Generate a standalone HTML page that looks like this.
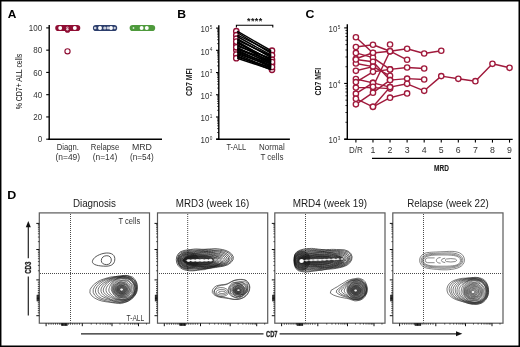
<!DOCTYPE html>
<html><head><meta charset="utf-8"><style>
html,body{margin:0;padding:0;background:#fff;}
svg{display:block;font-family:"Liberation Sans", sans-serif;will-change:transform;}
</style></head><body>
<svg xmlns="http://www.w3.org/2000/svg" width="520" height="347" viewBox="0 0 520 347">
<rect width="520" height="347" fill="#fff"/>
<rect x="0" y="0" width="520" height="1.5" fill="#000"/>
<rect x="0" y="0" width="1.45" height="347" fill="#000"/>
<rect x="518.5" y="0" width="1.5" height="347" fill="#000"/>
<rect x="0" y="345.5" width="520" height="1.5" fill="#000"/>
<text x="7.7" y="17.9" font-size="11.3" text-anchor="start" font-weight="bold" fill="#000" textLength="8.6" lengthAdjust="spacingAndGlyphs">A</text>
<text x="177.3" y="17.9" font-size="11.3" text-anchor="start" font-weight="bold" fill="#000" textLength="8.8" lengthAdjust="spacingAndGlyphs">B</text>
<text x="305.6" y="17.9" font-size="11.3" text-anchor="start" font-weight="bold" fill="#000" textLength="8.9" lengthAdjust="spacingAndGlyphs">C</text>
<text x="7.3" y="199.3" font-size="11.3" text-anchor="start" font-weight="bold" fill="#000" textLength="9" lengthAdjust="spacingAndGlyphs">D</text>
<line x1="49.2" y1="25" x2="49.2" y2="139.9" stroke="#000" stroke-width="1.4"/>
<line x1="48.5" y1="139.2" x2="162" y2="139.2" stroke="#000" stroke-width="1.4"/>
<line x1="46.2" y1="139.2" x2="49.2" y2="139.2" stroke="#000" stroke-width="1.1"/>
<text x="42.2" y="142.3" font-size="8.7" text-anchor="end" font-weight="normal" fill="#333" textLength="4.45" lengthAdjust="spacingAndGlyphs">0</text>
<line x1="46.2" y1="116.94" x2="49.2" y2="116.94" stroke="#000" stroke-width="1.1"/>
<text x="42.2" y="120.04" font-size="8.7" text-anchor="end" font-weight="normal" fill="#333" textLength="8.9" lengthAdjust="spacingAndGlyphs">20</text>
<line x1="46.2" y1="94.68" x2="49.2" y2="94.68" stroke="#000" stroke-width="1.1"/>
<text x="42.2" y="97.78" font-size="8.7" text-anchor="end" font-weight="normal" fill="#333" textLength="8.9" lengthAdjust="spacingAndGlyphs">40</text>
<line x1="46.2" y1="72.42" x2="49.2" y2="72.42" stroke="#000" stroke-width="1.1"/>
<text x="42.2" y="75.52" font-size="8.7" text-anchor="end" font-weight="normal" fill="#333" textLength="8.9" lengthAdjust="spacingAndGlyphs">60</text>
<line x1="46.2" y1="50.16" x2="49.2" y2="50.16" stroke="#000" stroke-width="1.1"/>
<text x="42.2" y="53.26" font-size="8.7" text-anchor="end" font-weight="normal" fill="#333" textLength="8.9" lengthAdjust="spacingAndGlyphs">80</text>
<line x1="46.2" y1="27.9" x2="49.2" y2="27.9" stroke="#000" stroke-width="1.1"/>
<text x="42.2" y="31" font-size="8.7" text-anchor="end" font-weight="normal" fill="#333" textLength="13.35" lengthAdjust="spacingAndGlyphs">100</text>
<text x="22.2" y="81.5" font-size="9.4" text-anchor="middle" font-weight="normal" fill="#111" textLength="55.6" lengthAdjust="spacingAndGlyphs" transform="rotate(-90 22.2 81.5)">% CD7+ ALL cells</text>
<text x="67.8" y="149.7" font-size="8.8" text-anchor="middle" font-weight="normal" fill="#333" textLength="22.1" lengthAdjust="spacingAndGlyphs">Diagn.</text>
<text x="67.8" y="159.5" font-size="8.8" text-anchor="middle" font-weight="normal" fill="#333" textLength="24.6" lengthAdjust="spacingAndGlyphs">(n=49)</text>
<text x="105" y="149.7" font-size="8.8" text-anchor="middle" font-weight="normal" fill="#333" textLength="28.4" lengthAdjust="spacingAndGlyphs">Relapse</text>
<text x="105" y="159.5" font-size="8.8" text-anchor="middle" font-weight="normal" fill="#333" textLength="24.6" lengthAdjust="spacingAndGlyphs">(n=14)</text>
<text x="141.9" y="149.7" font-size="8.8" text-anchor="middle" font-weight="normal" fill="#333" textLength="20" lengthAdjust="spacingAndGlyphs">MRD</text>
<text x="141.9" y="159.5" font-size="8.8" text-anchor="middle" font-weight="normal" fill="#333" textLength="23.9" lengthAdjust="spacingAndGlyphs">(n=54)</text>
<rect x="55.2" y="24.9" width="25.1" height="6.2" rx="3.1" fill="#8f0d33"/>
<circle cx="60.2" cy="28" r="1.95" fill="#fff"/>
<circle cx="74.8" cy="28" r="1.95" fill="#fff"/>
<circle cx="67.3" cy="28" r="1.5" fill="#fff" fill-opacity="0.75"/>
<circle cx="67.5" cy="30.2" r="2.6" fill="#8f0d33"/>
<circle cx="67.4" cy="29.2" r="1.2" fill="#fff" fill-opacity="0.8"/>
<circle cx="67.5" cy="51.3" r="2.6" fill="#fff" stroke="#8f0d33" stroke-width="1.15"/>
<rect x="92.9" y="24.9" width="24.3" height="6.2" rx="3.1" fill="#2c3e6c"/>
<circle cx="100" cy="28" r="1.95" fill="#fff"/>
<circle cx="111" cy="28" r="1.95" fill="#fff"/>
<circle cx="95.2" cy="28" r="1.3" fill="#fff" fill-opacity="0.75"/>
<circle cx="104.8" cy="28" r="1.6" fill="#fff" fill-opacity="0.75"/>
<circle cx="108" cy="28" r="1.4" fill="#fff" fill-opacity="0.75"/>
<circle cx="114.7" cy="28" r="1.2" fill="#fff" fill-opacity="0.75"/>
<rect x="129.6" y="24.9" width="25.6" height="6.2" rx="3.1" fill="#4e9a3c"/>
<circle cx="141.6" cy="28" r="1.95" fill="#fff"/>
<circle cx="146.8" cy="28" r="1.95" fill="#fff"/>
<circle cx="133.5" cy="28" r="0.9" fill="#fff" fill-opacity="0.75"/>
<line x1="218.8" y1="25.2" x2="218.8" y2="139.9" stroke="#000" stroke-width="1.4"/>
<line x1="216.3" y1="139.2" x2="289.9" y2="139.2" stroke="#000" stroke-width="1.4"/>
<line x1="216.0" y1="139.2" x2="218.8" y2="139.2" stroke="#000" stroke-width="1.1"/>
<text x="209.4" y="143.4" font-size="8.9" text-anchor="end" font-weight="normal" fill="#333" textLength="8.8" lengthAdjust="spacingAndGlyphs">10</text>
<text x="209.8" y="140" font-size="5.4" text-anchor="start" font-weight="normal" fill="#333" textLength="2.6" lengthAdjust="spacingAndGlyphs">0</text>
<line x1="217.2" y1="132.51" x2="218.8" y2="132.51" stroke="#000" stroke-width="0.8"/>
<line x1="217.2" y1="128.6" x2="218.8" y2="128.6" stroke="#000" stroke-width="0.8"/>
<line x1="217.2" y1="125.82" x2="218.8" y2="125.82" stroke="#000" stroke-width="0.8"/>
<line x1="217.2" y1="123.67" x2="218.8" y2="123.67" stroke="#000" stroke-width="0.8"/>
<line x1="217.2" y1="121.91" x2="218.8" y2="121.91" stroke="#000" stroke-width="0.8"/>
<line x1="217.2" y1="120.42" x2="218.8" y2="120.42" stroke="#000" stroke-width="0.8"/>
<line x1="217.2" y1="119.13" x2="218.8" y2="119.13" stroke="#000" stroke-width="0.8"/>
<line x1="217.2" y1="118" x2="218.8" y2="118" stroke="#000" stroke-width="0.8"/>
<line x1="216.0" y1="116.98" x2="218.8" y2="116.98" stroke="#000" stroke-width="1.1"/>
<text x="209.4" y="121.18" font-size="8.9" text-anchor="end" font-weight="normal" fill="#333" textLength="8.8" lengthAdjust="spacingAndGlyphs">10</text>
<text x="209.8" y="117.78" font-size="5.4" text-anchor="start" font-weight="normal" fill="#333" textLength="2.6" lengthAdjust="spacingAndGlyphs">1</text>
<line x1="217.2" y1="110.29" x2="218.8" y2="110.29" stroke="#000" stroke-width="0.8"/>
<line x1="217.2" y1="106.38" x2="218.8" y2="106.38" stroke="#000" stroke-width="0.8"/>
<line x1="217.2" y1="103.6" x2="218.8" y2="103.6" stroke="#000" stroke-width="0.8"/>
<line x1="217.2" y1="101.45" x2="218.8" y2="101.45" stroke="#000" stroke-width="0.8"/>
<line x1="217.2" y1="99.69" x2="218.8" y2="99.69" stroke="#000" stroke-width="0.8"/>
<line x1="217.2" y1="98.2" x2="218.8" y2="98.2" stroke="#000" stroke-width="0.8"/>
<line x1="217.2" y1="96.91" x2="218.8" y2="96.91" stroke="#000" stroke-width="0.8"/>
<line x1="217.2" y1="95.78" x2="218.8" y2="95.78" stroke="#000" stroke-width="0.8"/>
<line x1="216.0" y1="94.76" x2="218.8" y2="94.76" stroke="#000" stroke-width="1.1"/>
<text x="209.4" y="98.96" font-size="8.9" text-anchor="end" font-weight="normal" fill="#333" textLength="8.8" lengthAdjust="spacingAndGlyphs">10</text>
<text x="209.8" y="95.56" font-size="5.4" text-anchor="start" font-weight="normal" fill="#333" textLength="2.6" lengthAdjust="spacingAndGlyphs">2</text>
<line x1="217.2" y1="88.07" x2="218.8" y2="88.07" stroke="#000" stroke-width="0.8"/>
<line x1="217.2" y1="84.16" x2="218.8" y2="84.16" stroke="#000" stroke-width="0.8"/>
<line x1="217.2" y1="81.38" x2="218.8" y2="81.38" stroke="#000" stroke-width="0.8"/>
<line x1="217.2" y1="79.23" x2="218.8" y2="79.23" stroke="#000" stroke-width="0.8"/>
<line x1="217.2" y1="77.47" x2="218.8" y2="77.47" stroke="#000" stroke-width="0.8"/>
<line x1="217.2" y1="75.98" x2="218.8" y2="75.98" stroke="#000" stroke-width="0.8"/>
<line x1="217.2" y1="74.69" x2="218.8" y2="74.69" stroke="#000" stroke-width="0.8"/>
<line x1="217.2" y1="73.56" x2="218.8" y2="73.56" stroke="#000" stroke-width="0.8"/>
<line x1="216.0" y1="72.54" x2="218.8" y2="72.54" stroke="#000" stroke-width="1.1"/>
<text x="209.4" y="76.74" font-size="8.9" text-anchor="end" font-weight="normal" fill="#333" textLength="8.8" lengthAdjust="spacingAndGlyphs">10</text>
<text x="209.8" y="73.34" font-size="5.4" text-anchor="start" font-weight="normal" fill="#333" textLength="2.6" lengthAdjust="spacingAndGlyphs">3</text>
<line x1="217.2" y1="65.85" x2="218.8" y2="65.85" stroke="#000" stroke-width="0.8"/>
<line x1="217.2" y1="61.94" x2="218.8" y2="61.94" stroke="#000" stroke-width="0.8"/>
<line x1="217.2" y1="59.16" x2="218.8" y2="59.16" stroke="#000" stroke-width="0.8"/>
<line x1="217.2" y1="57.01" x2="218.8" y2="57.01" stroke="#000" stroke-width="0.8"/>
<line x1="217.2" y1="55.25" x2="218.8" y2="55.25" stroke="#000" stroke-width="0.8"/>
<line x1="217.2" y1="53.76" x2="218.8" y2="53.76" stroke="#000" stroke-width="0.8"/>
<line x1="217.2" y1="52.47" x2="218.8" y2="52.47" stroke="#000" stroke-width="0.8"/>
<line x1="217.2" y1="51.34" x2="218.8" y2="51.34" stroke="#000" stroke-width="0.8"/>
<line x1="216.0" y1="50.32" x2="218.8" y2="50.32" stroke="#000" stroke-width="1.1"/>
<text x="209.4" y="54.52" font-size="8.9" text-anchor="end" font-weight="normal" fill="#333" textLength="8.8" lengthAdjust="spacingAndGlyphs">10</text>
<text x="209.8" y="51.12" font-size="5.4" text-anchor="start" font-weight="normal" fill="#333" textLength="2.6" lengthAdjust="spacingAndGlyphs">4</text>
<line x1="217.2" y1="43.63" x2="218.8" y2="43.63" stroke="#000" stroke-width="0.8"/>
<line x1="217.2" y1="39.72" x2="218.8" y2="39.72" stroke="#000" stroke-width="0.8"/>
<line x1="217.2" y1="36.94" x2="218.8" y2="36.94" stroke="#000" stroke-width="0.8"/>
<line x1="217.2" y1="34.79" x2="218.8" y2="34.79" stroke="#000" stroke-width="0.8"/>
<line x1="217.2" y1="33.03" x2="218.8" y2="33.03" stroke="#000" stroke-width="0.8"/>
<line x1="217.2" y1="31.54" x2="218.8" y2="31.54" stroke="#000" stroke-width="0.8"/>
<line x1="217.2" y1="30.25" x2="218.8" y2="30.25" stroke="#000" stroke-width="0.8"/>
<line x1="217.2" y1="29.12" x2="218.8" y2="29.12" stroke="#000" stroke-width="0.8"/>
<line x1="216.0" y1="28.1" x2="218.8" y2="28.1" stroke="#000" stroke-width="1.1"/>
<text x="209.4" y="32.3" font-size="8.9" text-anchor="end" font-weight="normal" fill="#333" textLength="8.8" lengthAdjust="spacingAndGlyphs">10</text>
<text x="209.8" y="28.9" font-size="5.4" text-anchor="start" font-weight="normal" fill="#333" textLength="2.6" lengthAdjust="spacingAndGlyphs">5</text>
<text x="192.3" y="82.1" font-size="8.9" text-anchor="middle" font-weight="bold" fill="#222" textLength="27.7" lengthAdjust="spacingAndGlyphs" transform="rotate(-90 192.3 82.1)">CD7 MFI</text>
<text x="236.3" y="149.6" font-size="8.8" text-anchor="middle" font-weight="normal" fill="#333" textLength="19.8" lengthAdjust="spacingAndGlyphs">T-ALL</text>
<text x="271.9" y="149.6" font-size="8.8" text-anchor="middle" font-weight="normal" fill="#333" textLength="25.6" lengthAdjust="spacingAndGlyphs">Normal</text>
<text x="271.9" y="159.6" font-size="8.8" text-anchor="middle" font-weight="normal" fill="#333" textLength="23" lengthAdjust="spacingAndGlyphs">T cells</text>
<path d="M236.4 27.6 V25.2 H272.8 V27.6" fill="none" stroke="#000" stroke-width="1.1"/>
<text x="248.8" y="24.2" font-size="9.0" text-anchor="middle" font-weight="bold" fill="#111" >*</text>
<text x="252.7" y="24.2" font-size="9.0" text-anchor="middle" font-weight="bold" fill="#111" >*</text>
<text x="256.6" y="24.2" font-size="9.0" text-anchor="middle" font-weight="bold" fill="#111" >*</text>
<text x="260.5" y="24.2" font-size="9.0" text-anchor="middle" font-weight="bold" fill="#111" >*</text>
<circle cx="236.3" cy="31.2" r="2.7" fill="#fff" stroke="#8f0d33" stroke-width="1.3"/>
<circle cx="236.3" cy="35.2" r="2.7" fill="#fff" stroke="#8f0d33" stroke-width="1.3"/>
<circle cx="236.3" cy="38.7" r="2.7" fill="#fff" stroke="#8f0d33" stroke-width="1.3"/>
<circle cx="236.3" cy="44.7" r="2.7" fill="#fff" stroke="#8f0d33" stroke-width="1.3"/>
<circle cx="236.3" cy="41.6" r="2.7" fill="#fff" stroke="#8f0d33" stroke-width="1.3"/>
<circle cx="236.3" cy="50" r="2.7" fill="#fff" stroke="#8f0d33" stroke-width="1.3"/>
<circle cx="236.3" cy="47.3" r="2.7" fill="#fff" stroke="#8f0d33" stroke-width="1.3"/>
<circle cx="236.3" cy="54.5" r="2.7" fill="#fff" stroke="#8f0d33" stroke-width="1.3"/>
<circle cx="236.3" cy="58.2" r="2.7" fill="#fff" stroke="#8f0d33" stroke-width="1.3"/>
<circle cx="272" cy="50.7" r="2.7" fill="#fff" stroke="#8f0d33" stroke-width="1.3"/>
<circle cx="272" cy="55.2" r="2.7" fill="#fff" stroke="#8f0d33" stroke-width="1.3"/>
<circle cx="272" cy="59.7" r="2.7" fill="#fff" stroke="#8f0d33" stroke-width="1.3"/>
<circle cx="272" cy="64.2" r="2.7" fill="#fff" stroke="#8f0d33" stroke-width="1.3"/>
<circle cx="272" cy="62" r="2.7" fill="#fff" stroke="#8f0d33" stroke-width="1.3"/>
<circle cx="272" cy="69.8" r="2.7" fill="#fff" stroke="#8f0d33" stroke-width="1.3"/>
<circle cx="272" cy="67" r="2.7" fill="#fff" stroke="#8f0d33" stroke-width="1.3"/>
<line x1="237.2" y1="31.2" x2="271.2" y2="50.7" stroke="#000" stroke-width="1.45"/>
<line x1="237.2" y1="32.5" x2="271.2" y2="53.5" stroke="#000" stroke-width="1.45"/>
<line x1="237.2" y1="34.8" x2="271.2" y2="52" stroke="#000" stroke-width="1.45"/>
<line x1="237.2" y1="36.5" x2="271.2" y2="55.2" stroke="#000" stroke-width="1.45"/>
<line x1="237.2" y1="38.7" x2="271.2" y2="57.5" stroke="#000" stroke-width="1.45"/>
<line x1="237.2" y1="40" x2="271.2" y2="56" stroke="#000" stroke-width="1.45"/>
<line x1="237.2" y1="41.5" x2="271.2" y2="60.5" stroke="#000" stroke-width="1.45"/>
<line x1="237.2" y1="43" x2="271.2" y2="59.7" stroke="#000" stroke-width="1.45"/>
<line x1="237.2" y1="44.7" x2="271.2" y2="62" stroke="#000" stroke-width="1.45"/>
<line x1="237.2" y1="46" x2="271.2" y2="58.5" stroke="#000" stroke-width="1.45"/>
<line x1="237.2" y1="47.4" x2="271.2" y2="64.2" stroke="#000" stroke-width="1.45"/>
<line x1="237.2" y1="49" x2="271.2" y2="62.5" stroke="#000" stroke-width="1.45"/>
<line x1="237.2" y1="50" x2="271.2" y2="66" stroke="#000" stroke-width="1.45"/>
<line x1="237.2" y1="51.5" x2="271.2" y2="64" stroke="#000" stroke-width="1.45"/>
<line x1="237.2" y1="52.2" x2="271.2" y2="67" stroke="#000" stroke-width="1.45"/>
<line x1="237.2" y1="53.5" x2="271.2" y2="65.5" stroke="#000" stroke-width="1.45"/>
<line x1="237.2" y1="54.5" x2="271.2" y2="68.5" stroke="#000" stroke-width="1.45"/>
<line x1="237.2" y1="56" x2="271.2" y2="69.8" stroke="#000" stroke-width="1.45"/>
<line x1="237.2" y1="58.2" x2="271.2" y2="69.5" stroke="#000" stroke-width="1.45"/>
<line x1="237.2" y1="57" x2="271.2" y2="67.5" stroke="#000" stroke-width="1.45"/>
<line x1="237.2" y1="42" x2="271.2" y2="63.5" stroke="#000" stroke-width="1.45"/>
<line x1="237.2" y1="48.5" x2="271.2" y2="60.8" stroke="#000" stroke-width="1.45"/>
<line x1="347.3" y1="24.2" x2="347.3" y2="139.7" stroke="#000" stroke-width="1.4"/>
<line x1="344.2" y1="139.4" x2="512.7" y2="139.4" stroke="#000" stroke-width="1.4"/>
<line x1="344.2" y1="139" x2="347.3" y2="139" stroke="#000" stroke-width="1.1"/>
<text x="337.4" y="143.2" font-size="8.9" text-anchor="end" font-weight="normal" fill="#333" textLength="8.8" lengthAdjust="spacingAndGlyphs">10</text>
<text x="337.8" y="139.8" font-size="5.4" text-anchor="start" font-weight="normal" fill="#333" textLength="2.6" lengthAdjust="spacingAndGlyphs">3</text>
<line x1="345.4" y1="122.28" x2="347.3" y2="122.28" stroke="#000" stroke-width="0.8"/>
<line x1="345.4" y1="112.5" x2="347.3" y2="112.5" stroke="#000" stroke-width="0.8"/>
<line x1="345.4" y1="105.56" x2="347.3" y2="105.56" stroke="#000" stroke-width="0.8"/>
<line x1="345.4" y1="100.17" x2="347.3" y2="100.17" stroke="#000" stroke-width="0.8"/>
<line x1="345.4" y1="95.77" x2="347.3" y2="95.77" stroke="#000" stroke-width="0.8"/>
<line x1="345.4" y1="92.05" x2="347.3" y2="92.05" stroke="#000" stroke-width="0.8"/>
<line x1="345.4" y1="88.83" x2="347.3" y2="88.83" stroke="#000" stroke-width="0.8"/>
<line x1="345.4" y1="85.99" x2="347.3" y2="85.99" stroke="#000" stroke-width="0.8"/>
<line x1="344.2" y1="83.45" x2="347.3" y2="83.45" stroke="#000" stroke-width="1.1"/>
<text x="337.4" y="87.65" font-size="8.9" text-anchor="end" font-weight="normal" fill="#333" textLength="8.8" lengthAdjust="spacingAndGlyphs">10</text>
<text x="337.8" y="84.25" font-size="5.4" text-anchor="start" font-weight="normal" fill="#333" textLength="2.6" lengthAdjust="spacingAndGlyphs">4</text>
<line x1="345.4" y1="66.73" x2="347.3" y2="66.73" stroke="#000" stroke-width="0.8"/>
<line x1="345.4" y1="56.95" x2="347.3" y2="56.95" stroke="#000" stroke-width="0.8"/>
<line x1="345.4" y1="50.01" x2="347.3" y2="50.01" stroke="#000" stroke-width="0.8"/>
<line x1="345.4" y1="44.62" x2="347.3" y2="44.62" stroke="#000" stroke-width="0.8"/>
<line x1="345.4" y1="40.22" x2="347.3" y2="40.22" stroke="#000" stroke-width="0.8"/>
<line x1="345.4" y1="36.5" x2="347.3" y2="36.5" stroke="#000" stroke-width="0.8"/>
<line x1="345.4" y1="33.28" x2="347.3" y2="33.28" stroke="#000" stroke-width="0.8"/>
<line x1="345.4" y1="30.44" x2="347.3" y2="30.44" stroke="#000" stroke-width="0.8"/>
<line x1="344.2" y1="27.9" x2="347.3" y2="27.9" stroke="#000" stroke-width="1.1"/>
<text x="337.4" y="32.1" font-size="8.9" text-anchor="end" font-weight="normal" fill="#333" textLength="8.8" lengthAdjust="spacingAndGlyphs">10</text>
<text x="337.8" y="28.7" font-size="5.4" text-anchor="start" font-weight="normal" fill="#333" textLength="2.6" lengthAdjust="spacingAndGlyphs">5</text>
<text x="321" y="81.6" font-size="8.9" text-anchor="middle" font-weight="bold" fill="#222" textLength="27.6" lengthAdjust="spacingAndGlyphs" transform="rotate(-90 321 81.6)">CD7 MFI</text>
<line x1="355.9" y1="139.4" x2="355.9" y2="142.6" stroke="#000" stroke-width="1.1"/>
<text x="355.9" y="153.3" font-size="8.8" text-anchor="middle" font-weight="normal" fill="#333" textLength="13.8" lengthAdjust="spacingAndGlyphs">D/R</text>
<line x1="372.97" y1="139.4" x2="372.97" y2="142.6" stroke="#000" stroke-width="1.1"/>
<text x="372.97" y="153.3" font-size="8.8" text-anchor="middle" font-weight="normal" fill="#333" textLength="4.9" lengthAdjust="spacingAndGlyphs">1</text>
<line x1="390.04" y1="139.4" x2="390.04" y2="142.6" stroke="#000" stroke-width="1.1"/>
<text x="390.04" y="153.3" font-size="8.8" text-anchor="middle" font-weight="normal" fill="#333" textLength="4.9" lengthAdjust="spacingAndGlyphs">2</text>
<line x1="407.11" y1="139.4" x2="407.11" y2="142.6" stroke="#000" stroke-width="1.1"/>
<text x="407.11" y="153.3" font-size="8.8" text-anchor="middle" font-weight="normal" fill="#333" textLength="4.9" lengthAdjust="spacingAndGlyphs">3</text>
<line x1="424.18" y1="139.4" x2="424.18" y2="142.6" stroke="#000" stroke-width="1.1"/>
<text x="424.18" y="153.3" font-size="8.8" text-anchor="middle" font-weight="normal" fill="#333" textLength="4.9" lengthAdjust="spacingAndGlyphs">4</text>
<line x1="441.25" y1="139.4" x2="441.25" y2="142.6" stroke="#000" stroke-width="1.1"/>
<text x="441.25" y="153.3" font-size="8.8" text-anchor="middle" font-weight="normal" fill="#333" textLength="4.9" lengthAdjust="spacingAndGlyphs">5</text>
<line x1="458.32" y1="139.4" x2="458.32" y2="142.6" stroke="#000" stroke-width="1.1"/>
<text x="458.32" y="153.3" font-size="8.8" text-anchor="middle" font-weight="normal" fill="#333" textLength="4.9" lengthAdjust="spacingAndGlyphs">6</text>
<line x1="475.39" y1="139.4" x2="475.39" y2="142.6" stroke="#000" stroke-width="1.1"/>
<text x="475.39" y="153.3" font-size="8.8" text-anchor="middle" font-weight="normal" fill="#333" textLength="4.9" lengthAdjust="spacingAndGlyphs">7</text>
<line x1="492.46" y1="139.4" x2="492.46" y2="142.6" stroke="#000" stroke-width="1.1"/>
<text x="492.46" y="153.3" font-size="8.8" text-anchor="middle" font-weight="normal" fill="#333" textLength="4.9" lengthAdjust="spacingAndGlyphs">8</text>
<line x1="509.53" y1="139.4" x2="509.53" y2="142.6" stroke="#000" stroke-width="1.1"/>
<text x="509.53" y="153.3" font-size="8.8" text-anchor="middle" font-weight="normal" fill="#333" textLength="4.9" lengthAdjust="spacingAndGlyphs">9</text>
<line x1="372" y1="158.4" x2="511" y2="158.4" stroke="#000" stroke-width="1.3"/>
<text x="441.5" y="170.9" font-size="9.8" text-anchor="middle" font-weight="bold" fill="#222" stroke="#222" stroke-width="0.15" textLength="14.8" lengthAdjust="spacingAndGlyphs">MRD</text>
<path d="M355.9 47 L372.97 44.7 L390.04 51.2 L407.11 48.7 L424.18 53.5 L441.25 50.7" fill="none" stroke="#a01a3c" stroke-width="1.45" stroke-linejoin="round"/>
<path d="M355.9 37.2 L372.97 53 L390.04 51.2 L407.11 59.8" fill="none" stroke="#a01a3c" stroke-width="1.45" stroke-linejoin="round"/>
<path d="M390.04 44.5" fill="none" stroke="#a01a3c" stroke-width="1.45" stroke-linejoin="round"/>
<path d="M355.9 52.9 L372.97 57.6 L390.04 69.4 L407.11 67.5 L424.18 68.5" fill="none" stroke="#a01a3c" stroke-width="1.45" stroke-linejoin="round"/>
<path d="M355.9 58.8 L372.97 52.8" fill="none" stroke="#a01a3c" stroke-width="1.45" stroke-linejoin="round"/>
<path d="M355.9 63.5 L372.97 66.6 L390.04 75.8" fill="none" stroke="#a01a3c" stroke-width="1.45" stroke-linejoin="round"/>
<path d="M355.9 59.5 L372.97 61.8 L390.04 80.1 L407.11 78.6 L424.18 79.5" fill="none" stroke="#a01a3c" stroke-width="1.45" stroke-linejoin="round"/>
<path d="M355.9 70.8 L372.97 66.6" fill="none" stroke="#a01a3c" stroke-width="1.45" stroke-linejoin="round"/>
<path d="M355.9 79 L372.97 82.9 L390.04 87.1 L407.11 83.8 L424.18 90.8 L441.25 76.1 L458.32 78.8 L475.39 81.2 L492.46 63.8 L509.53 67.8" fill="none" stroke="#a01a3c" stroke-width="1.45" stroke-linejoin="round"/>
<path d="M355.9 82.1 L372.97 71.8 L390.04 69.4" fill="none" stroke="#a01a3c" stroke-width="1.45" stroke-linejoin="round"/>
<path d="M355.9 87.6 L372.97 87.6 L390.04 88.6" fill="none" stroke="#a01a3c" stroke-width="1.45" stroke-linejoin="round"/>
<path d="M355.9 93.7 L372.97 82.9" fill="none" stroke="#a01a3c" stroke-width="1.45" stroke-linejoin="round"/>
<path d="M355.9 98.7 L372.97 106.8 L390.04 97.7 L407.11 93.4" fill="none" stroke="#a01a3c" stroke-width="1.45" stroke-linejoin="round"/>
<path d="M355.9 104.3 L372.97 92.7 L390.04 80.1" fill="none" stroke="#a01a3c" stroke-width="1.45" stroke-linejoin="round"/>
<path d="M372.97 86.8 L390.04 51.2" fill="none" stroke="#a01a3c" stroke-width="1.45" stroke-linejoin="round"/>
<path d="M372.97 106.8 L390.04 87.1" fill="none" stroke="#a01a3c" stroke-width="1.45" stroke-linejoin="round"/>
<circle cx="355.9" cy="47" r="2.65" fill="#fff" stroke="#a01a3c" stroke-width="1.35"/>
<circle cx="372.97" cy="44.7" r="2.65" fill="#fff" stroke="#a01a3c" stroke-width="1.35"/>
<circle cx="390.04" cy="51.2" r="2.65" fill="#fff" stroke="#a01a3c" stroke-width="1.35"/>
<circle cx="407.11" cy="48.7" r="2.65" fill="#fff" stroke="#a01a3c" stroke-width="1.35"/>
<circle cx="424.18" cy="53.5" r="2.65" fill="#fff" stroke="#a01a3c" stroke-width="1.35"/>
<circle cx="441.25" cy="50.7" r="2.65" fill="#fff" stroke="#a01a3c" stroke-width="1.35"/>
<circle cx="355.9" cy="37.2" r="2.65" fill="#fff" stroke="#a01a3c" stroke-width="1.35"/>
<circle cx="372.97" cy="53" r="2.65" fill="#fff" stroke="#a01a3c" stroke-width="1.35"/>
<circle cx="390.04" cy="51.2" r="2.65" fill="#fff" stroke="#a01a3c" stroke-width="1.35"/>
<circle cx="407.11" cy="59.8" r="2.65" fill="#fff" stroke="#a01a3c" stroke-width="1.35"/>
<circle cx="390.04" cy="44.5" r="2.65" fill="#fff" stroke="#a01a3c" stroke-width="1.35"/>
<circle cx="355.9" cy="52.9" r="2.65" fill="#fff" stroke="#a01a3c" stroke-width="1.35"/>
<circle cx="372.97" cy="57.6" r="2.65" fill="#fff" stroke="#a01a3c" stroke-width="1.35"/>
<circle cx="390.04" cy="69.4" r="2.65" fill="#fff" stroke="#a01a3c" stroke-width="1.35"/>
<circle cx="407.11" cy="67.5" r="2.65" fill="#fff" stroke="#a01a3c" stroke-width="1.35"/>
<circle cx="424.18" cy="68.5" r="2.65" fill="#fff" stroke="#a01a3c" stroke-width="1.35"/>
<circle cx="355.9" cy="58.8" r="2.65" fill="#fff" stroke="#a01a3c" stroke-width="1.35"/>
<circle cx="372.97" cy="52.8" r="2.65" fill="#fff" stroke="#a01a3c" stroke-width="1.35"/>
<circle cx="355.9" cy="63.5" r="2.65" fill="#fff" stroke="#a01a3c" stroke-width="1.35"/>
<circle cx="372.97" cy="66.6" r="2.65" fill="#fff" stroke="#a01a3c" stroke-width="1.35"/>
<circle cx="390.04" cy="75.8" r="2.65" fill="#fff" stroke="#a01a3c" stroke-width="1.35"/>
<circle cx="355.9" cy="59.5" r="2.65" fill="#fff" stroke="#a01a3c" stroke-width="1.35"/>
<circle cx="372.97" cy="61.8" r="2.65" fill="#fff" stroke="#a01a3c" stroke-width="1.35"/>
<circle cx="390.04" cy="80.1" r="2.65" fill="#fff" stroke="#a01a3c" stroke-width="1.35"/>
<circle cx="407.11" cy="78.6" r="2.65" fill="#fff" stroke="#a01a3c" stroke-width="1.35"/>
<circle cx="424.18" cy="79.5" r="2.65" fill="#fff" stroke="#a01a3c" stroke-width="1.35"/>
<circle cx="355.9" cy="70.8" r="2.65" fill="#fff" stroke="#a01a3c" stroke-width="1.35"/>
<circle cx="372.97" cy="66.6" r="2.65" fill="#fff" stroke="#a01a3c" stroke-width="1.35"/>
<circle cx="355.9" cy="79" r="2.65" fill="#fff" stroke="#a01a3c" stroke-width="1.35"/>
<circle cx="372.97" cy="82.9" r="2.65" fill="#fff" stroke="#a01a3c" stroke-width="1.35"/>
<circle cx="390.04" cy="87.1" r="2.65" fill="#fff" stroke="#a01a3c" stroke-width="1.35"/>
<circle cx="407.11" cy="83.8" r="2.65" fill="#fff" stroke="#a01a3c" stroke-width="1.35"/>
<circle cx="424.18" cy="90.8" r="2.65" fill="#fff" stroke="#a01a3c" stroke-width="1.35"/>
<circle cx="441.25" cy="76.1" r="2.65" fill="#fff" stroke="#a01a3c" stroke-width="1.35"/>
<circle cx="458.32" cy="78.8" r="2.65" fill="#fff" stroke="#a01a3c" stroke-width="1.35"/>
<circle cx="475.39" cy="81.2" r="2.65" fill="#fff" stroke="#a01a3c" stroke-width="1.35"/>
<circle cx="492.46" cy="63.8" r="2.65" fill="#fff" stroke="#a01a3c" stroke-width="1.35"/>
<circle cx="509.53" cy="67.8" r="2.65" fill="#fff" stroke="#a01a3c" stroke-width="1.35"/>
<circle cx="355.9" cy="82.1" r="2.65" fill="#fff" stroke="#a01a3c" stroke-width="1.35"/>
<circle cx="372.97" cy="71.8" r="2.65" fill="#fff" stroke="#a01a3c" stroke-width="1.35"/>
<circle cx="390.04" cy="69.4" r="2.65" fill="#fff" stroke="#a01a3c" stroke-width="1.35"/>
<circle cx="355.9" cy="87.6" r="2.65" fill="#fff" stroke="#a01a3c" stroke-width="1.35"/>
<circle cx="372.97" cy="87.6" r="2.65" fill="#fff" stroke="#a01a3c" stroke-width="1.35"/>
<circle cx="390.04" cy="88.6" r="2.65" fill="#fff" stroke="#a01a3c" stroke-width="1.35"/>
<circle cx="355.9" cy="93.7" r="2.65" fill="#fff" stroke="#a01a3c" stroke-width="1.35"/>
<circle cx="372.97" cy="82.9" r="2.65" fill="#fff" stroke="#a01a3c" stroke-width="1.35"/>
<circle cx="355.9" cy="98.7" r="2.65" fill="#fff" stroke="#a01a3c" stroke-width="1.35"/>
<circle cx="372.97" cy="106.8" r="2.65" fill="#fff" stroke="#a01a3c" stroke-width="1.35"/>
<circle cx="390.04" cy="97.7" r="2.65" fill="#fff" stroke="#a01a3c" stroke-width="1.35"/>
<circle cx="407.11" cy="93.4" r="2.65" fill="#fff" stroke="#a01a3c" stroke-width="1.35"/>
<circle cx="355.9" cy="104.3" r="2.65" fill="#fff" stroke="#a01a3c" stroke-width="1.35"/>
<circle cx="372.97" cy="92.7" r="2.65" fill="#fff" stroke="#a01a3c" stroke-width="1.35"/>
<circle cx="390.04" cy="80.1" r="2.65" fill="#fff" stroke="#a01a3c" stroke-width="1.35"/>
<circle cx="372.97" cy="86.8" r="2.65" fill="#fff" stroke="#a01a3c" stroke-width="1.35"/>
<circle cx="390.04" cy="51.2" r="2.65" fill="#fff" stroke="#a01a3c" stroke-width="1.35"/>
<circle cx="372.97" cy="106.8" r="2.65" fill="#fff" stroke="#a01a3c" stroke-width="1.35"/>
<circle cx="390.04" cy="87.1" r="2.65" fill="#fff" stroke="#a01a3c" stroke-width="1.35"/>
<text x="94.4" y="206.8" font-size="10.0" text-anchor="middle" font-weight="normal" fill="#1a1a1a" textLength="43" lengthAdjust="spacingAndGlyphs">Diagnosis</text>
<text x="212.6" y="206.8" font-size="10.0" text-anchor="middle" font-weight="normal" fill="#1a1a1a" textLength="73.5" lengthAdjust="spacingAndGlyphs">MRD3 (week 16)</text>
<text x="329.9" y="206.8" font-size="10.0" text-anchor="middle" font-weight="normal" fill="#1a1a1a" textLength="74.5" lengthAdjust="spacingAndGlyphs">MRD4 (week 19)</text>
<text x="447.9" y="206.8" font-size="10.0" text-anchor="middle" font-weight="normal" fill="#1a1a1a" textLength="81.5" lengthAdjust="spacingAndGlyphs">Relapse (week 22)</text>
<rect x="39.3" y="212.9" width="110.2" height="110.3" fill="none" stroke="#5a5a5a" stroke-width="1.2"/>
<line x1="70.5" y1="214" x2="70.5" y2="322.5" stroke="#4a4a4a" stroke-width="1" stroke-dasharray="1 1"/>
<line x1="40" y1="273.5" x2="148.9" y2="273.5" stroke="#4a4a4a" stroke-width="1" stroke-dasharray="1 1"/>
<line x1="36.3" y1="223.4" x2="39.3" y2="223.4" stroke="#111" stroke-width="1.0"/>
<line x1="36.3" y1="249.5" x2="39.3" y2="249.5" stroke="#111" stroke-width="1.0"/>
<line x1="36.3" y1="279.9" x2="39.3" y2="279.9" stroke="#111" stroke-width="1.0"/>
<line x1="36.3" y1="315.7" x2="39.3" y2="315.7" stroke="#111" stroke-width="1.0"/>
<line x1="37.9" y1="241.64" x2="39.3" y2="241.64" stroke="#111" stroke-width="0.7"/>
<line x1="37.9" y1="237.05" x2="39.3" y2="237.05" stroke="#111" stroke-width="0.7"/>
<line x1="37.9" y1="233.79" x2="39.3" y2="233.79" stroke="#111" stroke-width="0.7"/>
<line x1="37.9" y1="231.26" x2="39.3" y2="231.26" stroke="#111" stroke-width="0.7"/>
<line x1="37.9" y1="229.19" x2="39.3" y2="229.19" stroke="#111" stroke-width="0.7"/>
<line x1="37.9" y1="227.44" x2="39.3" y2="227.44" stroke="#111" stroke-width="0.7"/>
<line x1="37.9" y1="225.93" x2="39.3" y2="225.93" stroke="#111" stroke-width="0.7"/>
<line x1="37.9" y1="224.59" x2="39.3" y2="224.59" stroke="#111" stroke-width="0.7"/>
<line x1="37.9" y1="270.75" x2="39.3" y2="270.75" stroke="#111" stroke-width="0.7"/>
<line x1="37.9" y1="265.4" x2="39.3" y2="265.4" stroke="#111" stroke-width="0.7"/>
<line x1="37.9" y1="261.6" x2="39.3" y2="261.6" stroke="#111" stroke-width="0.7"/>
<line x1="37.9" y1="258.65" x2="39.3" y2="258.65" stroke="#111" stroke-width="0.7"/>
<line x1="37.9" y1="256.24" x2="39.3" y2="256.24" stroke="#111" stroke-width="0.7"/>
<line x1="37.9" y1="254.21" x2="39.3" y2="254.21" stroke="#111" stroke-width="0.7"/>
<line x1="37.9" y1="252.45" x2="39.3" y2="252.45" stroke="#111" stroke-width="0.7"/>
<line x1="37.9" y1="250.89" x2="39.3" y2="250.89" stroke="#111" stroke-width="0.7"/>
<line x1="36.7" y1="295.3" x2="39.3" y2="295.3" stroke="#111" stroke-width="1.0"/>
<line x1="36.7" y1="296.09" x2="39.3" y2="296.09" stroke="#111" stroke-width="1.0"/>
<line x1="36.7" y1="296.87" x2="39.3" y2="296.87" stroke="#111" stroke-width="1.0"/>
<line x1="36.7" y1="297.66" x2="39.3" y2="297.66" stroke="#111" stroke-width="1.0"/>
<line x1="36.7" y1="298.44" x2="39.3" y2="298.44" stroke="#111" stroke-width="1.0"/>
<line x1="36.7" y1="299.23" x2="39.3" y2="299.23" stroke="#111" stroke-width="1.0"/>
<line x1="36.7" y1="300.01" x2="39.3" y2="300.01" stroke="#111" stroke-width="1.0"/>
<line x1="36.7" y1="300.8" x2="39.3" y2="300.8" stroke="#111" stroke-width="1.0"/>
<line x1="37.8" y1="282.2" x2="39.3" y2="282.2" stroke="#111" stroke-width="0.75"/>
<line x1="37.8" y1="284.3" x2="39.3" y2="284.3" stroke="#111" stroke-width="0.75"/>
<line x1="37.8" y1="286.5" x2="39.3" y2="286.5" stroke="#111" stroke-width="0.75"/>
<line x1="37.8" y1="288.6" x2="39.3" y2="288.6" stroke="#111" stroke-width="0.75"/>
<line x1="37.8" y1="290.6" x2="39.3" y2="290.6" stroke="#111" stroke-width="0.75"/>
<line x1="37.8" y1="292.5" x2="39.3" y2="292.5" stroke="#111" stroke-width="0.75"/>
<line x1="37.8" y1="294" x2="39.3" y2="294" stroke="#111" stroke-width="0.75"/>
<line x1="37.8" y1="302.3" x2="39.3" y2="302.3" stroke="#111" stroke-width="0.75"/>
<line x1="37.8" y1="304.2" x2="39.3" y2="304.2" stroke="#111" stroke-width="0.75"/>
<line x1="37.8" y1="306.3" x2="39.3" y2="306.3" stroke="#111" stroke-width="0.75"/>
<line x1="37.8" y1="308.4" x2="39.3" y2="308.4" stroke="#111" stroke-width="0.75"/>
<line x1="37.8" y1="310.6" x2="39.3" y2="310.6" stroke="#111" stroke-width="0.75"/>
<line x1="37.8" y1="312.8" x2="39.3" y2="312.8" stroke="#111" stroke-width="0.75"/>
<line x1="46.1" y1="323.2" x2="46.1" y2="326.2" stroke="#111" stroke-width="1.0"/>
<line x1="82.3" y1="323.2" x2="82.3" y2="326.2" stroke="#111" stroke-width="1.0"/>
<line x1="112" y1="323.2" x2="112" y2="326.2" stroke="#111" stroke-width="1.0"/>
<line x1="138.5" y1="323.2" x2="138.5" y2="326.2" stroke="#111" stroke-width="1.0"/>
<line x1="91.24" y1="323.2" x2="91.24" y2="324.6" stroke="#111" stroke-width="0.7"/>
<line x1="96.47" y1="323.2" x2="96.47" y2="324.6" stroke="#111" stroke-width="0.7"/>
<line x1="100.18" y1="323.2" x2="100.18" y2="324.6" stroke="#111" stroke-width="0.7"/>
<line x1="103.06" y1="323.2" x2="103.06" y2="324.6" stroke="#111" stroke-width="0.7"/>
<line x1="105.41" y1="323.2" x2="105.41" y2="324.6" stroke="#111" stroke-width="0.7"/>
<line x1="107.4" y1="323.2" x2="107.4" y2="324.6" stroke="#111" stroke-width="0.7"/>
<line x1="109.12" y1="323.2" x2="109.12" y2="324.6" stroke="#111" stroke-width="0.7"/>
<line x1="110.64" y1="323.2" x2="110.64" y2="324.6" stroke="#111" stroke-width="0.7"/>
<line x1="119.98" y1="323.2" x2="119.98" y2="324.6" stroke="#111" stroke-width="0.7"/>
<line x1="124.64" y1="323.2" x2="124.64" y2="324.6" stroke="#111" stroke-width="0.7"/>
<line x1="127.95" y1="323.2" x2="127.95" y2="324.6" stroke="#111" stroke-width="0.7"/>
<line x1="130.52" y1="323.2" x2="130.52" y2="324.6" stroke="#111" stroke-width="0.7"/>
<line x1="132.62" y1="323.2" x2="132.62" y2="324.6" stroke="#111" stroke-width="0.7"/>
<line x1="134.4" y1="323.2" x2="134.4" y2="324.6" stroke="#111" stroke-width="0.7"/>
<line x1="135.93" y1="323.2" x2="135.93" y2="324.6" stroke="#111" stroke-width="0.7"/>
<line x1="137.29" y1="323.2" x2="137.29" y2="324.6" stroke="#111" stroke-width="0.7"/>
<line x1="146.48" y1="323.2" x2="146.48" y2="324.6" stroke="#111" stroke-width="0.7"/>
<line x1="61.7" y1="323.2" x2="61.7" y2="325.8" stroke="#111" stroke-width="1.0"/>
<line x1="62.47" y1="323.2" x2="62.47" y2="325.8" stroke="#111" stroke-width="1.0"/>
<line x1="63.24" y1="323.2" x2="63.24" y2="325.8" stroke="#111" stroke-width="1.0"/>
<line x1="64.01" y1="323.2" x2="64.01" y2="325.8" stroke="#111" stroke-width="1.0"/>
<line x1="64.79" y1="323.2" x2="64.79" y2="325.8" stroke="#111" stroke-width="1.0"/>
<line x1="65.56" y1="323.2" x2="65.56" y2="325.8" stroke="#111" stroke-width="1.0"/>
<line x1="66.33" y1="323.2" x2="66.33" y2="325.8" stroke="#111" stroke-width="1.0"/>
<line x1="67.1" y1="323.2" x2="67.1" y2="325.8" stroke="#111" stroke-width="1.0"/>
<line x1="48.8" y1="323.2" x2="48.8" y2="324.7" stroke="#111" stroke-width="0.75"/>
<line x1="51.1" y1="323.2" x2="51.1" y2="324.7" stroke="#111" stroke-width="0.75"/>
<line x1="53.3" y1="323.2" x2="53.3" y2="324.7" stroke="#111" stroke-width="0.75"/>
<line x1="55.5" y1="323.2" x2="55.5" y2="324.7" stroke="#111" stroke-width="0.75"/>
<line x1="57.6" y1="323.2" x2="57.6" y2="324.7" stroke="#111" stroke-width="0.75"/>
<line x1="59.6" y1="323.2" x2="59.6" y2="324.7" stroke="#111" stroke-width="0.75"/>
<line x1="61" y1="323.2" x2="61" y2="324.7" stroke="#111" stroke-width="0.75"/>
<line x1="68.6" y1="323.2" x2="68.6" y2="324.7" stroke="#111" stroke-width="0.75"/>
<line x1="70.5" y1="323.2" x2="70.5" y2="324.7" stroke="#111" stroke-width="0.75"/>
<line x1="72.6" y1="323.2" x2="72.6" y2="324.7" stroke="#111" stroke-width="0.75"/>
<line x1="74.8" y1="323.2" x2="74.8" y2="324.7" stroke="#111" stroke-width="0.75"/>
<line x1="77.1" y1="323.2" x2="77.1" y2="324.7" stroke="#111" stroke-width="0.75"/>
<line x1="79.5" y1="323.2" x2="79.5" y2="324.7" stroke="#111" stroke-width="0.75"/>
<rect x="157.5" y="212.9" width="110.2" height="110.3" fill="none" stroke="#5a5a5a" stroke-width="1.2"/>
<line x1="187.7" y1="214" x2="187.7" y2="322.5" stroke="#4a4a4a" stroke-width="1" stroke-dasharray="1 1"/>
<line x1="159" y1="273.5" x2="267.1" y2="273.5" stroke="#4a4a4a" stroke-width="1" stroke-dasharray="1 1"/>
<line x1="154.5" y1="223.4" x2="157.5" y2="223.4" stroke="#111" stroke-width="1.0"/>
<line x1="154.5" y1="249.5" x2="157.5" y2="249.5" stroke="#111" stroke-width="1.0"/>
<line x1="154.5" y1="279.9" x2="157.5" y2="279.9" stroke="#111" stroke-width="1.0"/>
<line x1="154.5" y1="315.7" x2="157.5" y2="315.7" stroke="#111" stroke-width="1.0"/>
<line x1="156.1" y1="241.64" x2="157.5" y2="241.64" stroke="#111" stroke-width="0.7"/>
<line x1="156.1" y1="237.05" x2="157.5" y2="237.05" stroke="#111" stroke-width="0.7"/>
<line x1="156.1" y1="233.79" x2="157.5" y2="233.79" stroke="#111" stroke-width="0.7"/>
<line x1="156.1" y1="231.26" x2="157.5" y2="231.26" stroke="#111" stroke-width="0.7"/>
<line x1="156.1" y1="229.19" x2="157.5" y2="229.19" stroke="#111" stroke-width="0.7"/>
<line x1="156.1" y1="227.44" x2="157.5" y2="227.44" stroke="#111" stroke-width="0.7"/>
<line x1="156.1" y1="225.93" x2="157.5" y2="225.93" stroke="#111" stroke-width="0.7"/>
<line x1="156.1" y1="224.59" x2="157.5" y2="224.59" stroke="#111" stroke-width="0.7"/>
<line x1="156.1" y1="270.75" x2="157.5" y2="270.75" stroke="#111" stroke-width="0.7"/>
<line x1="156.1" y1="265.4" x2="157.5" y2="265.4" stroke="#111" stroke-width="0.7"/>
<line x1="156.1" y1="261.6" x2="157.5" y2="261.6" stroke="#111" stroke-width="0.7"/>
<line x1="156.1" y1="258.65" x2="157.5" y2="258.65" stroke="#111" stroke-width="0.7"/>
<line x1="156.1" y1="256.24" x2="157.5" y2="256.24" stroke="#111" stroke-width="0.7"/>
<line x1="156.1" y1="254.21" x2="157.5" y2="254.21" stroke="#111" stroke-width="0.7"/>
<line x1="156.1" y1="252.45" x2="157.5" y2="252.45" stroke="#111" stroke-width="0.7"/>
<line x1="156.1" y1="250.89" x2="157.5" y2="250.89" stroke="#111" stroke-width="0.7"/>
<line x1="154.9" y1="295.3" x2="157.5" y2="295.3" stroke="#111" stroke-width="1.0"/>
<line x1="154.9" y1="296.09" x2="157.5" y2="296.09" stroke="#111" stroke-width="1.0"/>
<line x1="154.9" y1="296.87" x2="157.5" y2="296.87" stroke="#111" stroke-width="1.0"/>
<line x1="154.9" y1="297.66" x2="157.5" y2="297.66" stroke="#111" stroke-width="1.0"/>
<line x1="154.9" y1="298.44" x2="157.5" y2="298.44" stroke="#111" stroke-width="1.0"/>
<line x1="154.9" y1="299.23" x2="157.5" y2="299.23" stroke="#111" stroke-width="1.0"/>
<line x1="154.9" y1="300.01" x2="157.5" y2="300.01" stroke="#111" stroke-width="1.0"/>
<line x1="154.9" y1="300.8" x2="157.5" y2="300.8" stroke="#111" stroke-width="1.0"/>
<line x1="156" y1="282.2" x2="157.5" y2="282.2" stroke="#111" stroke-width="0.75"/>
<line x1="156" y1="284.3" x2="157.5" y2="284.3" stroke="#111" stroke-width="0.75"/>
<line x1="156" y1="286.5" x2="157.5" y2="286.5" stroke="#111" stroke-width="0.75"/>
<line x1="156" y1="288.6" x2="157.5" y2="288.6" stroke="#111" stroke-width="0.75"/>
<line x1="156" y1="290.6" x2="157.5" y2="290.6" stroke="#111" stroke-width="0.75"/>
<line x1="156" y1="292.5" x2="157.5" y2="292.5" stroke="#111" stroke-width="0.75"/>
<line x1="156" y1="294" x2="157.5" y2="294" stroke="#111" stroke-width="0.75"/>
<line x1="156" y1="302.3" x2="157.5" y2="302.3" stroke="#111" stroke-width="0.75"/>
<line x1="156" y1="304.2" x2="157.5" y2="304.2" stroke="#111" stroke-width="0.75"/>
<line x1="156" y1="306.3" x2="157.5" y2="306.3" stroke="#111" stroke-width="0.75"/>
<line x1="156" y1="308.4" x2="157.5" y2="308.4" stroke="#111" stroke-width="0.75"/>
<line x1="156" y1="310.6" x2="157.5" y2="310.6" stroke="#111" stroke-width="0.75"/>
<line x1="156" y1="312.8" x2="157.5" y2="312.8" stroke="#111" stroke-width="0.75"/>
<line x1="164.3" y1="323.2" x2="164.3" y2="326.2" stroke="#111" stroke-width="1.0"/>
<line x1="200.5" y1="323.2" x2="200.5" y2="326.2" stroke="#111" stroke-width="1.0"/>
<line x1="230.2" y1="323.2" x2="230.2" y2="326.2" stroke="#111" stroke-width="1.0"/>
<line x1="256.7" y1="323.2" x2="256.7" y2="326.2" stroke="#111" stroke-width="1.0"/>
<line x1="209.44" y1="323.2" x2="209.44" y2="324.6" stroke="#111" stroke-width="0.7"/>
<line x1="214.67" y1="323.2" x2="214.67" y2="324.6" stroke="#111" stroke-width="0.7"/>
<line x1="218.38" y1="323.2" x2="218.38" y2="324.6" stroke="#111" stroke-width="0.7"/>
<line x1="221.26" y1="323.2" x2="221.26" y2="324.6" stroke="#111" stroke-width="0.7"/>
<line x1="223.61" y1="323.2" x2="223.61" y2="324.6" stroke="#111" stroke-width="0.7"/>
<line x1="225.6" y1="323.2" x2="225.6" y2="324.6" stroke="#111" stroke-width="0.7"/>
<line x1="227.32" y1="323.2" x2="227.32" y2="324.6" stroke="#111" stroke-width="0.7"/>
<line x1="228.84" y1="323.2" x2="228.84" y2="324.6" stroke="#111" stroke-width="0.7"/>
<line x1="238.18" y1="323.2" x2="238.18" y2="324.6" stroke="#111" stroke-width="0.7"/>
<line x1="242.84" y1="323.2" x2="242.84" y2="324.6" stroke="#111" stroke-width="0.7"/>
<line x1="246.15" y1="323.2" x2="246.15" y2="324.6" stroke="#111" stroke-width="0.7"/>
<line x1="248.72" y1="323.2" x2="248.72" y2="324.6" stroke="#111" stroke-width="0.7"/>
<line x1="250.82" y1="323.2" x2="250.82" y2="324.6" stroke="#111" stroke-width="0.7"/>
<line x1="252.6" y1="323.2" x2="252.6" y2="324.6" stroke="#111" stroke-width="0.7"/>
<line x1="254.13" y1="323.2" x2="254.13" y2="324.6" stroke="#111" stroke-width="0.7"/>
<line x1="255.49" y1="323.2" x2="255.49" y2="324.6" stroke="#111" stroke-width="0.7"/>
<line x1="264.68" y1="323.2" x2="264.68" y2="324.6" stroke="#111" stroke-width="0.7"/>
<line x1="179.9" y1="323.2" x2="179.9" y2="325.8" stroke="#111" stroke-width="1.0"/>
<line x1="180.67" y1="323.2" x2="180.67" y2="325.8" stroke="#111" stroke-width="1.0"/>
<line x1="181.44" y1="323.2" x2="181.44" y2="325.8" stroke="#111" stroke-width="1.0"/>
<line x1="182.21" y1="323.2" x2="182.21" y2="325.8" stroke="#111" stroke-width="1.0"/>
<line x1="182.99" y1="323.2" x2="182.99" y2="325.8" stroke="#111" stroke-width="1.0"/>
<line x1="183.76" y1="323.2" x2="183.76" y2="325.8" stroke="#111" stroke-width="1.0"/>
<line x1="184.53" y1="323.2" x2="184.53" y2="325.8" stroke="#111" stroke-width="1.0"/>
<line x1="185.3" y1="323.2" x2="185.3" y2="325.8" stroke="#111" stroke-width="1.0"/>
<line x1="167" y1="323.2" x2="167" y2="324.7" stroke="#111" stroke-width="0.75"/>
<line x1="169.3" y1="323.2" x2="169.3" y2="324.7" stroke="#111" stroke-width="0.75"/>
<line x1="171.5" y1="323.2" x2="171.5" y2="324.7" stroke="#111" stroke-width="0.75"/>
<line x1="173.7" y1="323.2" x2="173.7" y2="324.7" stroke="#111" stroke-width="0.75"/>
<line x1="175.8" y1="323.2" x2="175.8" y2="324.7" stroke="#111" stroke-width="0.75"/>
<line x1="177.8" y1="323.2" x2="177.8" y2="324.7" stroke="#111" stroke-width="0.75"/>
<line x1="179.2" y1="323.2" x2="179.2" y2="324.7" stroke="#111" stroke-width="0.75"/>
<line x1="186.8" y1="323.2" x2="186.8" y2="324.7" stroke="#111" stroke-width="0.75"/>
<line x1="188.7" y1="323.2" x2="188.7" y2="324.7" stroke="#111" stroke-width="0.75"/>
<line x1="190.8" y1="323.2" x2="190.8" y2="324.7" stroke="#111" stroke-width="0.75"/>
<line x1="193" y1="323.2" x2="193" y2="324.7" stroke="#111" stroke-width="0.75"/>
<line x1="195.3" y1="323.2" x2="195.3" y2="324.7" stroke="#111" stroke-width="0.75"/>
<line x1="197.7" y1="323.2" x2="197.7" y2="324.7" stroke="#111" stroke-width="0.75"/>
<rect x="274.8" y="212.9" width="110.2" height="110.3" fill="none" stroke="#5a5a5a" stroke-width="1.2"/>
<line x1="305.5" y1="214" x2="305.5" y2="322.5" stroke="#4a4a4a" stroke-width="1" stroke-dasharray="1 1"/>
<line x1="276" y1="273.5" x2="384.4" y2="273.5" stroke="#4a4a4a" stroke-width="1" stroke-dasharray="1 1"/>
<line x1="271.8" y1="223.4" x2="274.8" y2="223.4" stroke="#111" stroke-width="1.0"/>
<line x1="271.8" y1="249.5" x2="274.8" y2="249.5" stroke="#111" stroke-width="1.0"/>
<line x1="271.8" y1="279.9" x2="274.8" y2="279.9" stroke="#111" stroke-width="1.0"/>
<line x1="271.8" y1="315.7" x2="274.8" y2="315.7" stroke="#111" stroke-width="1.0"/>
<line x1="273.4" y1="241.64" x2="274.8" y2="241.64" stroke="#111" stroke-width="0.7"/>
<line x1="273.4" y1="237.05" x2="274.8" y2="237.05" stroke="#111" stroke-width="0.7"/>
<line x1="273.4" y1="233.79" x2="274.8" y2="233.79" stroke="#111" stroke-width="0.7"/>
<line x1="273.4" y1="231.26" x2="274.8" y2="231.26" stroke="#111" stroke-width="0.7"/>
<line x1="273.4" y1="229.19" x2="274.8" y2="229.19" stroke="#111" stroke-width="0.7"/>
<line x1="273.4" y1="227.44" x2="274.8" y2="227.44" stroke="#111" stroke-width="0.7"/>
<line x1="273.4" y1="225.93" x2="274.8" y2="225.93" stroke="#111" stroke-width="0.7"/>
<line x1="273.4" y1="224.59" x2="274.8" y2="224.59" stroke="#111" stroke-width="0.7"/>
<line x1="273.4" y1="270.75" x2="274.8" y2="270.75" stroke="#111" stroke-width="0.7"/>
<line x1="273.4" y1="265.4" x2="274.8" y2="265.4" stroke="#111" stroke-width="0.7"/>
<line x1="273.4" y1="261.6" x2="274.8" y2="261.6" stroke="#111" stroke-width="0.7"/>
<line x1="273.4" y1="258.65" x2="274.8" y2="258.65" stroke="#111" stroke-width="0.7"/>
<line x1="273.4" y1="256.24" x2="274.8" y2="256.24" stroke="#111" stroke-width="0.7"/>
<line x1="273.4" y1="254.21" x2="274.8" y2="254.21" stroke="#111" stroke-width="0.7"/>
<line x1="273.4" y1="252.45" x2="274.8" y2="252.45" stroke="#111" stroke-width="0.7"/>
<line x1="273.4" y1="250.89" x2="274.8" y2="250.89" stroke="#111" stroke-width="0.7"/>
<line x1="272.2" y1="295.3" x2="274.8" y2="295.3" stroke="#111" stroke-width="1.0"/>
<line x1="272.2" y1="296.09" x2="274.8" y2="296.09" stroke="#111" stroke-width="1.0"/>
<line x1="272.2" y1="296.87" x2="274.8" y2="296.87" stroke="#111" stroke-width="1.0"/>
<line x1="272.2" y1="297.66" x2="274.8" y2="297.66" stroke="#111" stroke-width="1.0"/>
<line x1="272.2" y1="298.44" x2="274.8" y2="298.44" stroke="#111" stroke-width="1.0"/>
<line x1="272.2" y1="299.23" x2="274.8" y2="299.23" stroke="#111" stroke-width="1.0"/>
<line x1="272.2" y1="300.01" x2="274.8" y2="300.01" stroke="#111" stroke-width="1.0"/>
<line x1="272.2" y1="300.8" x2="274.8" y2="300.8" stroke="#111" stroke-width="1.0"/>
<line x1="273.3" y1="282.2" x2="274.8" y2="282.2" stroke="#111" stroke-width="0.75"/>
<line x1="273.3" y1="284.3" x2="274.8" y2="284.3" stroke="#111" stroke-width="0.75"/>
<line x1="273.3" y1="286.5" x2="274.8" y2="286.5" stroke="#111" stroke-width="0.75"/>
<line x1="273.3" y1="288.6" x2="274.8" y2="288.6" stroke="#111" stroke-width="0.75"/>
<line x1="273.3" y1="290.6" x2="274.8" y2="290.6" stroke="#111" stroke-width="0.75"/>
<line x1="273.3" y1="292.5" x2="274.8" y2="292.5" stroke="#111" stroke-width="0.75"/>
<line x1="273.3" y1="294" x2="274.8" y2="294" stroke="#111" stroke-width="0.75"/>
<line x1="273.3" y1="302.3" x2="274.8" y2="302.3" stroke="#111" stroke-width="0.75"/>
<line x1="273.3" y1="304.2" x2="274.8" y2="304.2" stroke="#111" stroke-width="0.75"/>
<line x1="273.3" y1="306.3" x2="274.8" y2="306.3" stroke="#111" stroke-width="0.75"/>
<line x1="273.3" y1="308.4" x2="274.8" y2="308.4" stroke="#111" stroke-width="0.75"/>
<line x1="273.3" y1="310.6" x2="274.8" y2="310.6" stroke="#111" stroke-width="0.75"/>
<line x1="273.3" y1="312.8" x2="274.8" y2="312.8" stroke="#111" stroke-width="0.75"/>
<line x1="281.6" y1="323.2" x2="281.6" y2="326.2" stroke="#111" stroke-width="1.0"/>
<line x1="317.8" y1="323.2" x2="317.8" y2="326.2" stroke="#111" stroke-width="1.0"/>
<line x1="347.5" y1="323.2" x2="347.5" y2="326.2" stroke="#111" stroke-width="1.0"/>
<line x1="374" y1="323.2" x2="374" y2="326.2" stroke="#111" stroke-width="1.0"/>
<line x1="326.74" y1="323.2" x2="326.74" y2="324.6" stroke="#111" stroke-width="0.7"/>
<line x1="331.97" y1="323.2" x2="331.97" y2="324.6" stroke="#111" stroke-width="0.7"/>
<line x1="335.68" y1="323.2" x2="335.68" y2="324.6" stroke="#111" stroke-width="0.7"/>
<line x1="338.56" y1="323.2" x2="338.56" y2="324.6" stroke="#111" stroke-width="0.7"/>
<line x1="340.91" y1="323.2" x2="340.91" y2="324.6" stroke="#111" stroke-width="0.7"/>
<line x1="342.9" y1="323.2" x2="342.9" y2="324.6" stroke="#111" stroke-width="0.7"/>
<line x1="344.62" y1="323.2" x2="344.62" y2="324.6" stroke="#111" stroke-width="0.7"/>
<line x1="346.14" y1="323.2" x2="346.14" y2="324.6" stroke="#111" stroke-width="0.7"/>
<line x1="355.48" y1="323.2" x2="355.48" y2="324.6" stroke="#111" stroke-width="0.7"/>
<line x1="360.14" y1="323.2" x2="360.14" y2="324.6" stroke="#111" stroke-width="0.7"/>
<line x1="363.45" y1="323.2" x2="363.45" y2="324.6" stroke="#111" stroke-width="0.7"/>
<line x1="366.02" y1="323.2" x2="366.02" y2="324.6" stroke="#111" stroke-width="0.7"/>
<line x1="368.12" y1="323.2" x2="368.12" y2="324.6" stroke="#111" stroke-width="0.7"/>
<line x1="369.9" y1="323.2" x2="369.9" y2="324.6" stroke="#111" stroke-width="0.7"/>
<line x1="371.43" y1="323.2" x2="371.43" y2="324.6" stroke="#111" stroke-width="0.7"/>
<line x1="372.79" y1="323.2" x2="372.79" y2="324.6" stroke="#111" stroke-width="0.7"/>
<line x1="381.98" y1="323.2" x2="381.98" y2="324.6" stroke="#111" stroke-width="0.7"/>
<line x1="297.2" y1="323.2" x2="297.2" y2="325.8" stroke="#111" stroke-width="1.0"/>
<line x1="297.97" y1="323.2" x2="297.97" y2="325.8" stroke="#111" stroke-width="1.0"/>
<line x1="298.74" y1="323.2" x2="298.74" y2="325.8" stroke="#111" stroke-width="1.0"/>
<line x1="299.51" y1="323.2" x2="299.51" y2="325.8" stroke="#111" stroke-width="1.0"/>
<line x1="300.29" y1="323.2" x2="300.29" y2="325.8" stroke="#111" stroke-width="1.0"/>
<line x1="301.06" y1="323.2" x2="301.06" y2="325.8" stroke="#111" stroke-width="1.0"/>
<line x1="301.83" y1="323.2" x2="301.83" y2="325.8" stroke="#111" stroke-width="1.0"/>
<line x1="302.6" y1="323.2" x2="302.6" y2="325.8" stroke="#111" stroke-width="1.0"/>
<line x1="284.3" y1="323.2" x2="284.3" y2="324.7" stroke="#111" stroke-width="0.75"/>
<line x1="286.6" y1="323.2" x2="286.6" y2="324.7" stroke="#111" stroke-width="0.75"/>
<line x1="288.8" y1="323.2" x2="288.8" y2="324.7" stroke="#111" stroke-width="0.75"/>
<line x1="291" y1="323.2" x2="291" y2="324.7" stroke="#111" stroke-width="0.75"/>
<line x1="293.1" y1="323.2" x2="293.1" y2="324.7" stroke="#111" stroke-width="0.75"/>
<line x1="295.1" y1="323.2" x2="295.1" y2="324.7" stroke="#111" stroke-width="0.75"/>
<line x1="296.5" y1="323.2" x2="296.5" y2="324.7" stroke="#111" stroke-width="0.75"/>
<line x1="304.1" y1="323.2" x2="304.1" y2="324.7" stroke="#111" stroke-width="0.75"/>
<line x1="306" y1="323.2" x2="306" y2="324.7" stroke="#111" stroke-width="0.75"/>
<line x1="308.1" y1="323.2" x2="308.1" y2="324.7" stroke="#111" stroke-width="0.75"/>
<line x1="310.3" y1="323.2" x2="310.3" y2="324.7" stroke="#111" stroke-width="0.75"/>
<line x1="312.6" y1="323.2" x2="312.6" y2="324.7" stroke="#111" stroke-width="0.75"/>
<line x1="315" y1="323.2" x2="315" y2="324.7" stroke="#111" stroke-width="0.75"/>
<rect x="392.8" y="212.9" width="110.2" height="110.3" fill="none" stroke="#5a5a5a" stroke-width="1.2"/>
<line x1="423.5" y1="214" x2="423.5" y2="322.5" stroke="#4a4a4a" stroke-width="1" stroke-dasharray="1 1"/>
<line x1="394" y1="273.5" x2="502.4" y2="273.5" stroke="#4a4a4a" stroke-width="1" stroke-dasharray="1 1"/>
<line x1="389.8" y1="223.4" x2="392.8" y2="223.4" stroke="#111" stroke-width="1.0"/>
<line x1="389.8" y1="249.5" x2="392.8" y2="249.5" stroke="#111" stroke-width="1.0"/>
<line x1="389.8" y1="279.9" x2="392.8" y2="279.9" stroke="#111" stroke-width="1.0"/>
<line x1="389.8" y1="315.7" x2="392.8" y2="315.7" stroke="#111" stroke-width="1.0"/>
<line x1="391.4" y1="241.64" x2="392.8" y2="241.64" stroke="#111" stroke-width="0.7"/>
<line x1="391.4" y1="237.05" x2="392.8" y2="237.05" stroke="#111" stroke-width="0.7"/>
<line x1="391.4" y1="233.79" x2="392.8" y2="233.79" stroke="#111" stroke-width="0.7"/>
<line x1="391.4" y1="231.26" x2="392.8" y2="231.26" stroke="#111" stroke-width="0.7"/>
<line x1="391.4" y1="229.19" x2="392.8" y2="229.19" stroke="#111" stroke-width="0.7"/>
<line x1="391.4" y1="227.44" x2="392.8" y2="227.44" stroke="#111" stroke-width="0.7"/>
<line x1="391.4" y1="225.93" x2="392.8" y2="225.93" stroke="#111" stroke-width="0.7"/>
<line x1="391.4" y1="224.59" x2="392.8" y2="224.59" stroke="#111" stroke-width="0.7"/>
<line x1="391.4" y1="270.75" x2="392.8" y2="270.75" stroke="#111" stroke-width="0.7"/>
<line x1="391.4" y1="265.4" x2="392.8" y2="265.4" stroke="#111" stroke-width="0.7"/>
<line x1="391.4" y1="261.6" x2="392.8" y2="261.6" stroke="#111" stroke-width="0.7"/>
<line x1="391.4" y1="258.65" x2="392.8" y2="258.65" stroke="#111" stroke-width="0.7"/>
<line x1="391.4" y1="256.24" x2="392.8" y2="256.24" stroke="#111" stroke-width="0.7"/>
<line x1="391.4" y1="254.21" x2="392.8" y2="254.21" stroke="#111" stroke-width="0.7"/>
<line x1="391.4" y1="252.45" x2="392.8" y2="252.45" stroke="#111" stroke-width="0.7"/>
<line x1="391.4" y1="250.89" x2="392.8" y2="250.89" stroke="#111" stroke-width="0.7"/>
<line x1="390.2" y1="295.3" x2="392.8" y2="295.3" stroke="#111" stroke-width="1.0"/>
<line x1="390.2" y1="296.09" x2="392.8" y2="296.09" stroke="#111" stroke-width="1.0"/>
<line x1="390.2" y1="296.87" x2="392.8" y2="296.87" stroke="#111" stroke-width="1.0"/>
<line x1="390.2" y1="297.66" x2="392.8" y2="297.66" stroke="#111" stroke-width="1.0"/>
<line x1="390.2" y1="298.44" x2="392.8" y2="298.44" stroke="#111" stroke-width="1.0"/>
<line x1="390.2" y1="299.23" x2="392.8" y2="299.23" stroke="#111" stroke-width="1.0"/>
<line x1="390.2" y1="300.01" x2="392.8" y2="300.01" stroke="#111" stroke-width="1.0"/>
<line x1="390.2" y1="300.8" x2="392.8" y2="300.8" stroke="#111" stroke-width="1.0"/>
<line x1="391.3" y1="282.2" x2="392.8" y2="282.2" stroke="#111" stroke-width="0.75"/>
<line x1="391.3" y1="284.3" x2="392.8" y2="284.3" stroke="#111" stroke-width="0.75"/>
<line x1="391.3" y1="286.5" x2="392.8" y2="286.5" stroke="#111" stroke-width="0.75"/>
<line x1="391.3" y1="288.6" x2="392.8" y2="288.6" stroke="#111" stroke-width="0.75"/>
<line x1="391.3" y1="290.6" x2="392.8" y2="290.6" stroke="#111" stroke-width="0.75"/>
<line x1="391.3" y1="292.5" x2="392.8" y2="292.5" stroke="#111" stroke-width="0.75"/>
<line x1="391.3" y1="294" x2="392.8" y2="294" stroke="#111" stroke-width="0.75"/>
<line x1="391.3" y1="302.3" x2="392.8" y2="302.3" stroke="#111" stroke-width="0.75"/>
<line x1="391.3" y1="304.2" x2="392.8" y2="304.2" stroke="#111" stroke-width="0.75"/>
<line x1="391.3" y1="306.3" x2="392.8" y2="306.3" stroke="#111" stroke-width="0.75"/>
<line x1="391.3" y1="308.4" x2="392.8" y2="308.4" stroke="#111" stroke-width="0.75"/>
<line x1="391.3" y1="310.6" x2="392.8" y2="310.6" stroke="#111" stroke-width="0.75"/>
<line x1="391.3" y1="312.8" x2="392.8" y2="312.8" stroke="#111" stroke-width="0.75"/>
<line x1="399.6" y1="323.2" x2="399.6" y2="326.2" stroke="#111" stroke-width="1.0"/>
<line x1="435.8" y1="323.2" x2="435.8" y2="326.2" stroke="#111" stroke-width="1.0"/>
<line x1="465.5" y1="323.2" x2="465.5" y2="326.2" stroke="#111" stroke-width="1.0"/>
<line x1="492" y1="323.2" x2="492" y2="326.2" stroke="#111" stroke-width="1.0"/>
<line x1="444.74" y1="323.2" x2="444.74" y2="324.6" stroke="#111" stroke-width="0.7"/>
<line x1="449.97" y1="323.2" x2="449.97" y2="324.6" stroke="#111" stroke-width="0.7"/>
<line x1="453.68" y1="323.2" x2="453.68" y2="324.6" stroke="#111" stroke-width="0.7"/>
<line x1="456.56" y1="323.2" x2="456.56" y2="324.6" stroke="#111" stroke-width="0.7"/>
<line x1="458.91" y1="323.2" x2="458.91" y2="324.6" stroke="#111" stroke-width="0.7"/>
<line x1="460.9" y1="323.2" x2="460.9" y2="324.6" stroke="#111" stroke-width="0.7"/>
<line x1="462.62" y1="323.2" x2="462.62" y2="324.6" stroke="#111" stroke-width="0.7"/>
<line x1="464.14" y1="323.2" x2="464.14" y2="324.6" stroke="#111" stroke-width="0.7"/>
<line x1="473.48" y1="323.2" x2="473.48" y2="324.6" stroke="#111" stroke-width="0.7"/>
<line x1="478.14" y1="323.2" x2="478.14" y2="324.6" stroke="#111" stroke-width="0.7"/>
<line x1="481.45" y1="323.2" x2="481.45" y2="324.6" stroke="#111" stroke-width="0.7"/>
<line x1="484.02" y1="323.2" x2="484.02" y2="324.6" stroke="#111" stroke-width="0.7"/>
<line x1="486.12" y1="323.2" x2="486.12" y2="324.6" stroke="#111" stroke-width="0.7"/>
<line x1="487.9" y1="323.2" x2="487.9" y2="324.6" stroke="#111" stroke-width="0.7"/>
<line x1="489.43" y1="323.2" x2="489.43" y2="324.6" stroke="#111" stroke-width="0.7"/>
<line x1="490.79" y1="323.2" x2="490.79" y2="324.6" stroke="#111" stroke-width="0.7"/>
<line x1="499.98" y1="323.2" x2="499.98" y2="324.6" stroke="#111" stroke-width="0.7"/>
<line x1="415.2" y1="323.2" x2="415.2" y2="325.8" stroke="#111" stroke-width="1.0"/>
<line x1="415.97" y1="323.2" x2="415.97" y2="325.8" stroke="#111" stroke-width="1.0"/>
<line x1="416.74" y1="323.2" x2="416.74" y2="325.8" stroke="#111" stroke-width="1.0"/>
<line x1="417.51" y1="323.2" x2="417.51" y2="325.8" stroke="#111" stroke-width="1.0"/>
<line x1="418.29" y1="323.2" x2="418.29" y2="325.8" stroke="#111" stroke-width="1.0"/>
<line x1="419.06" y1="323.2" x2="419.06" y2="325.8" stroke="#111" stroke-width="1.0"/>
<line x1="419.83" y1="323.2" x2="419.83" y2="325.8" stroke="#111" stroke-width="1.0"/>
<line x1="420.6" y1="323.2" x2="420.6" y2="325.8" stroke="#111" stroke-width="1.0"/>
<line x1="402.3" y1="323.2" x2="402.3" y2="324.7" stroke="#111" stroke-width="0.75"/>
<line x1="404.6" y1="323.2" x2="404.6" y2="324.7" stroke="#111" stroke-width="0.75"/>
<line x1="406.8" y1="323.2" x2="406.8" y2="324.7" stroke="#111" stroke-width="0.75"/>
<line x1="409" y1="323.2" x2="409" y2="324.7" stroke="#111" stroke-width="0.75"/>
<line x1="411.1" y1="323.2" x2="411.1" y2="324.7" stroke="#111" stroke-width="0.75"/>
<line x1="413.1" y1="323.2" x2="413.1" y2="324.7" stroke="#111" stroke-width="0.75"/>
<line x1="414.5" y1="323.2" x2="414.5" y2="324.7" stroke="#111" stroke-width="0.75"/>
<line x1="422.1" y1="323.2" x2="422.1" y2="324.7" stroke="#111" stroke-width="0.75"/>
<line x1="424" y1="323.2" x2="424" y2="324.7" stroke="#111" stroke-width="0.75"/>
<line x1="426.1" y1="323.2" x2="426.1" y2="324.7" stroke="#111" stroke-width="0.75"/>
<line x1="428.3" y1="323.2" x2="428.3" y2="324.7" stroke="#111" stroke-width="0.75"/>
<line x1="430.6" y1="323.2" x2="430.6" y2="324.7" stroke="#111" stroke-width="0.75"/>
<line x1="433" y1="323.2" x2="433" y2="324.7" stroke="#111" stroke-width="0.75"/>
<line x1="28.3" y1="315.5" x2="28.3" y2="276.6" stroke="#222" stroke-width="1.2"/>
<line x1="28.3" y1="258.3" x2="28.3" y2="226" stroke="#222" stroke-width="1.2"/>
<path d="M28.3 221 L30.8 227.3 L25.8 227.3 Z" fill="#111"/>
<text x="31.2" y="267.7" font-size="9.6" text-anchor="middle" font-weight="bold" fill="#222" stroke="#222" stroke-width="0.3" textLength="12.3" lengthAdjust="spacingAndGlyphs" transform="rotate(-90 31.2 267.7)">CD3</text>
<line x1="81" y1="333.8" x2="263.5" y2="333.8" stroke="#222" stroke-width="1.2"/>
<line x1="279.6" y1="333.8" x2="457" y2="333.8" stroke="#222" stroke-width="1.2"/>
<path d="M462.3 333.8 L456 331.3 L456 336.3 Z" fill="#111"/>
<text x="271.8" y="337.1" font-size="9.0" text-anchor="middle" font-weight="bold" fill="#222" stroke="#222" stroke-width="0.3" textLength="11.6" lengthAdjust="spacingAndGlyphs">CD7</text>
<text x="140.2" y="223.6" font-size="8.3" text-anchor="end" font-weight="normal" fill="#333" textLength="21.7" lengthAdjust="spacingAndGlyphs">T cells</text>
<text x="144.2" y="321" font-size="8.3" text-anchor="end" font-weight="normal" fill="#333" textLength="17.7" lengthAdjust="spacingAndGlyphs">T-ALL</text>
<path d="M92.4 261.5 C92.6 258 98 254.5 104 253.3 C110 252.2 114.6 254 114.8 258.5 C115 263 112.5 266.2 106 266.2 C99 266.2 92.2 265 92.4 261.5 Z" fill="none" stroke="#444" stroke-width="0.9"/>
<path d="M101.3 260.5 C101.3 257.5 103.8 255.7 106.8 255.7 C109.8 255.7 111.3 257.5 111.3 260 C111.3 262.8 109.5 264.6 106.5 264.6 C103.3 264.6 101.3 263 101.3 260.5 Z" fill="none" stroke="#444" stroke-width="0.9"/>
<ellipse cx="121.5" cy="289.8" rx="8.5" ry="8" fill="#222" fill-opacity="0.35" transform="rotate(0 121.5 289.8)"/>
<ellipse cx="121.8" cy="289.8" rx="5.5" ry="5" fill="#111" fill-opacity="0.35" transform="rotate(0 121.8 289.8)"/>
<path d="M137.2 289.6 137.0 291.2 136.5 292.8 135.7 294.2 134.8 295.5 133.9 296.8 133.0 297.9 131.8 298.9 130.6 299.7 129.4 300.5 128.2 301.2 126.9 301.8 125.6 302.2 124.3 302.6 122.9 303.1 121.5 303.5 120.0 303.6 118.6 303.4 117.1 303.2 115.5 303.1 113.8 302.9 112.0 302.6 110.1 302.3 107.7 302.0 105.0 301.6 101.8 301.0 98.3 299.9 94.9 298.2 91.9 295.9 89.9 292.9 90.1 289.6 92.0 286.5 94.7 283.9 97.5 281.8 100.5 280.2 103.4 279.1 106.0 278.3 108.2 277.7 110.3 277.1 112.2 276.8 114.0 276.7 115.7 276.5 117.2 276.3 118.6 276.1 120.1 276.0 121.5 275.8 123.0 275.6 124.5 275.4 126.1 275.4 127.7 275.6 129.4 276.0 131.0 276.5 132.7 277.2 134.0 278.3 135.1 279.7 136.0 281.2 136.7 282.8 137.1 284.5 137.3 286.3 137.3 287.9Z" fill="none" stroke="#2a2a2a" stroke-width="0.65" stroke-linejoin="round"/>
<path d="M137.1 289.5 136.7 291.0 136.2 292.5 135.6 294.0 134.8 295.3 133.8 296.4 132.7 297.4 131.7 298.4 130.7 299.4 129.5 300.2 128.3 300.8 127.0 301.4 125.7 301.8 124.4 302.1 123.0 302.3 121.7 302.4 120.3 302.6 118.8 302.8 117.3 302.9 115.7 302.7 114.1 302.5 112.4 302.2 110.4 301.9 108.3 301.4 106.0 300.8 103.2 300.1 100.0 299.1 97.0 297.4 94.7 295.2 93.2 292.5 93.2 289.5 94.6 286.6 96.7 284.2 99.2 282.2 101.9 280.7 104.4 279.6 106.8 278.7 109.1 278.2 111.1 277.8 112.8 277.4 114.4 276.9 115.9 276.6 117.4 276.4 118.9 276.3 120.3 276.1 121.7 275.8 123.2 275.7 124.6 275.7 126.2 275.8 127.7 276.0 129.2 276.5 130.6 277.3 132.0 278.1 133.3 279.1 134.6 280.1 135.7 281.4 136.5 283.0 136.9 284.6 137.2 286.2 137.3 287.8Z" fill="none" stroke="#2a2a2a" stroke-width="0.65" stroke-linejoin="round"/>
<path d="M136.4 289.4 136.2 290.8 135.9 292.3 135.4 293.7 134.7 294.9 133.7 296.0 132.6 297.0 131.6 298.0 130.6 298.9 129.5 299.6 128.3 300.3 127.2 301.0 125.9 301.6 124.6 302.0 123.2 302.1 121.9 302.2 120.5 302.3 119.1 302.3 117.6 302.2 116.2 301.8 114.7 301.5 113.1 301.2 111.4 300.8 109.5 300.3 107.3 299.8 104.6 299.2 101.6 298.3 98.9 296.7 96.8 294.6 95.5 292.1 95.6 289.4 96.9 286.8 98.9 284.5 101.1 282.7 103.4 281.2 105.6 280.1 107.8 279.2 109.8 278.7 111.7 278.2 113.3 277.7 114.8 277.3 116.3 277.0 117.8 277.0 119.2 276.8 120.5 276.6 121.9 276.5 123.3 276.3 124.7 276.2 126.2 276.1 127.8 276.2 129.4 276.6 130.8 277.3 132.1 278.2 133.3 279.2 134.5 280.4 135.3 281.7 135.9 283.2 136.3 284.7 136.6 286.3 136.6 287.8Z" fill="none" stroke="#2a2a2a" stroke-width="0.65" stroke-linejoin="round"/>
<path d="M136.4 289.2 136.0 290.7 135.6 292.0 135.1 293.3 134.5 294.6 133.7 295.7 132.7 296.8 131.8 297.7 130.7 298.6 129.5 299.2 128.2 299.6 127.0 300.1 125.9 300.7 124.7 301.2 123.4 301.5 122.1 301.7 120.7 301.8 119.3 301.9 117.9 301.7 116.5 301.4 115.0 301.1 113.5 300.8 111.8 300.3 110.2 299.7 108.4 298.9 106.2 298.2 103.7 297.2 101.3 295.8 99.4 294.0 98.2 291.7 98.2 289.2 99.3 286.9 101.1 284.9 103.2 283.2 105.2 281.9 107.0 280.7 108.8 279.8 110.5 279.1 112.2 278.5 113.7 278.0 115.2 277.6 116.6 277.2 118.0 277.0 119.3 276.8 120.7 276.6 122.1 276.4 123.4 276.5 124.8 276.8 126.1 277.0 127.6 277.1 129.1 277.4 130.5 277.9 131.8 278.7 133.0 279.6 134.1 280.7 134.9 282.0 135.5 283.4 135.9 284.8 136.3 286.3 136.5 287.7Z" fill="none" stroke="#2a2a2a" stroke-width="0.65" stroke-linejoin="round"/>
<path d="M136.2 289.1 135.9 290.5 135.4 291.8 134.8 293.0 134.2 294.2 133.5 295.4 132.7 296.4 131.7 297.3 130.8 298.2 129.7 299.0 128.5 299.5 127.2 299.8 126.0 300.2 124.8 300.6 123.5 300.9 122.2 300.9 120.9 300.9 119.6 300.9 118.3 300.9 116.9 300.7 115.5 300.4 114.0 300.1 112.3 299.7 110.7 299.2 109.1 298.4 107.4 297.4 105.4 296.4 103.5 295.0 101.9 293.3 101.0 291.3 101.0 289.1 101.9 287.0 103.3 285.2 104.9 283.6 106.6 282.4 108.3 281.3 109.8 280.4 111.3 279.6 112.8 279.0 114.3 278.6 115.7 278.2 117.0 277.7 118.3 277.3 119.6 277.1 120.9 276.8 122.3 276.5 123.7 276.4 125.0 276.6 126.3 277.0 127.6 277.5 129.0 277.9 130.2 278.5 131.4 279.3 132.5 280.2 133.5 281.2 134.4 282.4 135.0 283.6 135.5 285.0 135.9 286.3 136.2 287.7Z" fill="none" stroke="#2a2a2a" stroke-width="0.65" stroke-linejoin="round"/>
<path d="M135.5 289.0 135.3 290.3 134.9 291.5 134.4 292.7 133.9 293.8 133.4 295.0 132.7 296.0 131.7 296.9 130.7 297.7 129.7 298.5 128.7 299.2 127.6 299.8 126.3 300.2 125.0 300.5 123.7 300.6 122.4 300.6 121.2 300.4 119.9 300.1 118.7 300.0 117.3 299.8 116.0 299.6 114.7 299.2 113.3 298.6 111.9 298.0 110.4 297.4 108.8 296.6 107.1 295.5 105.5 294.3 104.1 292.7 103.3 290.9 103.4 289.0 104.3 287.1 105.4 285.5 106.5 284.0 107.8 282.7 109.3 281.7 110.7 280.8 112.1 280.1 113.5 279.6 114.9 279.1 116.2 278.8 117.4 278.4 118.6 277.9 119.9 277.5 121.1 277.3 122.4 277.2 123.8 277.1 125.1 277.0 126.5 277.1 127.8 277.5 129.1 278.0 130.4 278.6 131.5 279.4 132.4 280.5 133.1 281.6 133.9 282.7 134.6 283.8 135.1 285.0 135.4 286.3 135.5 287.7Z" fill="none" stroke="#2a2a2a" stroke-width="0.65" stroke-linejoin="round"/>
<path d="M135.1 288.9 134.9 290.1 134.6 291.3 134.4 292.5 134.2 293.6 133.6 294.8 132.8 295.7 131.8 296.6 130.8 297.4 129.8 298.0 128.6 298.6 127.4 299.0 126.2 299.4 125.1 299.7 123.8 299.9 122.6 299.9 121.4 299.8 120.1 299.8 118.9 299.8 117.6 299.5 116.3 299.1 115.1 298.6 113.9 298.0 112.7 297.3 111.5 296.5 110.3 295.6 108.9 294.7 107.5 293.5 106.5 292.1 106.0 290.5 106.1 288.8 106.7 287.3 107.5 285.8 108.5 284.5 109.7 283.4 110.8 282.4 111.9 281.5 113.1 280.8 114.3 280.2 115.4 279.6 116.5 278.9 117.6 278.2 118.8 277.7 120.1 277.5 121.4 277.3 122.6 277.3 123.9 277.3 125.2 277.6 126.4 277.9 127.7 278.2 129.0 278.5 130.1 279.1 131.1 280.0 132.0 280.9 132.9 281.8 133.7 282.9 134.2 284.0 134.6 285.2 134.9 286.4 135.1 287.6Z" fill="none" stroke="#2a2a2a" stroke-width="0.65" stroke-linejoin="round"/>
<path d="M135.0 288.7 134.9 289.9 134.7 291.0 134.3 292.2 134.0 293.3 133.4 294.3 132.6 295.3 131.5 296.0 130.5 296.7 129.5 297.3 128.5 297.9 127.4 298.4 126.3 298.9 125.2 299.3 124.1 299.6 122.8 299.7 121.6 299.5 120.4 299.4 119.1 299.2 117.9 299.0 116.7 298.5 115.7 297.9 114.6 297.2 113.5 296.5 112.5 295.7 111.6 294.8 110.7 293.8 109.8 292.7 109.1 291.5 108.8 290.1 109.0 288.7 109.5 287.4 109.9 286.2 110.5 285.0 111.2 283.9 112.0 282.9 112.8 281.9 113.6 281.0 114.6 280.2 115.7 279.6 116.8 279.0 117.9 278.5 119.1 278.0 120.3 277.8 121.6 277.8 122.8 277.9 124.0 277.9 125.3 278.1 126.4 278.3 127.6 278.7 128.8 279.1 130.0 279.6 130.9 280.4 131.7 281.3 132.4 282.2 133.2 283.2 133.8 284.2 134.3 285.3 134.6 286.4 134.9 287.5Z" fill="none" stroke="#2a2a2a" stroke-width="0.65" stroke-linejoin="round"/>
<path d="M134.2 288.6 134.2 289.7 134.0 290.8 133.8 291.8 133.4 292.9 133.0 293.9 132.4 294.8 131.6 295.7 130.6 296.4 129.7 297.0 128.8 297.7 127.8 298.3 126.6 298.7 125.4 298.9 124.2 299.1 123.0 299.2 121.8 299.2 120.6 298.9 119.4 298.6 118.3 298.3 117.2 297.8 116.3 297.0 115.5 296.2 114.8 295.4 114.0 294.6 113.2 293.8 112.6 292.8 112.1 291.8 111.6 290.8 111.3 289.7 111.3 288.6 111.5 287.5 111.7 286.4 111.9 285.3 112.3 284.2 113.0 283.3 113.7 282.5 114.5 281.7 115.4 280.9 116.3 280.2 117.3 279.6 118.3 279.1 119.4 278.6 120.6 278.3 121.8 278.2 123.0 278.4 124.1 278.4 125.3 278.5 126.5 278.6 127.7 279.0 128.8 279.4 129.9 279.9 130.9 280.6 131.7 281.4 132.4 282.3 133.1 283.3 133.7 284.3 134.1 285.3 134.2 286.4 134.2 287.5Z" fill="none" stroke="#2a2a2a" stroke-width="0.65" stroke-linejoin="round"/>
<path d="M133.4 288.7 133.4 289.7 133.1 290.7 132.8 291.6 132.5 292.6 132.2 293.6 131.6 294.5 130.9 295.2 130.0 295.9 129.1 296.5 128.1 297.0 127.1 297.4 126.0 297.7 125.0 297.9 123.9 298.1 122.8 298.1 121.7 297.9 120.7 297.8 119.6 297.7 118.5 297.6 117.5 297.2 116.5 296.7 115.7 296.0 114.9 295.3 114.2 294.4 113.7 293.5 113.3 292.6 112.8 291.7 112.4 290.7 112.3 289.7 112.3 288.7 112.5 287.7 112.7 286.7 112.9 285.8 113.3 284.8 113.8 284.0 114.4 283.1 115.1 282.4 115.9 281.7 116.8 281.1 117.7 280.6 118.6 279.9 119.5 279.3 120.6 278.9 121.8 278.8 122.9 278.9 124.0 279.0 125.1 279.2 126.1 279.6 127.1 280.0 128.0 280.5 129.0 281.0 129.8 281.6 130.5 282.4 131.1 283.2 131.8 284.0 132.5 284.8 132.9 285.7 133.2 286.7 133.4 287.7Z" fill="none" stroke="#2a2a2a" stroke-width="0.65" stroke-linejoin="round"/>
<path d="M132.0 288.8 131.9 289.7 131.8 290.6 131.7 291.5 131.5 292.4 131.1 293.2 130.5 293.9 129.8 294.6 129.1 295.2 128.3 295.8 127.5 296.3 126.6 296.8 125.7 297.2 124.8 297.5 123.8 297.7 122.7 297.6 121.7 297.5 120.7 297.3 119.7 297.2 118.8 296.8 118.0 296.2 117.2 295.6 116.5 295.1 115.8 294.4 115.2 293.7 114.7 293.0 114.0 292.3 113.4 291.5 113.1 290.6 113.0 289.7 113.0 288.8 113.1 287.9 113.2 286.9 113.5 286.1 113.9 285.2 114.4 284.4 114.9 283.7 115.6 283.0 116.4 282.4 117.2 281.9 118.0 281.4 118.8 280.8 119.7 280.5 120.7 280.4 121.7 280.4 122.7 280.3 123.7 280.3 124.6 280.5 125.6 280.6 126.6 280.8 127.6 281.0 128.6 281.5 129.3 282.2 129.9 282.9 130.6 283.6 131.1 284.4 131.5 285.2 131.8 286.1 131.9 287.0 132.0 287.9Z" fill="none" stroke="#2a2a2a" stroke-width="0.65" stroke-linejoin="round"/>
<path d="M130.9 288.9 130.8 289.7 130.8 290.5 130.6 291.3 130.3 292.1 130.0 292.8 129.7 293.6 129.2 294.3 128.5 294.8 127.7 295.3 126.9 295.8 126.2 296.2 125.3 296.5 124.3 296.5 123.4 296.5 122.5 296.5 121.6 296.4 120.8 296.3 120.0 296.1 119.1 295.9 118.2 295.7 117.4 295.3 116.8 294.7 116.2 294.1 115.7 293.4 115.1 292.8 114.6 292.1 114.3 291.3 114.1 290.5 113.8 289.7 113.7 288.9 113.9 288.1 114.1 287.3 114.3 286.5 114.6 285.7 115.0 284.9 115.7 284.4 116.3 283.9 117.0 283.4 117.7 282.9 118.4 282.4 119.1 282.0 119.9 281.5 120.7 281.1 121.7 280.9 122.6 280.9 123.5 281.0 124.4 281.2 125.3 281.3 126.1 281.6 126.9 282.1 127.6 282.6 128.3 283.1 128.9 283.7 129.4 284.4 129.8 285.1 130.3 285.8 130.8 286.5 131.0 287.3 131.0 288.1Z" fill="none" stroke="#2a2a2a" stroke-width="0.65" stroke-linejoin="round"/>
<path d="M129.9 289.0 130.0 289.7 130.1 290.5 129.9 291.2 129.6 291.9 129.2 292.5 128.8 293.1 128.1 293.7 127.4 294.0 126.7 294.4 126.0 294.8 125.4 295.2 124.7 295.4 123.9 295.5 123.1 295.6 122.4 295.8 121.6 295.9 120.8 295.9 120.0 295.7 119.2 295.5 118.5 295.2 117.8 294.7 117.3 294.1 116.8 293.5 116.3 293.0 115.7 292.5 115.3 291.9 115.1 291.2 114.9 290.4 114.8 289.7 114.8 289.0 115.0 288.3 115.2 287.6 115.3 286.9 115.5 286.2 115.9 285.6 116.4 285.1 116.9 284.5 117.3 283.9 117.8 283.3 118.5 282.8 119.2 282.4 120.0 282.1 120.8 281.9 121.6 281.9 122.4 282.1 123.2 282.3 123.9 282.4 124.7 282.5 125.5 282.7 126.1 283.1 126.8 283.5 127.4 283.9 128.0 284.4 128.5 285.0 128.9 285.6 129.4 286.2 129.7 286.8 129.9 287.6 129.9 288.3Z" fill="none" stroke="#2a2a2a" stroke-width="0.65" stroke-linejoin="round"/>
<path d="M129.1 289.1 129.1 289.7 128.9 290.4 128.6 291.0 128.4 291.6 128.2 292.2 127.8 292.7 127.2 293.1 126.7 293.5 126.1 293.9 125.4 294.1 124.8 294.3 124.1 294.4 123.5 294.7 122.9 295.0 122.3 295.2 121.6 295.2 120.9 295.1 120.2 294.9 119.5 294.7 118.9 294.4 118.3 294.0 117.8 293.6 117.2 293.2 116.8 292.7 116.5 292.1 116.3 291.5 116.0 290.9 115.7 290.3 115.6 289.7 115.6 289.1 115.7 288.5 115.9 287.9 116.1 287.3 116.4 286.8 116.7 286.3 117.0 285.7 117.3 285.0 117.7 284.5 118.2 284.1 118.9 283.7 119.5 283.4 120.1 283.1 120.8 283.0 121.6 283.0 122.3 283.1 122.9 283.1 123.6 283.3 124.2 283.6 124.8 283.9 125.4 284.1 126.1 284.3 126.7 284.6 127.2 285.1 127.6 285.6 128.0 286.1 128.3 286.7 128.5 287.3 128.7 287.9 128.9 288.5Z" fill="none" stroke="#2a2a2a" stroke-width="0.65" stroke-linejoin="round"/>
<path d="M127.5 289.2 127.5 289.7 127.7 290.3 127.7 290.8 127.6 291.4 127.2 291.8 126.8 292.2 126.4 292.7 126.0 293.1 125.5 293.4 125.0 293.7 124.4 293.9 123.9 294.0 123.3 294.2 122.7 294.2 122.1 294.2 121.5 294.2 120.9 294.2 120.3 294.1 119.8 293.8 119.4 293.5 118.9 293.2 118.4 292.9 118.0 292.5 117.5 292.2 117.1 291.8 116.7 291.4 116.4 290.8 116.4 290.3 116.3 289.7 116.3 289.2 116.3 288.6 116.4 288.1 116.7 287.6 117.1 287.2 117.3 286.8 117.7 286.3 118.1 286.0 118.4 285.6 118.8 285.1 119.2 284.7 119.7 284.4 120.3 284.3 120.9 284.3 121.5 284.2 122.1 284.1 122.7 284.1 123.3 284.2 123.9 284.2 124.5 284.4 125.1 284.6 125.5 285.0 125.9 285.4 126.4 285.7 126.8 286.1 127.1 286.6 127.2 287.2 127.2 287.7 127.3 288.2 127.4 288.7Z" fill="none" stroke="#2a2a2a" stroke-width="0.65" stroke-linejoin="round"/>
<path d="M126.7 289.3 126.7 289.7 126.8 290.2 126.7 290.6 126.4 291.0 126.1 291.4 125.7 291.8 125.3 292.0 124.9 292.3 124.5 292.5 124.1 292.8 123.8 293.1 123.4 293.3 122.9 293.4 122.4 293.5 122.0 293.5 121.5 293.6 121.0 293.5 120.5 293.4 120.0 293.2 119.5 293.0 119.1 292.8 118.8 292.4 118.5 292.1 118.2 291.7 117.8 291.4 117.6 291.0 117.4 290.6 117.4 290.2 117.4 289.7 117.4 289.3 117.5 288.9 117.6 288.5 117.6 288.1 117.7 287.6 117.8 287.2 118.1 286.8 118.4 286.4 118.7 286.1 119.1 285.7 119.5 285.5 120.0 285.3 120.5 285.2 121.0 285.1 121.5 285.1 121.9 285.3 122.4 285.4 122.9 285.4 123.4 285.4 123.9 285.4 124.3 285.7 124.7 285.9 125.1 286.2 125.4 286.5 125.7 286.9 126.0 287.2 126.2 287.6 126.5 288.0 126.7 288.4 126.7 288.8Z" fill="none" stroke="#2a2a2a" stroke-width="0.65" stroke-linejoin="round"/>
<path d="M125.5 289.4 125.5 289.7 125.5 290.1 125.3 290.4 125.1 290.7 124.9 291.0 124.8 291.3 124.7 291.7 124.4 292.0 124.1 292.2 123.7 292.3 123.4 292.5 123.0 292.6 122.6 292.7 122.2 292.7 121.8 292.7 121.4 292.6 121.0 292.5 120.7 292.4 120.4 292.2 120.0 292.1 119.6 292.1 119.3 291.9 119.0 291.7 118.7 291.4 118.5 291.1 118.3 290.8 118.2 290.4 118.1 290.1 118.0 289.7 118.0 289.4 118.0 289.0 118.1 288.7 118.3 288.4 118.4 288.1 118.5 287.7 118.8 287.5 119.0 287.2 119.3 287.0 119.6 286.8 120.0 286.6 120.3 286.6 120.7 286.5 121.0 286.3 121.4 286.1 121.8 286.0 122.2 286.0 122.6 286.0 123.0 286.1 123.4 286.3 123.7 286.5 124.0 286.7 124.3 286.9 124.6 287.2 124.8 287.5 124.9 287.8 125.0 288.1 125.2 288.4 125.4 288.7 125.5 289.1Z" fill="none" stroke="#2a2a2a" stroke-width="0.65" stroke-linejoin="round"/>
<path d="M124.4 289.5 124.4 289.7 124.4 290.0 124.3 290.3 124.2 290.5 124.1 290.7 123.9 290.9 123.8 291.1 123.6 291.3 123.3 291.5 123.0 291.6 122.8 291.7 122.5 291.8 122.2 291.9 121.9 291.9 121.7 291.9 121.4 291.9 121.1 291.9 120.8 291.7 120.6 291.6 120.3 291.4 120.1 291.4 119.8 291.3 119.6 291.1 119.4 290.9 119.2 290.7 119.0 290.5 118.9 290.3 118.9 290.0 118.8 289.8 118.8 289.5 118.8 289.2 118.9 289.0 119.1 288.8 119.2 288.6 119.3 288.3 119.4 288.1 119.6 287.9 119.8 287.7 120.0 287.6 120.3 287.4 120.5 287.3 120.8 287.3 121.1 287.2 121.4 287.1 121.7 287.1 121.9 287.1 122.2 287.1 122.5 287.2 122.8 287.2 123.1 287.3 123.3 287.5 123.6 287.7 123.8 287.8 124.0 288.0 124.0 288.3 124.0 288.6 124.1 288.8 124.2 289.0 124.3 289.3Z" fill="none" stroke="#2a2a2a" stroke-width="0.65" stroke-linejoin="round"/>
<path d="M123.3 289.6 123.3 289.8 123.2 289.9 123.2 290.1 123.1 290.2 123.1 290.4 123.0 290.5 122.9 290.6 122.7 290.7 122.6 290.8 122.4 291.0 122.3 291.0 122.1 291.0 121.9 291.1 121.7 291.1 121.5 291.0 121.3 291.0 121.2 291.0 121.0 291.0 120.8 291.0 120.6 290.9 120.4 290.8 120.3 290.7 120.1 290.6 120.0 290.5 119.9 290.4 119.8 290.2 119.8 290.1 119.7 289.9 119.7 289.8 119.7 289.6 119.7 289.4 119.7 289.3 119.8 289.1 119.8 289.0 119.9 288.8 120.1 288.7 120.2 288.6 120.3 288.5 120.5 288.5 120.7 288.4 120.8 288.3 120.9 288.2 121.1 288.1 121.3 288.1 121.5 288.1 121.7 288.1 121.9 288.1 122.1 288.1 122.3 288.2 122.4 288.3 122.6 288.4 122.7 288.5 122.8 288.6 122.9 288.8 123.0 288.9 123.1 289.0 123.2 289.1 123.3 289.3 123.3 289.4Z" fill="none" stroke="#2a2a2a" stroke-width="0.65" stroke-linejoin="round"/>
<ellipse cx="121.6" cy="289.6" rx="1.4" ry="1.1" fill="#fff" fill-opacity="0.95" transform="rotate(0 121.6 289.6)"/>
<ellipse cx="188" cy="260.4" rx="11" ry="9" fill="#111" fill-opacity="0.45" transform="rotate(0 188 260.4)"/>
<ellipse cx="199" cy="260.3" rx="15" ry="5.8" fill="#000" fill-opacity="0.5" transform="rotate(0 199 260.3)"/>
<path d="M233.0 259.8 231.0 262.5 227.9 264.7 224.1 266.0 220.4 266.7 217.7 267.1 215.6 267.5 213.8 267.7 212.3 267.9 211.0 268.1 209.9 268.4 208.9 268.5 207.9 268.7 206.9 268.9 206.0 269.2 205.0 269.5 204.0 269.7 202.9 269.7 201.8 269.8 200.5 269.9 199.0 270.1 197.3 270.3 195.3 270.6 192.8 270.8 189.8 270.8 186.6 270.4 183.3 269.5 180.3 267.8 178.1 265.5 176.7 262.8 176.3 259.8 176.7 256.8 178.0 254.1 180.4 251.8 184.0 250.5 187.7 249.8 190.8 249.5 193.3 249.2 195.3 249.0 197.2 249.0 198.8 249.1 200.3 249.2 201.6 249.3 202.8 249.3 203.9 249.3 205.0 249.3 206.1 249.2 207.3 249.1 208.5 249.0 209.8 249.0 211.3 248.9 213.0 248.8 215.0 248.7 217.2 248.8 219.7 249.1 222.7 249.6 225.9 250.5 229.1 252.0 231.7 254.1 233.3 256.8Z" fill="none" stroke="#1a1a1a" stroke-width="0.7" stroke-linejoin="round"/>
<path d="M231.6 259.8 229.7 262.3 227.0 264.2 223.7 265.5 220.5 266.1 217.9 266.6 215.8 266.8 214.1 267.1 212.8 267.5 211.5 267.8 210.3 268.0 209.1 268.1 208.0 268.3 206.9 268.5 205.8 268.5 204.6 268.6 203.5 268.8 202.3 269.2 200.9 269.4 199.5 269.5 198.0 269.6 196.3 269.8 194.2 270.0 191.9 270.0 189.3 269.9 186.4 269.4 183.4 268.5 180.8 267.0 179.1 264.9 178.1 262.4 177.6 259.8 177.8 257.2 178.7 254.7 180.8 252.7 184.1 251.5 187.3 250.8 190.1 250.4 192.5 250.2 194.6 250.1 196.4 250.0 197.9 249.9 199.4 249.8 200.8 249.8 202.1 249.9 203.4 249.8 204.6 249.7 205.9 249.7 207.2 249.7 208.5 249.8 209.9 249.8 211.4 249.8 212.9 250.0 214.7 250.1 216.9 250.1 219.4 250.2 222.3 250.6 225.3 251.4 228.1 252.8 230.5 254.7 232.0 257.2Z" fill="none" stroke="#1a1a1a" stroke-width="0.7" stroke-linejoin="round"/>
<path d="M229.7 259.9 228.2 262.0 226.1 263.7 223.3 264.9 220.5 265.6 218.1 266.0 216.2 266.3 214.6 266.7 213.2 267.0 211.8 267.2 210.6 267.5 209.4 267.8 208.2 268.2 206.9 268.3 205.6 268.4 204.3 268.5 203.0 268.6 201.6 268.8 200.2 268.8 198.8 268.7 197.3 268.7 195.6 268.8 193.7 268.9 191.5 268.9 189.1 268.7 186.3 268.4 183.5 267.6 181.1 266.2 179.6 264.3 178.7 262.2 178.3 259.9 178.6 257.6 179.5 255.4 181.4 253.6 184.1 252.5 187.0 251.8 189.5 251.4 191.8 251.2 193.8 251.0 195.5 250.8 197.0 250.7 198.6 250.6 200.1 250.7 201.6 250.8 203.0 250.7 204.3 250.7 205.7 250.7 207.0 250.6 208.5 250.4 210.1 250.3 211.7 250.4 213.3 250.5 215.1 250.7 217.1 250.9 219.4 251.2 221.8 251.7 224.3 252.5 226.8 253.8 228.9 255.5 230.1 257.6Z" fill="none" stroke="#1a1a1a" stroke-width="0.7" stroke-linejoin="round"/>
<path d="M228.4 259.9 227.1 261.8 225.1 263.3 222.8 264.3 220.5 265.0 218.5 265.5 216.7 265.9 215.2 266.3 213.7 266.6 212.2 266.8 210.8 266.9 209.4 267.1 208.1 267.4 206.8 267.7 205.4 267.9 203.9 268.1 202.4 268.2 200.9 268.3 199.4 268.3 197.9 268.3 196.3 268.2 194.5 268.3 192.6 268.2 190.7 268.0 188.6 267.7 186.4 267.3 184.0 266.5 181.9 265.3 180.4 263.7 179.5 261.9 179.2 259.9 179.4 258.0 180.4 256.1 182.1 254.6 184.5 253.6 186.9 252.9 189.0 252.4 190.9 252.1 192.8 251.9 194.5 251.6 196.1 251.4 197.7 251.3 199.3 251.2 200.9 251.2 202.4 251.1 203.9 251.1 205.4 251.3 206.9 251.5 208.4 251.5 210.0 251.5 211.6 251.5 213.4 251.6 215.2 251.7 217.1 251.9 219.2 252.2 221.3 252.7 223.5 253.5 225.6 254.6 227.5 256.1 228.6 257.9Z" fill="none" stroke="#1a1a1a" stroke-width="0.7" stroke-linejoin="round"/>
<path d="M227.0 260.0 226.0 261.5 224.3 262.8 222.4 263.7 220.4 264.4 218.7 264.9 217.1 265.4 215.7 265.8 214.3 266.2 212.8 266.5 211.3 266.7 209.7 266.8 208.2 267.0 206.7 267.2 205.1 267.4 203.6 267.4 202.0 267.4 200.4 267.5 198.8 267.6 197.1 267.6 195.4 267.5 193.6 267.5 191.6 267.4 189.7 267.3 187.8 266.9 186.0 266.3 184.1 265.6 182.4 264.5 181.2 263.1 180.6 261.6 180.3 260.0 180.5 258.3 181.1 256.8 182.5 255.5 184.6 254.6 186.6 254.0 188.5 253.5 190.2 253.1 192.0 252.8 193.7 252.6 195.4 252.4 197.0 252.2 198.6 252.0 200.2 251.9 201.9 251.7 203.5 251.6 205.2 251.5 206.9 251.7 208.5 252.0 210.1 252.2 211.7 252.4 213.4 252.5 215.1 252.8 216.8 253.1 218.7 253.4 220.7 253.9 222.6 254.6 224.4 255.5 226.0 256.8 227.0 258.3Z" fill="none" stroke="#1a1a1a" stroke-width="0.7" stroke-linejoin="round"/>
<path d="M225.1 260.0 224.4 261.3 223.2 262.3 221.7 263.1 220.2 263.8 218.9 264.3 217.6 264.9 216.1 265.3 214.7 265.7 213.2 266.0 211.7 266.4 210.2 266.8 208.4 267.0 206.7 267.1 204.9 267.2 203.2 267.2 201.5 267.0 199.9 266.9 198.2 266.8 196.4 266.9 194.6 266.8 192.9 266.6 191.2 266.4 189.4 266.1 187.5 265.8 185.8 265.3 184.2 264.6 182.8 263.7 181.7 262.6 181.1 261.3 181.0 260.0 181.3 258.7 181.9 257.5 182.9 256.4 184.3 255.5 186.1 254.9 187.8 254.4 189.5 254.0 191.2 253.7 193.0 253.5 194.8 253.3 196.4 253.1 198.0 252.9 199.7 252.7 201.4 252.6 203.2 252.6 205.0 252.5 206.8 252.4 208.6 252.5 210.4 252.7 212.1 252.9 213.8 253.2 215.5 253.5 217.0 254.0 218.5 254.4 220.1 255.0 221.8 255.6 223.4 256.4 224.5 257.5 225.1 258.7Z" fill="none" stroke="#1a1a1a" stroke-width="0.7" stroke-linejoin="round"/>
<path d="M223.5 260.1 223.0 261.0 222.3 261.8 221.5 262.6 220.6 263.3 219.5 263.9 218.2 264.4 216.7 264.8 215.2 265.2 213.6 265.6 211.9 265.9 210.1 266.1 208.4 266.3 206.6 266.5 204.7 266.6 202.9 266.5 201.1 266.5 199.2 266.5 197.2 266.5 195.3 266.4 193.6 266.2 191.9 265.9 190.2 265.6 188.6 265.2 187.2 264.8 185.8 264.2 184.4 263.6 183.2 262.9 182.4 262.0 182.0 261.0 182.0 260.1 182.2 259.1 182.7 258.1 183.5 257.3 184.8 256.6 186.1 256.0 187.5 255.5 188.9 255.1 190.5 254.7 192.1 254.3 193.7 254.0 195.3 253.6 197.0 253.3 198.9 253.2 200.9 253.1 202.8 253.1 204.8 253.1 206.7 253.3 208.5 253.5 210.3 253.7 212.2 253.8 213.9 254.1 215.4 254.6 216.9 255.0 218.4 255.5 219.8 256.0 221.1 256.6 222.1 257.3 222.9 258.2 223.4 259.1Z" fill="none" stroke="#1a1a1a" stroke-width="0.7" stroke-linejoin="round"/>
<path d="M222.1 260.1 222.1 260.8 221.7 261.4 221.2 262.0 220.5 262.7 219.7 263.3 218.4 263.8 216.9 264.2 215.3 264.6 213.7 265.0 212.1 265.3 210.3 265.6 208.4 265.8 206.5 266.1 204.5 266.3 202.5 266.4 200.5 266.2 198.5 266.1 196.4 266.0 194.4 265.8 192.6 265.5 191.0 265.1 189.4 264.7 187.9 264.3 186.6 263.8 185.6 263.2 184.6 262.6 183.8 262.0 183.3 261.4 183.0 260.8 183.2 260.1 183.4 259.5 183.7 258.8 184.2 258.2 184.9 257.6 185.7 257.0 186.7 256.5 187.9 255.9 189.3 255.5 190.9 255.1 192.7 254.7 194.4 254.3 196.2 254.1 198.3 253.9 200.4 253.9 202.5 254.0 204.5 254.0 206.5 254.1 208.5 254.3 210.4 254.5 212.3 254.7 214.0 255.0 215.6 255.5 216.9 256.0 218.1 256.5 219.2 257.0 220.3 257.6 221.0 258.2 221.6 258.8 221.9 259.5Z" fill="none" stroke="#1a1a1a" stroke-width="0.7" stroke-linejoin="round"/>
<path d="M220.5 260.1 220.4 260.7 220.2 261.3 219.7 261.8 219.1 262.4 218.3 262.9 217.3 263.4 216.0 263.9 214.5 264.2 213.0 264.6 211.4 265.0 209.7 265.3 207.9 265.5 205.9 265.6 203.9 265.8 201.9 265.8 200.0 265.7 198.1 265.6 196.2 265.4 194.3 265.3 192.5 265.0 191.1 264.6 189.7 264.2 188.4 263.8 187.1 263.4 185.9 262.9 184.9 262.4 184.1 261.9 183.5 261.3 183.1 260.7 183.0 260.1 183.2 259.6 183.5 259.0 184.0 258.4 184.7 257.9 185.6 257.4 186.9 256.9 188.1 256.4 189.5 256.0 191.0 255.7 192.7 255.4 194.4 255.1 196.2 254.8 198.1 254.7 200.1 254.7 202.1 254.8 204.0 254.8 205.9 254.8 207.8 254.9 209.7 255.0 211.5 255.3 213.2 255.6 214.8 255.9 216.2 256.4 217.3 256.8 218.4 257.3 219.3 257.9 220.0 258.4 220.4 259.0 220.5 259.6Z" fill="none" stroke="#1a1a1a" stroke-width="0.7" stroke-linejoin="round"/>
<path d="M219.6 260.2 219.5 260.7 219.1 261.2 218.6 261.7 218.0 262.2 217.4 262.7 216.4 263.1 215.1 263.5 213.7 263.9 212.2 264.2 210.6 264.5 208.8 264.6 207.0 264.7 205.2 264.8 203.4 264.9 201.6 265.0 199.8 264.9 198.0 264.8 196.0 264.8 194.1 264.7 192.3 264.5 190.7 264.2 189.2 263.9 187.9 263.5 186.8 263.1 185.8 262.6 185.1 262.2 184.3 261.7 183.7 261.2 183.4 260.7 183.5 260.2 183.6 259.7 183.9 259.2 184.3 258.7 185.0 258.2 186.0 257.7 187.0 257.3 188.2 256.9 189.5 256.6 191.1 256.3 192.6 256.0 194.2 255.7 195.7 255.4 197.5 255.2 199.4 255.1 201.4 255.1 203.3 255.2 205.3 255.3 207.1 255.5 208.8 255.8 210.4 256.0 212.1 256.2 213.5 256.6 214.7 257.0 215.9 257.4 217.0 257.8 218.0 258.2 218.8 258.7 219.2 259.2 219.5 259.7Z" fill="none" stroke="#1a1a1a" stroke-width="0.7" stroke-linejoin="round"/>
<path d="M218.2 260.2 218.0 260.7 217.7 261.1 217.4 261.5 216.9 262.0 216.2 262.4 215.1 262.8 213.9 263.1 212.6 263.4 211.2 263.7 209.7 263.9 208.1 264.1 206.4 264.4 204.6 264.6 202.7 264.6 200.9 264.6 199.2 264.5 197.4 264.4 195.6 264.3 193.9 264.2 192.4 263.9 191.0 263.6 189.6 263.3 188.3 263.0 187.2 262.7 186.2 262.3 185.2 262.0 184.3 261.6 183.8 261.1 183.5 260.7 183.5 260.2 183.6 259.8 183.9 259.3 184.4 258.9 185.1 258.5 186.0 258.1 186.9 257.7 188.1 257.4 189.5 257.1 190.9 256.8 192.4 256.5 193.9 256.3 195.6 256.1 197.4 256.1 199.3 256.1 201.1 256.1 202.9 256.1 204.6 256.1 206.3 256.2 208.1 256.3 209.9 256.4 211.5 256.6 212.8 257.0 214.0 257.3 215.2 257.7 216.2 258.1 217.0 258.5 217.5 258.9 217.9 259.3 218.1 259.8Z" fill="none" stroke="#1a1a1a" stroke-width="0.7" stroke-linejoin="round"/>
<path d="M216.9 260.3 216.8 260.6 216.6 261.0 216.2 261.4 215.6 261.7 215.0 262.1 214.2 262.5 213.1 262.8 211.8 263.1 210.4 263.3 208.9 263.5 207.3 263.7 205.7 263.8 204.0 263.8 202.3 263.8 200.6 263.8 198.9 263.8 197.3 263.7 195.6 263.6 193.8 263.6 192.1 263.4 190.6 263.2 189.3 263.0 188.2 262.7 187.1 262.4 186.1 262.1 185.2 261.8 184.6 261.4 184.1 261.0 183.8 260.7 183.7 260.3 183.8 259.9 184.2 259.5 184.6 259.1 185.2 258.8 186.0 258.5 187.1 258.1 188.4 257.9 189.6 257.6 191.0 257.4 192.4 257.2 193.9 257.0 195.4 256.8 196.9 256.7 198.5 256.6 200.4 256.5 202.2 256.6 203.9 256.7 205.7 256.7 207.3 256.9 208.9 257.1 210.3 257.3 211.6 257.6 212.9 257.8 213.9 258.2 214.8 258.5 215.6 258.8 216.4 259.1 216.8 259.5 217.0 259.9Z" fill="none" stroke="#1a1a1a" stroke-width="0.7" stroke-linejoin="round"/>
<path d="M215.8 260.3 215.9 260.6 215.8 261.0 215.4 261.3 214.8 261.6 214.0 261.9 213.1 262.1 211.9 262.3 210.6 262.5 209.2 262.6 207.9 262.8 206.4 263.0 204.9 263.1 203.4 263.1 201.8 263.2 200.1 263.2 198.3 263.3 196.6 263.3 195.0 263.2 193.3 263.1 191.8 263.0 190.5 262.8 189.3 262.5 188.3 262.3 187.1 262.1 186.1 261.8 185.3 261.5 184.8 261.2 184.4 260.9 184.1 260.6 184.1 260.3 184.3 260.0 184.6 259.7 185.0 259.4 185.5 259.1 186.3 258.8 187.3 258.6 188.3 258.3 189.4 258.1 190.5 257.9 191.8 257.7 193.3 257.5 194.8 257.4 196.4 257.3 198.2 257.3 200.0 257.3 201.8 257.4 203.4 257.4 204.9 257.5 206.5 257.6 207.9 257.8 209.3 257.9 210.6 258.1 211.8 258.3 212.8 258.6 213.7 258.8 214.5 259.1 215.2 259.4 215.6 259.7 215.8 260.0Z" fill="none" stroke="#1a1a1a" stroke-width="0.7" stroke-linejoin="round"/>
<path d="M214.9 260.4 214.8 260.6 214.5 260.9 214.0 261.1 213.5 261.3 212.8 261.6 211.9 261.8 210.9 261.9 209.6 262.1 208.4 262.2 207.0 262.3 205.7 262.4 204.3 262.4 202.8 262.5 201.1 262.7 199.4 262.7 197.8 262.7 196.2 262.7 194.7 262.6 193.1 262.5 191.8 262.4 190.5 262.3 189.3 262.1 188.1 261.9 187.1 261.7 186.4 261.5 185.7 261.3 185.1 261.1 184.6 260.8 184.3 260.6 184.3 260.4 184.4 260.1 184.7 259.9 185.2 259.6 185.8 259.4 186.6 259.2 187.3 259.0 188.1 258.8 189.1 258.6 190.4 258.4 191.7 258.3 193.1 258.2 194.6 258.1 196.1 258.0 197.8 258.0 199.5 258.0 201.1 258.0 202.7 258.1 204.2 258.2 205.7 258.3 207.0 258.4 208.4 258.5 209.7 258.6 210.8 258.8 211.8 259.0 212.7 259.2 213.4 259.4 213.9 259.6 214.3 259.9 214.6 260.1Z" fill="none" stroke="#1a1a1a" stroke-width="0.7" stroke-linejoin="round"/>
<path d="M213.3 260.4 213.3 260.6 213.2 260.8 213.0 261.0 212.5 261.1 211.7 261.3 210.8 261.4 209.9 261.6 208.8 261.7 207.6 261.8 206.3 261.9 204.9 262.0 203.5 262.0 202.0 262.1 200.6 262.0 199.1 262.1 197.5 262.1 195.9 262.1 194.5 262.0 193.2 261.9 192.0 261.8 190.7 261.7 189.4 261.6 188.3 261.5 187.3 261.4 186.4 261.3 185.5 261.1 184.9 260.9 184.6 260.8 184.5 260.6 184.4 260.4 184.4 260.2 184.7 260.0 185.2 259.9 185.9 259.7 186.6 259.6 187.5 259.4 188.5 259.3 189.5 259.1 190.5 259.0 191.7 258.9 193.0 258.8 194.5 258.8 196.1 258.7 197.5 258.7 199.0 258.7 200.5 258.7 202.0 258.7 203.5 258.8 204.9 258.8 206.3 258.9 207.6 259.0 208.7 259.1 209.8 259.3 210.8 259.4 211.6 259.5 212.1 259.7 212.5 259.9 212.9 260.0 213.2 260.2Z" fill="none" stroke="#1a1a1a" stroke-width="0.7" stroke-linejoin="round"/>
<ellipse cx="199" cy="260.4" rx="12.5" ry="0.9" fill="#fff" fill-opacity="0.9" transform="rotate(0 199 260.4)"/>
<ellipse cx="188.5" cy="260.60999999999996" rx="1.9" ry="1.35" fill="#fff" fill-opacity="0.85" transform="rotate(0 188.5 260.60999999999996)"/>
<ellipse cx="193" cy="260.52" rx="1.9" ry="1.35" fill="#fff" fill-opacity="0.85" transform="rotate(0 193 260.52)"/>
<ellipse cx="197.5" cy="260.42999999999995" rx="1.9" ry="1.35" fill="#fff" fill-opacity="0.85" transform="rotate(0 197.5 260.42999999999995)"/>
<ellipse cx="202" cy="260.34" rx="1.9" ry="1.35" fill="#fff" fill-opacity="0.85" transform="rotate(0 202 260.34)"/>
<ellipse cx="206.5" cy="260.25" rx="1.9" ry="1.35" fill="#fff" fill-opacity="0.85" transform="rotate(0 206.5 260.25)"/>
<ellipse cx="210.5" cy="260.16999999999996" rx="1.9" ry="1.35" fill="#fff" fill-opacity="0.85" transform="rotate(0 210.5 260.16999999999996)"/>
<ellipse cx="215.5" cy="259.9" rx="1.4" ry="0.8" fill="#fff" fill-opacity="0.55" transform="rotate(0 215.5 259.9)"/>
<ellipse cx="219.5" cy="259.9" rx="1.4" ry="0.8" fill="#fff" fill-opacity="0.55" transform="rotate(0 219.5 259.9)"/>
<ellipse cx="223" cy="259.9" rx="1.4" ry="0.8" fill="#fff" fill-opacity="0.55" transform="rotate(0 223 259.9)"/>
<path d="M249.5 290.0 249.0 291.4 248.4 292.6 247.7 293.8 246.9 294.9 246.0 295.8 245.0 296.6 244.1 297.3 243.1 297.8 242.0 298.3 241.0 298.7 240.0 299.0 239.0 299.2 238.0 299.4 237.0 299.5 236.0 299.5 235.0 299.5 234.0 299.5 233.0 299.4 231.9 299.2 230.8 299.0 229.6 298.8 228.3 298.5 226.8 298.3 225.0 298.0 222.6 297.7 219.6 297.3 216.6 296.3 214.0 294.7 212.3 292.5 212.4 290.0 213.9 287.7 216.4 285.8 220.3 284.9 223.8 284.6 225.9 284.2 227.4 283.7 228.5 283.2 229.4 282.7 230.3 282.2 231.2 281.7 232.1 281.2 233.0 280.8 234.0 280.4 235.0 280.1 236.0 279.9 237.1 279.7 238.2 279.5 239.4 279.4 240.7 279.4 242.1 279.4 243.6 279.6 245.1 279.9 246.4 280.6 247.5 281.6 248.4 282.8 249.1 284.2 249.6 285.6 249.8 287.1 249.7 288.6Z" fill="none" stroke="#333" stroke-width="0.65" stroke-linejoin="round"/>
<path d="M249.3 290.0 248.8 291.3 248.2 292.6 247.5 293.7 246.7 294.8 245.8 295.7 244.9 296.5 243.9 297.1 242.9 297.7 241.9 298.1 240.9 298.5 239.9 298.8 238.9 299.0 237.9 299.2 237.0 299.3 236.0 299.3 235.0 299.3 234.0 299.2 233.0 299.1 232.0 298.9 231.0 298.7 229.8 298.5 228.6 298.2 227.3 297.9 225.6 297.6 223.5 297.2 220.8 296.8 218.2 295.8 215.8 294.3 214.4 292.3 214.5 290.0 215.8 287.9 218.0 286.2 221.4 285.3 224.5 284.9 226.4 284.5 227.7 284.0 228.7 283.4 229.6 282.9 230.5 282.4 231.3 281.9 232.2 281.5 233.1 281.1 234.0 280.7 235.0 280.4 236.0 280.2 237.1 280.0 238.2 279.8 239.3 279.7 240.6 279.6 242.0 279.7 243.4 279.8 244.8 280.2 246.2 280.8 247.3 281.8 248.2 282.9 248.9 284.3 249.4 285.7 249.6 287.1 249.5 288.6Z" fill="none" stroke="#333" stroke-width="0.65" stroke-linejoin="round"/>
<ellipse cx="239" cy="290" rx="6.5" ry="5.5" fill="#111" fill-opacity="0.35" transform="rotate(0 239 290)"/>
<ellipse cx="237.5" cy="291" rx="3.5" ry="3" fill="#000" fill-opacity="0.3" transform="rotate(0 237.5 291)"/>
<path d="M247.8 290.0 247.7 291.0 247.3 291.9 246.6 292.6 245.9 293.3 245.4 294.0 244.9 294.6 244.2 295.1 243.5 295.5 242.8 296.0 242.2 296.4 241.5 296.8 240.8 297.0 240.1 297.4 239.3 297.8 238.5 298.2 237.6 298.3 236.8 298.1 236.0 297.8 235.1 297.6 234.3 297.3 233.5 296.9 232.6 296.5 231.7 296.1 230.8 295.6 230.1 294.9 229.6 294.0 229.1 293.0 228.6 292.1 228.2 291.1 228.2 290.0 228.4 288.9 228.7 287.9 229.1 286.9 229.6 286.0 230.3 285.3 230.9 284.5 231.5 283.7 232.2 283.0 233.1 282.6 234.2 282.5 235.1 282.4 236.0 282.2 236.8 282.1 237.7 282.0 238.5 282.0 239.4 281.8 240.3 281.6 241.2 281.6 242.2 281.7 243.2 281.8 244.5 281.8 245.7 282.0 246.6 282.7 247.2 283.7 247.6 284.8 247.9 285.8 248.0 286.9 247.9 288.0 247.8 289.0Z" fill="none" stroke="#2a2a2a" stroke-width="0.65" stroke-linejoin="round"/>
<path d="M247.5 289.9 247.1 290.8 246.7 291.6 246.4 292.4 245.9 293.1 245.2 293.6 244.4 294.0 243.9 294.6 243.5 295.1 242.9 295.7 242.2 296.0 241.5 296.3 240.9 296.6 240.1 296.8 239.4 296.8 238.6 296.8 237.9 297.0 237.0 297.3 236.1 297.4 235.3 297.2 234.5 296.9 233.6 296.6 232.8 296.3 232.0 295.7 231.4 295.0 230.9 294.3 230.4 293.5 230.1 292.6 230.0 291.7 230.1 290.8 229.9 290.0 229.7 289.0 229.6 288.1 229.9 287.2 230.3 286.4 230.8 285.6 231.5 284.9 232.2 284.4 233.1 284.0 233.8 283.5 234.5 283.0 235.3 282.7 236.1 282.6 237.0 282.5 237.8 282.4 238.6 282.2 239.5 282.1 240.3 282.3 241.2 282.4 242.0 282.5 242.9 282.7 243.7 283.1 244.5 283.6 245.4 284.0 246.3 284.5 247.0 285.2 247.4 286.1 247.6 287.1 247.7 288.1 247.7 289.0Z" fill="none" stroke="#2a2a2a" stroke-width="0.65" stroke-linejoin="round"/>
<path d="M246.5 289.9 246.3 290.6 246.2 291.4 246.1 292.1 245.6 292.8 244.9 293.2 244.3 293.7 243.8 294.1 243.3 294.6 242.8 295.0 242.2 295.4 241.7 296.0 241.1 296.4 240.3 296.7 239.5 296.7 238.8 296.6 238.0 296.7 237.2 296.8 236.4 296.6 235.8 296.2 235.1 295.8 234.4 295.5 233.8 295.1 233.2 294.6 232.5 294.2 231.7 293.7 231.0 293.1 230.7 292.4 230.6 291.5 230.6 290.7 230.5 289.9 230.5 289.1 230.6 288.3 230.9 287.5 231.2 286.7 231.6 286.0 232.1 285.4 232.9 284.9 233.6 284.5 234.2 284.0 234.9 283.6 235.7 283.4 236.5 283.5 237.3 283.5 238.0 283.5 238.7 283.4 239.5 283.3 240.3 283.2 241.1 283.0 242.1 282.9 243.0 283.1 243.7 283.5 244.4 284.0 245.2 284.5 245.8 285.1 246.2 285.8 246.4 286.7 246.6 287.5 246.7 288.3 246.7 289.1Z" fill="none" stroke="#2a2a2a" stroke-width="0.65" stroke-linejoin="round"/>
<path d="M246.3 289.8 246.0 290.5 245.8 291.2 245.6 291.8 245.3 292.4 244.9 292.9 244.4 293.4 244.0 293.9 243.4 294.3 242.7 294.5 241.9 294.6 241.3 294.8 240.8 295.3 240.3 295.7 239.6 295.9 238.9 296.1 238.1 296.2 237.4 296.2 236.6 296.1 236.0 295.7 235.3 295.4 234.6 295.1 233.9 294.8 233.5 294.2 233.2 293.5 232.9 293.0 232.4 292.4 232.0 291.9 231.7 291.2 231.6 290.5 231.4 289.8 231.4 289.1 231.7 288.5 232.1 287.9 232.5 287.3 232.6 286.6 232.9 285.9 233.4 285.4 234.0 285.0 234.6 284.6 235.2 284.1 235.9 283.9 236.7 283.8 237.4 283.7 238.1 283.6 238.9 283.6 239.6 283.8 240.2 284.2 240.8 284.4 241.6 284.4 242.4 284.4 243.2 284.5 243.9 284.9 244.6 285.2 245.2 285.7 245.5 286.4 245.7 287.1 245.9 287.8 246.2 288.5 246.4 289.1Z" fill="none" stroke="#2a2a2a" stroke-width="0.65" stroke-linejoin="round"/>
<path d="M246.0 289.8 245.8 290.4 245.5 291.0 245.2 291.5 244.9 292.0 244.6 292.5 244.2 293.0 243.8 293.5 243.5 294.0 243.0 294.4 242.3 294.6 241.5 294.6 240.9 294.7 240.3 295.0 239.7 295.1 239.0 295.1 238.3 295.0 237.7 295.0 237.0 295.0 236.3 294.9 235.7 294.6 235.0 294.4 234.3 294.2 233.7 293.8 233.4 293.2 233.3 292.6 233.2 292.0 233.0 291.5 232.8 290.9 232.8 290.4 232.8 289.8 232.7 289.2 232.7 288.7 232.9 288.1 233.3 287.7 233.5 287.1 233.7 286.5 234.0 286.0 234.6 285.6 235.2 285.4 235.8 285.1 236.3 284.7 237.0 284.5 237.6 284.3 238.3 284.1 239.0 283.9 239.8 283.9 240.4 284.2 241.0 284.7 241.5 285.0 242.1 285.3 242.6 285.6 243.1 285.9 243.5 286.3 244.0 286.7 244.5 287.1 244.9 287.6 245.1 288.1 245.4 288.6 245.8 289.2Z" fill="none" stroke="#2a2a2a" stroke-width="0.65" stroke-linejoin="round"/>
<path d="M244.6 289.9 244.6 290.4 244.3 290.8 244.1 291.3 243.9 291.8 243.9 292.3 243.7 292.8 243.3 293.2 242.8 293.5 242.4 293.9 242.0 294.3 241.5 294.6 240.8 294.8 240.2 294.9 239.5 294.9 238.9 294.8 238.3 294.5 237.8 294.2 237.2 294.1 236.6 294.1 236.1 294.0 235.6 293.7 235.1 293.4 234.6 293.1 234.2 292.8 233.8 292.3 233.6 291.8 233.3 291.4 233.0 290.9 232.9 290.4 233.0 289.9 233.2 289.4 233.3 288.9 233.3 288.3 233.4 287.8 233.7 287.3 234.1 286.9 234.6 286.6 235.1 286.3 235.7 286.2 236.2 286.0 236.7 285.8 237.2 285.4 237.7 285.1 238.3 285.0 238.9 285.0 239.5 284.9 240.2 284.9 240.8 284.9 241.4 285.2 242.0 285.4 242.5 285.7 242.9 286.1 243.2 286.6 243.3 287.1 243.6 287.6 244.1 287.9 244.4 288.3 244.6 288.8 244.6 289.4Z" fill="none" stroke="#2a2a2a" stroke-width="0.65" stroke-linejoin="round"/>
<path d="M243.7 289.9 243.6 290.3 243.6 290.8 243.7 291.2 243.8 291.8 243.6 292.2 243.3 292.6 242.8 292.9 242.3 293.2 241.9 293.4 241.3 293.6 240.8 293.6 240.3 293.8 239.8 294.0 239.3 294.0 238.8 293.9 238.3 293.9 237.8 293.9 237.2 294.0 236.7 293.9 236.2 293.7 235.8 293.4 235.4 293.1 235.0 292.8 234.7 292.4 234.5 292.0 234.1 291.7 233.7 291.3 233.5 290.9 233.5 290.4 233.6 289.9 233.7 289.5 233.8 289.0 234.1 288.6 234.4 288.3 234.6 287.9 234.9 287.5 235.2 287.2 235.6 287.0 236.0 286.7 236.3 286.3 236.7 285.9 237.1 285.6 237.7 285.5 238.3 285.5 238.8 285.5 239.4 285.6 239.9 285.8 240.3 286.0 240.8 286.1 241.4 286.2 241.9 286.4 242.2 286.8 242.4 287.2 242.8 287.5 243.1 287.8 243.4 288.2 243.5 288.6 243.6 289.1 243.7 289.5Z" fill="none" stroke="#2a2a2a" stroke-width="0.65" stroke-linejoin="round"/>
<path d="M243.2 290.0 243.2 290.4 243.1 290.8 243.0 291.1 242.9 291.5 242.8 291.9 242.4 292.2 241.9 292.3 241.4 292.5 241.1 292.7 240.7 292.9 240.4 293.1 240.0 293.2 239.6 293.5 239.2 293.6 238.7 293.6 238.2 293.5 237.8 293.5 237.3 293.5 236.9 293.4 236.4 293.2 236.1 292.9 235.8 292.7 235.4 292.4 235.1 292.1 234.9 291.8 234.7 291.5 234.4 291.1 234.2 290.8 234.3 290.4 234.5 290.0 234.7 289.6 234.8 289.3 234.8 288.9 234.9 288.6 235.1 288.2 235.2 287.9 235.4 287.5 235.7 287.2 236.1 287.0 236.5 286.7 236.8 286.5 237.3 286.3 237.8 286.2 238.2 286.3 238.7 286.4 239.1 286.5 239.6 286.5 240.0 286.6 240.4 286.8 240.9 286.8 241.3 287.0 241.6 287.3 241.8 287.7 242.0 288.0 242.3 288.2 242.6 288.5 242.8 288.9 242.9 289.2 243.1 289.6Z" fill="none" stroke="#2a2a2a" stroke-width="0.65" stroke-linejoin="round"/>
<path d="M241.9 290.0 242.0 290.3 242.0 290.6 241.9 290.9 241.9 291.2 241.8 291.5 241.7 291.8 241.4 292.1 241.0 292.2 240.7 292.4 240.4 292.6 240.1 292.9 239.8 293.0 239.4 293.0 239.0 293.1 238.6 293.1 238.2 293.1 237.8 293.0 237.5 292.9 237.1 292.8 236.7 292.7 236.5 292.4 236.4 292.1 236.1 291.8 235.9 291.7 235.6 291.5 235.4 291.2 235.1 291.0 234.9 290.7 234.8 290.4 234.8 290.0 234.9 289.7 235.0 289.4 235.0 289.1 235.1 288.8 235.4 288.5 235.7 288.3 236.0 288.1 236.2 287.9 236.5 287.7 236.8 287.5 237.1 287.3 237.5 287.2 237.8 287.1 238.2 287.1 238.6 287.2 238.9 287.3 239.3 287.2 239.7 287.2 240.1 287.3 240.5 287.4 240.9 287.5 241.2 287.7 241.5 287.9 241.7 288.2 241.9 288.5 242.1 288.8 242.2 289.1 242.1 289.4 242.0 289.7Z" fill="none" stroke="#2a2a2a" stroke-width="0.65" stroke-linejoin="round"/>
<path d="M241.5 290.1 241.4 290.3 241.3 290.6 241.2 290.8 241.2 291.1 241.2 291.3 241.0 291.6 240.8 291.7 240.5 291.9 240.2 292.0 240.0 292.1 239.7 292.2 239.4 292.2 239.1 292.3 238.8 292.3 238.5 292.3 238.2 292.3 237.9 292.2 237.6 292.3 237.3 292.3 236.9 292.3 236.7 292.1 236.4 291.9 236.2 291.7 236.0 291.5 236.0 291.3 235.9 291.0 235.7 290.8 235.6 290.6 235.5 290.3 235.6 290.1 235.7 289.8 235.7 289.6 235.7 289.4 235.9 289.1 236.0 288.9 236.2 288.7 236.4 288.5 236.6 288.4 236.9 288.3 237.1 288.1 237.3 287.9 237.5 287.7 237.8 287.6 238.2 287.6 238.5 287.6 238.8 287.6 239.1 287.7 239.4 287.8 239.7 288.0 239.9 288.1 240.2 288.2 240.4 288.4 240.6 288.6 240.7 288.8 240.9 289.0 241.2 289.1 241.3 289.3 241.4 289.6 241.4 289.8Z" fill="none" stroke="#2a2a2a" stroke-width="0.65" stroke-linejoin="round"/>
<path d="M240.5 290.1 240.5 290.3 240.4 290.5 240.4 290.7 240.5 290.9 240.4 291.0 240.2 291.2 240.0 291.3 239.9 291.4 239.7 291.5 239.5 291.6 239.3 291.7 239.1 291.8 238.9 291.9 238.6 292.0 238.4 291.9 238.2 291.9 237.9 291.9 237.7 291.8 237.5 291.7 237.3 291.6 237.2 291.5 237.0 291.3 236.9 291.2 236.7 291.1 236.6 290.9 236.4 290.8 236.2 290.7 236.1 290.5 236.1 290.3 236.1 290.1 236.1 290.0 236.1 289.8 236.2 289.6 236.4 289.4 236.5 289.3 236.6 289.1 236.7 289.0 237.0 288.9 237.2 288.8 237.3 288.7 237.5 288.5 237.7 288.5 237.9 288.5 238.2 288.5 238.4 288.5 238.6 288.5 238.8 288.5 239.1 288.5 239.3 288.5 239.6 288.6 239.8 288.6 240.0 288.8 240.1 289.0 240.2 289.1 240.4 289.2 240.5 289.4 240.5 289.6 240.5 289.8 240.5 290.0Z" fill="none" stroke="#2a2a2a" stroke-width="0.65" stroke-linejoin="round"/>
<path d="M239.7 290.2 239.7 290.3 239.7 290.4 239.7 290.5 239.6 290.6 239.6 290.8 239.6 290.9 239.5 291.0 239.4 291.1 239.2 291.1 239.1 291.2 238.9 291.3 238.8 291.3 238.6 291.3 238.5 291.2 238.3 291.2 238.2 291.2 238.0 291.2 237.9 291.2 237.7 291.2 237.5 291.2 237.4 291.1 237.3 291.0 237.2 290.9 237.1 290.8 237.0 290.8 236.9 290.7 236.9 290.5 236.8 290.4 236.7 290.3 236.7 290.2 236.8 290.1 236.8 290.0 236.9 289.9 236.9 289.7 237.0 289.6 237.1 289.6 237.3 289.5 237.4 289.4 237.5 289.4 237.6 289.3 237.7 289.2 237.8 289.2 238.0 289.1 238.1 289.0 238.3 289.1 238.5 289.1 238.6 289.1 238.8 289.1 238.9 289.2 239.1 289.2 239.2 289.3 239.3 289.4 239.4 289.5 239.5 289.6 239.6 289.7 239.6 289.8 239.7 289.9 239.8 290.0 239.8 290.1Z" fill="none" stroke="#2a2a2a" stroke-width="0.65" stroke-linejoin="round"/>
<ellipse cx="238.5" cy="290.2" rx="1.2" ry="0.9" fill="#fff" fill-opacity="0.8" transform="rotate(0 238.5 290.2)"/>
<path d="M228.5 292.1 228.5 292.6 228.3 293.0 228.1 293.5 227.9 293.9 227.5 294.4 227.1 294.7 226.6 295.1 226.1 295.4 225.5 295.7 224.8 296.0 224.2 296.2 223.5 296.4 222.7 296.5 222.0 296.6 221.2 296.6 220.4 296.6 219.7 296.5 218.9 296.4 218.2 296.2 217.5 296.0 216.9 295.7 216.3 295.4 215.8 295.1 215.3 294.7 214.9 294.4 214.5 293.9 214.3 293.5 214.1 293.0 213.9 292.6 213.9 292.1 213.9 291.6 214.1 291.2 214.3 290.7 214.5 290.3 214.9 289.9 215.3 289.5 215.8 289.1 216.3 288.8 216.9 288.5 217.5 288.2 218.2 288.0 218.9 287.8 219.7 287.7 220.4 287.6 221.2 287.6 222.0 287.6 222.7 287.7 223.5 287.8 224.2 288.0 224.8 288.2 225.5 288.5 226.1 288.8 226.6 289.1 227.1 289.5 227.5 289.9 227.9 290.3 228.1 290.7 228.3 291.2 228.5 291.6Z" fill="none" stroke="#333" stroke-width="0.7" stroke-linejoin="round"/>
<path d="M227.1 292.2 227.0 292.5 226.9 292.8 226.8 293.1 226.6 293.4 226.3 293.6 226.0 293.9 225.7 294.1 225.2 294.3 224.8 294.5 224.3 294.7 223.8 294.8 223.3 294.9 222.7 295.0 222.2 295.0 221.6 295.1 221.0 295.0 220.5 295.0 219.9 294.9 219.4 294.8 218.9 294.7 218.4 294.5 218.0 294.3 217.5 294.1 217.2 293.9 216.9 293.6 216.6 293.4 216.4 293.1 216.3 292.8 216.2 292.5 216.1 292.2 216.2 292.0 216.3 291.7 216.4 291.4 216.6 291.1 216.9 290.9 217.2 290.6 217.5 290.4 218.0 290.2 218.4 290.0 218.9 289.8 219.4 289.7 219.9 289.6 220.5 289.5 221.0 289.5 221.6 289.4 222.2 289.5 222.7 289.5 223.3 289.6 223.8 289.7 224.3 289.8 224.8 290.0 225.2 290.2 225.7 290.4 226.0 290.6 226.3 290.9 226.6 291.1 226.8 291.4 226.9 291.7 227.0 292.0Z" fill="none" stroke="#333" stroke-width="0.7" stroke-linejoin="round"/>
<path d="M225.6 292.4 225.6 292.5 225.5 292.6 225.4 292.7 225.3 292.8 225.1 292.9 224.9 293.0 224.7 293.1 224.4 293.2 224.1 293.3 223.8 293.4 223.5 293.4 223.1 293.4 222.7 293.5 222.4 293.5 222.0 293.5 221.6 293.5 221.3 293.5 220.9 293.4 220.5 293.4 220.2 293.4 219.9 293.3 219.6 293.2 219.3 293.1 219.1 293.0 218.9 292.9 218.7 292.8 218.6 292.7 218.5 292.6 218.4 292.5 218.4 292.4 218.4 292.3 218.5 292.2 218.6 292.1 218.7 292.0 218.9 291.8 219.1 291.8 219.3 291.7 219.6 291.6 219.9 291.5 220.2 291.4 220.5 291.4 220.9 291.4 221.3 291.3 221.6 291.3 222.0 291.3 222.4 291.3 222.7 291.3 223.1 291.4 223.5 291.4 223.8 291.4 224.1 291.5 224.4 291.6 224.7 291.7 224.9 291.8 225.1 291.8 225.3 292.0 225.4 292.1 225.5 292.2 225.6 292.3Z" fill="none" stroke="#333" stroke-width="0.7" stroke-linejoin="round"/>
<ellipse cx="302" cy="260.5" rx="8.5" ry="10" fill="#111" fill-opacity="0.55" transform="rotate(0 302 260.5)"/>
<ellipse cx="316" cy="260" rx="18" ry="5.8" fill="#000" fill-opacity="0.45" transform="rotate(0 316 260)"/>
<path d="M351.6 260.0 349.8 262.9 346.8 265.3 343.0 266.8 339.4 267.7 336.4 268.3 333.9 268.7 331.9 268.9 330.1 269.0 328.7 269.2 327.4 269.3 326.2 269.5 325.1 269.6 324.1 269.7 323.1 270.0 322.0 270.3 320.9 270.5 319.8 270.5 318.6 270.5 317.2 270.7 315.7 270.9 313.9 271.1 311.7 271.4 308.9 271.8 305.6 271.9 301.8 271.6 298.2 270.6 295.8 268.5 294.6 265.8 294.1 262.9 294.0 260.0 294.2 257.1 294.9 254.2 296.8 251.8 299.9 250.2 303.3 249.2 306.5 248.7 309.2 248.5 311.5 248.4 313.6 248.5 315.5 248.8 317.1 249.0 318.5 249.2 319.7 249.3 320.9 249.4 322.0 249.6 323.1 249.6 324.2 249.5 325.4 249.6 326.6 249.6 328.0 249.6 329.7 249.5 331.6 249.4 333.8 249.4 336.4 249.5 340.0 249.6 344.6 249.9 348.6 251.4 351.0 253.8 352.1 256.8Z" fill="none" stroke="#1a1a1a" stroke-width="0.7" stroke-linejoin="round"/>
<path d="M350.7 259.9 348.9 262.5 346.3 264.6 343.1 266.1 339.9 267.0 337.0 267.5 334.5 267.8 332.6 268.1 331.0 268.4 329.5 268.6 328.0 268.8 326.7 268.9 325.4 269.1 324.2 269.2 322.9 269.2 321.7 269.3 320.4 269.5 319.0 269.8 317.6 270.1 316.0 270.2 314.4 270.3 312.5 270.5 310.2 270.8 307.7 270.9 304.7 270.8 301.3 270.5 298.0 269.5 295.8 267.6 295.0 265.2 294.7 262.6 294.5 260.1 294.4 257.5 294.9 254.9 296.6 252.7 299.4 251.2 302.5 250.3 305.4 249.8 308.1 249.6 310.5 249.6 312.5 249.6 314.3 249.6 315.9 249.6 317.5 249.7 318.9 249.9 320.3 250.0 321.6 249.9 323.0 250.0 324.3 250.1 325.6 250.2 327.0 250.3 328.5 250.3 330.0 250.5 331.8 250.6 334.0 250.6 336.7 250.5 340.2 250.6 344.3 250.9 348.0 252.2 350.2 254.4 351.2 257.1Z" fill="none" stroke="#1a1a1a" stroke-width="0.7" stroke-linejoin="round"/>
<path d="M349.3 259.9 347.9 262.1 345.8 264.0 343.1 265.3 340.2 266.2 337.6 266.7 335.3 267.1 333.4 267.4 331.7 267.6 330.1 267.9 328.6 268.1 327.2 268.4 325.8 268.7 324.3 268.9 322.8 268.9 321.3 269.0 319.8 269.1 318.2 269.3 316.7 269.3 315.1 269.3 313.4 269.3 311.5 269.4 309.3 269.6 306.9 269.6 304.1 269.6 300.8 269.3 297.7 268.5 295.7 266.8 294.8 264.7 294.5 262.4 294.4 260.1 294.5 257.8 295.0 255.6 296.6 253.7 299.0 252.3 301.7 251.5 304.4 250.9 307.0 250.7 309.2 250.6 311.2 250.5 313.1 250.4 314.9 250.5 316.6 250.6 318.2 250.8 319.8 250.8 321.3 250.9 322.8 250.9 324.3 250.9 325.9 250.8 327.5 250.7 329.2 250.8 330.9 250.9 332.7 251.1 334.8 251.2 337.3 251.4 340.2 251.6 343.8 252.0 347.0 253.2 348.9 255.1 349.8 257.4Z" fill="none" stroke="#1a1a1a" stroke-width="0.7" stroke-linejoin="round"/>
<path d="M348.5 259.8 347.2 261.8 345.3 263.4 343.0 264.6 340.6 265.4 338.3 265.9 336.3 266.4 334.4 266.8 332.7 267.1 330.9 267.2 329.1 267.3 327.5 267.5 325.9 267.8 324.3 268.1 322.7 268.3 321.0 268.5 319.2 268.6 317.4 268.7 315.6 268.8 313.9 268.7 312.0 268.7 310.0 268.8 307.9 268.8 305.6 268.7 303.2 268.5 300.5 268.1 297.9 267.3 296.0 265.9 295.0 264.1 294.6 262.1 294.5 260.2 294.6 258.2 295.2 256.3 296.7 254.7 298.9 253.5 301.2 252.7 303.5 252.1 305.7 251.8 307.9 251.6 309.9 251.4 311.8 251.3 313.7 251.2 315.5 251.2 317.4 251.2 319.1 251.2 320.9 251.2 322.6 251.4 324.3 251.6 325.9 251.7 327.7 251.7 329.5 251.7 331.4 251.8 333.3 251.9 335.4 252.1 337.7 252.3 340.3 252.6 343.4 253.0 346.1 254.1 347.9 255.7 348.8 257.7Z" fill="none" stroke="#1a1a1a" stroke-width="0.7" stroke-linejoin="round"/>
<path d="M347.6 259.8 346.6 261.4 344.9 262.8 342.9 263.8 340.9 264.6 338.9 265.1 337.0 265.6 335.3 266.0 333.6 266.4 331.8 266.8 329.9 267.0 328.0 267.1 326.2 267.2 324.4 267.4 322.5 267.6 320.7 267.7 318.8 267.7 316.8 267.8 314.9 267.9 312.9 268.0 310.9 267.9 308.7 267.9 306.5 267.9 304.2 267.8 302.0 267.5 299.8 267.0 297.6 266.2 296.1 265.0 295.2 263.5 294.9 261.9 294.8 260.2 294.8 258.6 295.3 257.0 296.5 255.6 298.4 254.6 300.5 253.9 302.5 253.3 304.6 252.9 306.7 252.6 308.8 252.4 310.8 252.3 312.7 252.1 314.6 252.0 316.6 251.9 318.5 251.8 320.5 251.6 322.5 251.6 324.4 251.8 326.3 252.1 328.1 252.3 330.0 252.5 331.9 252.6 333.7 252.8 335.7 253.1 337.8 253.3 340.3 253.6 342.9 254.0 345.2 255.0 346.8 256.4 347.7 258.0Z" fill="none" stroke="#1a1a1a" stroke-width="0.7" stroke-linejoin="round"/>
<path d="M346.1 259.7 345.5 261.0 344.3 262.1 342.7 263.0 341.1 263.7 339.5 264.3 337.9 264.9 336.2 265.3 334.3 265.7 332.5 266.1 330.7 266.5 328.8 266.8 326.7 267.1 324.6 267.2 322.4 267.3 320.3 267.3 318.2 267.2 316.2 267.1 314.1 267.1 312.0 267.1 309.8 267.1 307.7 267.0 305.6 266.8 303.5 266.6 301.4 266.3 299.3 265.8 297.4 265.1 296.0 264.1 295.1 262.9 294.7 261.6 294.7 260.3 294.9 259.0 295.4 257.7 296.3 256.6 297.7 255.6 299.6 254.9 301.5 254.4 303.5 254.0 305.6 253.7 307.7 253.5 309.8 253.3 311.9 253.1 313.8 252.9 315.9 252.7 318.0 252.6 320.1 252.6 322.3 252.5 324.5 252.4 326.6 252.5 328.7 252.7 330.8 252.9 332.8 253.1 334.7 253.5 336.4 253.8 338.2 254.2 340.3 254.6 342.5 255.1 344.5 255.9 345.6 257.0 346.2 258.3Z" fill="none" stroke="#1a1a1a" stroke-width="0.7" stroke-linejoin="round"/>
<path d="M345.0 259.6 344.6 260.6 343.8 261.5 342.9 262.3 341.8 263.0 340.5 263.6 338.9 264.1 337.1 264.6 335.3 265.1 333.3 265.4 331.2 265.7 329.0 266.0 326.8 266.2 324.6 266.4 322.3 266.6 320.0 266.6 317.7 266.6 315.4 266.6 313.0 266.7 310.6 266.6 308.5 266.4 306.4 266.1 304.3 265.9 302.4 265.5 300.6 265.1 298.9 264.6 297.2 264.0 295.9 263.2 295.1 262.3 294.8 261.3 294.8 260.4 295.0 259.4 295.4 258.4 296.3 257.5 297.7 256.8 299.2 256.2 300.8 255.6 302.5 255.1 304.5 254.7 306.5 254.4 308.4 254.0 310.4 253.6 312.6 253.3 314.9 253.2 317.3 253.1 319.7 253.0 322.1 253.1 324.5 253.2 326.7 253.4 329.0 253.5 331.2 253.7 333.3 254.0 335.2 254.3 336.9 254.7 338.7 255.1 340.5 255.6 342.2 256.1 343.5 256.8 344.4 257.7 344.9 258.6Z" fill="none" stroke="#1a1a1a" stroke-width="0.7" stroke-linejoin="round"/>
<path d="M344.1 259.6 344.0 260.2 343.6 260.9 343.0 261.5 342.2 262.2 341.0 262.8 339.5 263.3 337.7 263.8 335.8 264.3 333.8 264.7 331.6 265.0 329.4 265.4 327.1 265.6 324.7 265.9 322.2 266.2 319.6 266.3 317.1 266.2 314.6 266.1 312.0 266.1 309.5 265.9 307.2 265.6 305.1 265.3 303.2 264.9 301.3 264.5 299.7 264.0 298.3 263.5 297.1 262.9 296.1 262.3 295.4 261.7 295.1 261.1 295.2 260.4 295.4 259.8 295.8 259.1 296.4 258.5 297.3 257.9 298.4 257.3 299.6 256.7 301.1 256.1 302.9 255.6 304.9 255.2 307.1 254.8 309.2 254.4 311.6 254.1 314.1 253.9 316.8 253.9 319.4 253.9 322.0 253.9 324.5 253.9 326.9 254.1 329.3 254.2 331.7 254.4 333.9 254.7 335.8 255.1 337.5 255.6 339.0 256.1 340.5 256.6 341.8 257.1 342.7 257.7 343.4 258.3 343.9 258.9Z" fill="none" stroke="#1a1a1a" stroke-width="0.7" stroke-linejoin="round"/>
<path d="M343.3 259.5 343.2 260.1 342.9 260.7 342.3 261.2 341.5 261.8 340.5 262.3 339.2 262.9 337.6 263.3 335.7 263.7 333.8 264.1 331.8 264.5 329.6 264.9 327.3 265.1 324.8 265.3 322.3 265.5 319.8 265.6 317.3 265.6 314.8 265.5 312.4 265.4 310.0 265.2 307.8 265.0 305.9 264.7 304.1 264.3 302.4 263.9 300.7 263.5 299.3 263.1 298.1 262.6 297.1 262.1 296.3 261.6 295.8 261.0 295.7 260.5 295.9 259.9 296.3 259.3 296.8 258.7 297.7 258.2 298.9 257.6 300.4 257.1 302.0 256.7 303.8 256.2 305.7 255.8 307.8 255.5 310.0 255.2 312.2 254.9 314.6 254.7 317.2 254.6 319.7 254.7 322.1 254.7 324.5 254.6 327.0 254.6 329.4 254.8 331.6 255.0 333.8 255.2 335.8 255.5 337.6 255.9 339.1 256.4 340.4 256.8 341.6 257.3 342.5 257.8 343.0 258.4 343.2 259.0Z" fill="none" stroke="#1a1a1a" stroke-width="0.7" stroke-linejoin="round"/>
<path d="M343.2 259.5 343.0 260.0 342.6 260.5 341.9 261.0 341.2 261.5 340.3 261.9 339.0 262.4 337.4 262.8 335.6 263.2 333.7 263.6 331.6 263.9 329.4 264.1 327.1 264.3 324.8 264.4 322.4 264.5 320.1 264.6 317.8 264.6 315.4 264.6 312.9 264.6 310.5 264.6 308.2 264.4 306.1 264.2 304.3 263.9 302.6 263.6 301.1 263.2 299.9 262.8 298.8 262.4 297.9 261.9 297.2 261.5 296.8 261.0 296.7 260.5 297.0 260.0 297.3 259.5 297.9 259.0 298.7 258.5 299.9 258.0 301.2 257.6 302.7 257.2 304.4 256.8 306.4 256.4 308.4 256.1 310.4 255.8 312.5 255.5 314.7 255.2 317.2 255.1 319.8 255.0 322.3 255.0 324.7 255.1 327.0 255.3 329.2 255.5 331.3 255.6 333.4 255.8 335.3 256.1 336.9 256.5 338.4 256.8 339.8 257.2 341.1 257.6 342.0 258.0 342.7 258.5 343.0 259.0Z" fill="none" stroke="#1a1a1a" stroke-width="0.7" stroke-linejoin="round"/>
<path d="M342.5 259.4 342.3 259.8 342.0 260.3 341.5 260.7 340.9 261.1 339.9 261.5 338.5 261.9 336.9 262.3 335.3 262.6 333.5 262.9 331.5 263.2 329.4 263.4 327.3 263.7 325.0 263.9 322.6 264.1 320.2 264.1 317.9 264.1 315.5 264.1 313.2 264.0 311.0 263.9 309.0 263.7 307.2 263.5 305.3 263.3 303.7 263.0 302.2 262.7 300.9 262.4 299.6 262.1 298.5 261.7 297.8 261.3 297.5 260.9 297.5 260.5 297.6 260.1 297.9 259.6 298.5 259.2 299.5 258.8 300.5 258.4 301.8 258.0 303.3 257.6 305.1 257.3 307.0 257.0 308.9 256.7 310.9 256.5 313.0 256.2 315.4 256.1 317.8 256.1 320.1 256.0 322.4 256.0 324.7 256.0 327.0 256.0 329.3 256.0 331.6 256.1 333.6 256.3 335.4 256.5 337.0 256.8 338.5 257.1 339.8 257.4 340.8 257.8 341.6 258.2 342.1 258.6 342.4 259.0Z" fill="none" stroke="#1a1a1a" stroke-width="0.7" stroke-linejoin="round"/>
<path d="M342.1 259.4 341.9 259.7 341.6 260.1 341.1 260.4 340.3 260.8 339.4 261.1 338.3 261.5 337.0 261.8 335.3 262.1 333.4 262.3 331.5 262.6 329.5 262.8 327.3 263.0 325.0 263.1 322.7 263.1 320.5 263.2 318.3 263.2 316.1 263.2 313.9 263.2 311.6 263.2 309.4 263.1 307.4 263.0 305.7 262.8 304.2 262.6 302.7 262.4 301.4 262.1 300.3 261.8 299.5 261.5 298.8 261.2 298.4 260.9 298.2 260.5 298.4 260.2 298.9 259.8 299.4 259.5 300.2 259.1 301.3 258.8 302.7 258.5 304.3 258.2 305.9 257.9 307.7 257.6 309.6 257.4 311.6 257.2 313.6 257.0 315.6 256.7 317.8 256.5 320.2 256.5 322.6 256.5 324.9 256.5 327.2 256.5 329.3 256.6 331.3 256.7 333.2 256.9 335.0 257.1 336.6 257.3 338.0 257.5 339.2 257.8 340.3 258.1 341.2 258.4 341.9 258.7 342.1 259.0Z" fill="none" stroke="#1a1a1a" stroke-width="0.7" stroke-linejoin="round"/>
<path d="M341.7 259.3 341.8 259.6 341.6 259.9 341.1 260.2 340.3 260.4 339.2 260.7 338.0 261.0 336.5 261.2 334.7 261.5 332.9 261.7 331.1 261.9 329.2 262.0 327.1 262.2 325.0 262.3 322.8 262.4 320.7 262.5 318.4 262.6 316.1 262.7 313.9 262.7 311.8 262.6 309.8 262.6 308.0 262.4 306.4 262.3 304.9 262.1 303.4 262.0 302.1 261.8 301.0 261.6 300.3 261.3 299.7 261.1 299.4 260.8 299.3 260.5 299.6 260.3 300.0 260.0 300.5 259.7 301.2 259.4 302.2 259.2 303.5 258.9 304.9 258.6 306.3 258.4 307.9 258.1 309.7 257.9 311.6 257.7 313.7 257.5 315.8 257.4 318.2 257.3 320.5 257.3 322.7 257.3 324.9 257.3 327.0 257.3 329.1 257.3 331.1 257.4 332.9 257.5 334.7 257.6 336.3 257.7 337.7 257.9 338.9 258.1 340.0 258.3 340.9 258.5 341.4 258.8 341.7 259.0Z" fill="none" stroke="#1a1a1a" stroke-width="0.7" stroke-linejoin="round"/>
<path d="M341.6 259.2 341.5 259.5 341.1 259.7 340.5 259.9 339.7 260.1 338.8 260.3 337.7 260.5 336.2 260.7 334.6 260.9 332.9 261.1 331.0 261.2 328.9 261.3 326.9 261.4 325.0 261.6 323.0 261.7 320.8 261.9 318.6 261.9 316.5 262.0 314.3 262.0 312.3 262.0 310.4 261.9 308.6 261.9 306.9 261.8 305.4 261.7 304.0 261.6 303.0 261.4 302.1 261.3 301.3 261.1 300.6 261.0 300.2 260.8 300.2 260.6 300.3 260.4 300.7 260.2 301.3 260.0 302.1 259.7 303.2 259.5 304.2 259.3 305.4 259.1 306.8 258.9 308.4 258.7 310.3 258.6 312.2 258.4 314.1 258.2 316.3 258.1 318.5 258.0 320.7 258.0 322.9 257.9 325.0 257.9 326.9 258.0 328.8 258.0 330.8 258.0 332.8 258.0 334.6 258.0 336.1 258.1 337.4 258.3 338.6 258.4 339.6 258.5 340.3 258.7 340.9 258.9 341.3 259.1Z" fill="none" stroke="#1a1a1a" stroke-width="0.7" stroke-linejoin="round"/>
<path d="M340.7 259.2 340.7 259.3 340.6 259.5 340.2 259.6 339.5 259.7 338.5 259.9 337.3 260.0 336.0 260.2 334.6 260.3 332.9 260.5 331.1 260.6 329.2 260.7 327.2 260.8 325.2 260.9 323.1 261.0 321.1 261.1 319.0 261.2 316.8 261.2 314.8 261.3 313.0 261.3 311.3 261.3 309.5 261.3 307.8 261.2 306.3 261.2 304.9 261.2 303.6 261.1 302.5 261.0 301.7 260.9 301.3 260.8 301.0 260.7 300.9 260.6 300.9 260.5 301.3 260.3 302.0 260.2 302.9 260.0 303.9 259.9 305.0 259.8 306.4 259.6 307.8 259.5 309.3 259.3 310.9 259.2 312.7 259.1 314.8 259.0 316.9 258.9 318.9 258.8 321.0 258.7 323.1 258.6 325.1 258.6 327.2 258.5 329.3 258.5 331.1 258.5 332.8 258.5 334.4 258.5 335.9 258.6 337.3 258.6 338.3 258.7 339.1 258.8 339.7 258.9 340.3 259.0 340.6 259.1Z" fill="none" stroke="#1a1a1a" stroke-width="0.7" stroke-linejoin="round"/>
<ellipse cx="301.6" cy="260.9" rx="2.3" ry="2.0" fill="#fff" fill-opacity="1.0" transform="rotate(0 301.6 260.9)"/>
<ellipse cx="320" cy="259.8" rx="18" ry="0.7" fill="#fff" fill-opacity="0.6" transform="rotate(-2 320 259.8)"/>
<ellipse cx="306.5" cy="260.4875" rx="1.5" ry="1.0" fill="#fff" fill-opacity="0.7" transform="rotate(0 306.5 260.4875)"/>
<ellipse cx="311" cy="260.285" rx="1.5" ry="1.0" fill="#fff" fill-opacity="0.7" transform="rotate(0 311 260.285)"/>
<ellipse cx="315.5" cy="260.08250000000004" rx="1.5" ry="1.0" fill="#fff" fill-opacity="0.7" transform="rotate(0 315.5 260.08250000000004)"/>
<ellipse cx="320" cy="259.88" rx="1.5" ry="1.0" fill="#fff" fill-opacity="0.7" transform="rotate(0 320 259.88)"/>
<ellipse cx="324.5" cy="259.6775" rx="1.5" ry="1.0" fill="#fff" fill-opacity="0.7" transform="rotate(0 324.5 259.6775)"/>
<ellipse cx="329" cy="259.475" rx="1.5" ry="1.0" fill="#fff" fill-opacity="0.7" transform="rotate(0 329 259.475)"/>
<ellipse cx="333.5" cy="259.27250000000004" rx="1.5" ry="1.0" fill="#fff" fill-opacity="0.7" transform="rotate(0 333.5 259.27250000000004)"/>
<ellipse cx="338" cy="259.07000000000005" rx="1.5" ry="1.0" fill="#fff" fill-opacity="0.7" transform="rotate(0 338 259.07000000000005)"/>
<ellipse cx="342" cy="258.89000000000004" rx="1.5" ry="1.0" fill="#fff" fill-opacity="0.7" transform="rotate(0 342 258.89000000000004)"/>
<ellipse cx="357" cy="290" rx="9.5" ry="9" fill="#222" fill-opacity="0.4" transform="rotate(0 357 290)"/>
<ellipse cx="356" cy="290.2" rx="5.5" ry="5" fill="#111" fill-opacity="0.4" transform="rotate(0 356 290.2)"/>
<path d="M367.3 290.4 367.2 291.6 366.9 292.8 366.4 293.9 365.8 295.0 365.3 296.0 364.7 297.0 363.9 297.8 363.0 298.6 362.0 299.2 361.0 299.8 360.0 300.2 358.9 300.4 357.8 300.6 356.7 300.8 355.6 300.9 354.5 300.8 353.5 300.5 352.4 300.1 351.4 299.8 350.4 299.5 349.3 299.1 348.1 298.7 346.7 298.4 345.0 298.1 342.9 297.7 340.3 297.2 337.1 296.4 333.5 295.1 330.3 293.1 331.0 290.4 334.7 288.2 337.6 286.6 339.7 285.2 341.5 284.1 343.1 283.2 344.5 282.3 345.7 281.5 346.9 280.8 348.2 280.2 349.5 279.9 350.8 279.5 352.0 279.2 353.1 278.9 354.4 278.7 355.6 278.5 356.9 278.3 358.2 278.2 359.5 278.4 360.8 278.8 362.0 279.3 363.2 279.9 364.3 280.7 365.2 281.8 365.8 283.0 366.3 284.2 366.7 285.4 367.0 286.7 367.2 287.9 367.2 289.2Z" fill="none" stroke="#2a2a2a" stroke-width="0.65" stroke-linejoin="round"/>
<path d="M367.0 290.2 366.8 291.3 366.5 292.4 366.2 293.5 365.7 294.5 365.1 295.4 364.3 296.2 363.6 297.1 362.9 297.9 362.1 298.6 361.1 299.1 360.1 299.5 359.1 299.8 358.0 299.9 356.9 299.9 355.9 299.8 354.9 299.8 353.8 299.8 352.8 299.7 351.7 299.4 350.7 299.0 349.7 298.6 348.6 298.2 347.4 297.7 346.2 297.2 344.7 296.6 342.7 296.0 340.5 295.1 338.3 293.9 336.3 292.3 336.7 290.2 338.9 288.4 340.7 287.0 342.2 285.8 343.5 284.7 344.7 283.8 345.8 283.0 347.0 282.3 348.1 281.7 349.2 281.1 350.2 280.5 351.3 280.0 352.4 279.7 353.6 279.5 354.7 279.3 355.9 279.1 357.1 279.0 358.3 279.1 359.5 279.3 360.6 279.7 361.7 280.3 362.6 281.0 363.5 281.9 364.3 282.7 365.2 283.6 365.9 284.5 366.4 285.6 366.7 286.7 367.0 287.9 367.1 289.0Z" fill="none" stroke="#2a2a2a" stroke-width="0.65" stroke-linejoin="round"/>
<path d="M366.5 290.1 366.4 291.2 366.3 292.2 366.1 293.3 365.6 294.3 365.0 295.1 364.3 295.9 363.6 296.7 362.8 297.5 362.0 298.1 361.1 298.7 360.2 299.2 359.2 299.6 358.2 299.8 357.1 299.8 356.1 299.8 355.0 299.7 354.0 299.6 353.0 299.3 352.0 298.9 351.1 298.4 350.1 298.0 349.2 297.5 348.2 297.0 347.0 296.5 345.6 296.0 343.9 295.4 342.1 294.6 340.3 293.4 338.8 291.9 339.1 290.1 340.9 288.5 342.4 287.2 343.6 286.1 344.6 285.1 345.5 284.1 346.5 283.3 347.6 282.6 348.6 282.0 349.6 281.4 350.6 280.8 351.7 280.5 352.8 280.3 353.9 280.1 354.9 279.9 356.0 279.8 357.2 279.7 358.3 279.7 359.5 279.8 360.7 279.9 361.8 280.4 362.7 281.2 363.5 282.0 364.3 282.8 365.1 283.7 365.6 284.7 366.0 285.8 366.3 286.9 366.5 287.9 366.6 289.0Z" fill="none" stroke="#2a2a2a" stroke-width="0.65" stroke-linejoin="round"/>
<path d="M366.6 290.0 366.4 291.0 366.1 292.0 365.9 293.0 365.5 294.0 365.0 294.9 364.3 295.7 363.7 296.5 362.9 297.2 362.0 297.7 361.0 298.1 360.1 298.5 359.2 298.9 358.2 299.3 357.2 299.4 356.2 299.5 355.2 299.5 354.1 299.4 353.1 299.2 352.2 298.8 351.2 298.3 350.2 297.9 349.3 297.4 348.5 296.7 347.6 296.0 346.6 295.4 345.4 294.7 344.0 293.9 342.6 292.8 341.4 291.5 341.6 290.0 342.8 288.6 344.0 287.5 345.0 286.5 345.8 285.5 346.5 284.6 347.3 283.7 348.1 282.9 349.0 282.3 350.0 281.7 350.9 281.1 351.9 280.7 353.0 280.4 354.0 280.2 355.1 280.0 356.2 279.9 357.3 280.0 358.3 280.3 359.3 280.6 360.4 280.8 361.5 281.2 362.4 281.7 363.3 282.4 364.1 283.1 364.8 283.9 365.4 284.9 365.7 285.9 366.1 286.9 366.4 287.9 366.6 288.9Z" fill="none" stroke="#2a2a2a" stroke-width="0.65" stroke-linejoin="round"/>
<path d="M366.5 289.9 366.4 290.9 366.0 291.9 365.7 292.8 365.3 293.7 364.8 294.6 364.3 295.4 363.6 296.2 363.0 296.9 362.2 297.6 361.2 298.0 360.2 298.3 359.2 298.5 358.3 298.8 357.3 299.0 356.3 299.0 355.3 298.9 354.4 298.8 353.4 298.6 352.4 298.4 351.5 298.0 350.5 297.6 349.5 297.2 348.6 296.6 347.9 295.8 347.3 294.9 346.5 294.1 345.7 293.3 344.8 292.3 344.2 291.1 344.3 289.9 344.9 288.8 345.5 287.7 346.1 286.7 346.8 285.8 347.4 285.0 348.0 284.1 348.7 283.3 349.6 282.7 350.5 282.2 351.4 281.7 352.3 281.2 353.3 280.8 354.3 280.5 355.3 280.3 356.4 280.1 357.4 280.1 358.5 280.3 359.4 280.8 360.4 281.2 361.3 281.7 362.2 282.2 362.9 282.9 363.6 283.6 364.3 284.3 364.9 285.1 365.4 286.0 365.8 287.0 366.1 287.9 366.4 288.9Z" fill="none" stroke="#2a2a2a" stroke-width="0.65" stroke-linejoin="round"/>
<path d="M366.0 289.8 365.9 290.7 365.7 291.7 365.3 292.5 365.0 293.4 364.7 294.3 364.3 295.1 363.6 295.8 362.9 296.5 362.1 297.1 361.4 297.8 360.5 298.2 359.5 298.6 358.5 298.8 357.5 298.9 356.5 298.8 355.5 298.6 354.6 298.3 353.6 298.1 352.7 297.9 351.8 297.5 351.0 297.0 350.2 296.4 349.5 295.8 348.8 295.1 348.2 294.3 347.8 293.5 347.4 292.6 347.1 291.7 346.9 290.7 346.9 289.8 347.1 288.9 347.2 287.9 347.4 287.0 347.7 286.1 348.2 285.2 348.8 284.5 349.4 283.8 350.2 283.2 351.0 282.7 351.9 282.3 352.7 281.9 353.6 281.4 354.5 281.0 355.5 280.9 356.5 280.8 357.5 280.8 358.5 280.8 359.5 281.0 360.5 281.4 361.4 281.8 362.2 282.4 363.0 283.0 363.5 283.8 364.0 284.6 364.6 285.4 365.1 286.2 365.6 287.0 365.8 287.9 365.9 288.9Z" fill="none" stroke="#2a2a2a" stroke-width="0.65" stroke-linejoin="round"/>
<path d="M365.0 289.9 364.9 290.7 364.8 291.6 364.7 292.4 364.6 293.3 364.3 294.1 363.7 294.8 363.1 295.5 362.4 296.1 361.6 296.6 360.8 297.0 359.9 297.3 359.0 297.6 358.2 297.8 357.3 298.0 356.4 297.9 355.5 297.8 354.6 297.8 353.7 297.7 352.8 297.5 352.0 297.1 351.3 296.6 350.5 296.0 349.9 295.4 349.4 294.7 348.9 294.0 348.4 293.2 347.9 292.5 347.6 291.6 347.5 290.7 347.6 289.9 347.7 289.0 347.9 288.1 348.2 287.3 348.6 286.6 349.0 285.8 349.5 285.1 350.0 284.5 350.7 283.9 351.4 283.4 352.1 282.8 352.8 282.2 353.7 281.8 354.6 281.6 355.5 281.5 356.4 281.5 357.3 281.6 358.2 281.8 359.1 282.1 360.0 282.3 360.8 282.6 361.6 283.1 362.2 283.7 362.8 284.4 363.4 285.1 363.9 285.8 364.3 286.5 364.6 287.3 364.8 288.2 365.0 289.0Z" fill="none" stroke="#2a2a2a" stroke-width="0.65" stroke-linejoin="round"/>
<path d="M364.4 289.9 364.4 290.7 364.2 291.5 364.0 292.3 363.8 293.0 363.5 293.8 362.9 294.4 362.2 294.9 361.5 295.4 360.8 295.8 360.2 296.2 359.4 296.6 358.7 296.9 358.0 297.2 357.2 297.4 356.3 297.5 355.5 297.4 354.7 297.2 353.8 297.1 353.0 296.9 352.3 296.5 351.6 296.0 351.0 295.5 350.4 295.0 349.8 294.4 349.4 293.7 349.0 293.0 348.6 292.3 348.4 291.5 348.3 290.7 348.5 289.9 348.7 289.2 348.8 288.4 349.0 287.7 349.2 287.0 349.5 286.2 349.9 285.5 350.3 284.8 350.9 284.2 351.6 283.8 352.3 283.3 353.0 282.9 353.8 282.5 354.6 282.4 355.5 282.4 356.3 282.5 357.1 282.6 357.9 282.7 358.7 282.9 359.5 283.2 360.3 283.4 361.0 283.8 361.7 284.3 362.1 285.0 362.6 285.6 363.1 286.2 363.5 286.9 363.9 287.6 364.1 288.4 364.3 289.1Z" fill="none" stroke="#2a2a2a" stroke-width="0.65" stroke-linejoin="round"/>
<path d="M363.1 290.0 363.1 290.7 363.1 291.4 362.9 292.0 362.7 292.7 362.5 293.4 362.2 294.0 361.6 294.5 361.0 295.0 360.4 295.4 359.9 295.9 359.2 296.3 358.5 296.5 357.7 296.6 357.0 296.8 356.2 296.9 355.5 296.8 354.7 296.6 354.0 296.4 353.3 296.2 352.6 295.9 352.1 295.4 351.6 294.8 351.2 294.3 350.6 293.8 350.1 293.3 349.7 292.7 349.4 292.1 349.1 291.4 348.8 290.7 348.9 290.0 349.0 289.3 349.1 288.6 349.2 287.8 349.5 287.1 349.9 286.6 350.5 286.0 351.0 285.5 351.5 285.0 352.0 284.6 352.7 284.2 353.3 283.9 354.0 283.5 354.7 283.3 355.5 283.3 356.2 283.5 356.9 283.5 357.7 283.5 358.4 283.6 359.2 283.8 359.9 284.1 360.6 284.4 361.2 284.8 361.7 285.3 362.2 285.9 362.6 286.6 362.9 287.2 363.2 287.8 363.2 288.6 363.2 289.3Z" fill="none" stroke="#2a2a2a" stroke-width="0.65" stroke-linejoin="round"/>
<path d="M362.6 290.0 362.6 290.7 362.4 291.3 362.2 291.9 362.0 292.5 361.9 293.1 361.6 293.7 361.1 294.2 360.5 294.6 360.0 294.9 359.4 295.3 358.7 295.5 358.1 295.6 357.4 295.7 356.8 295.9 356.1 295.9 355.5 295.8 354.8 295.7 354.2 295.6 353.5 295.6 352.8 295.4 352.2 295.1 351.7 294.6 351.2 294.2 350.8 293.6 350.6 293.0 350.3 292.5 350.0 291.9 349.8 291.3 349.7 290.7 349.7 290.0 349.9 289.4 349.9 288.8 350.1 288.2 350.3 287.6 350.7 287.1 351.0 286.6 351.4 286.1 351.9 285.7 352.5 285.3 353.0 285.0 353.5 284.6 354.1 284.1 354.8 283.9 355.5 283.8 356.2 283.8 356.8 283.9 357.5 284.1 358.1 284.3 358.7 284.7 359.3 284.9 359.9 285.2 360.4 285.6 360.8 286.2 361.1 286.7 361.6 287.1 362.0 287.6 362.3 288.2 362.5 288.8 362.6 289.4Z" fill="none" stroke="#2a2a2a" stroke-width="0.65" stroke-linejoin="round"/>
<path d="M361.5 290.1 361.4 290.6 361.3 291.2 361.3 291.7 361.3 292.3 361.1 292.8 360.7 293.2 360.2 293.6 359.8 294.0 359.4 294.4 358.9 294.7 358.4 294.9 357.8 295.2 357.3 295.4 356.7 295.5 356.1 295.4 355.5 295.3 354.9 295.3 354.3 295.2 353.7 294.9 353.3 294.6 352.8 294.2 352.4 293.9 352.0 293.5 351.7 293.1 351.3 292.6 350.9 292.2 350.5 291.8 350.3 291.2 350.3 290.7 350.3 290.1 350.3 289.5 350.4 289.0 350.6 288.4 350.9 287.9 351.1 287.5 351.5 287.0 351.8 286.6 352.3 286.3 352.8 286.0 353.3 285.6 353.7 285.3 354.3 285.1 354.9 285.0 355.5 285.0 356.0 285.0 356.6 285.0 357.2 285.1 357.8 285.2 358.4 285.3 359.0 285.4 359.6 285.6 360.0 286.0 360.3 286.5 360.7 286.9 361.1 287.4 361.3 287.9 361.4 288.5 361.5 289.0 361.5 289.6Z" fill="none" stroke="#2a2a2a" stroke-width="0.65" stroke-linejoin="round"/>
<path d="M360.7 290.2 360.6 290.6 360.6 291.1 360.5 291.5 360.4 292.0 360.2 292.4 360.1 292.9 359.8 293.3 359.4 293.6 358.9 293.9 358.5 294.1 358.0 294.4 357.5 294.5 357.0 294.6 356.5 294.5 355.9 294.5 355.5 294.5 355.0 294.4 354.5 294.3 354.0 294.2 353.5 294.1 353.0 293.9 352.7 293.5 352.4 293.1 352.0 292.8 351.7 292.4 351.5 292.0 351.3 291.6 351.1 291.1 351.0 290.6 350.9 290.2 351.0 289.7 351.2 289.2 351.3 288.8 351.4 288.3 351.7 287.9 352.1 287.5 352.5 287.3 352.8 287.0 353.2 286.7 353.6 286.4 354.0 286.2 354.5 285.9 354.9 285.6 355.4 285.5 356.0 285.5 356.5 285.6 357.0 285.7 357.5 285.8 358.0 285.9 358.4 286.2 358.8 286.5 359.2 286.8 359.6 287.2 359.8 287.6 360.1 288.0 360.4 288.4 360.6 288.8 360.8 289.2 360.8 289.7Z" fill="none" stroke="#2a2a2a" stroke-width="0.65" stroke-linejoin="round"/>
<path d="M359.9 290.2 360.0 290.6 360.0 291.0 360.0 291.4 359.8 291.8 359.6 292.2 359.3 292.5 359.0 292.8 358.6 293.0 358.2 293.1 357.8 293.4 357.5 293.6 357.1 293.7 356.7 293.8 356.3 293.8 355.9 293.9 355.4 294.0 355.0 293.9 354.6 293.9 354.2 293.7 353.7 293.6 353.4 293.3 353.1 293.0 352.9 292.7 352.6 292.4 352.3 292.1 352.0 291.8 351.9 291.4 351.8 291.0 351.8 290.6 351.8 290.2 351.9 289.8 352.0 289.5 352.1 289.1 352.2 288.7 352.4 288.4 352.6 288.1 352.9 287.8 353.1 287.4 353.4 287.1 353.7 286.8 354.1 286.6 354.6 286.5 355.0 286.4 355.4 286.4 355.9 286.5 356.3 286.6 356.7 286.6 357.1 286.7 357.5 286.8 357.9 287.0 358.2 287.3 358.6 287.5 358.9 287.7 359.2 288.0 359.4 288.4 359.6 288.7 359.8 289.0 359.9 289.4 359.9 289.8Z" fill="none" stroke="#2a2a2a" stroke-width="0.65" stroke-linejoin="round"/>
<path d="M359.2 290.3 359.2 290.6 359.1 290.9 359.0 291.2 358.9 291.5 358.7 291.8 358.6 292.1 358.3 292.3 358.0 292.5 357.7 292.7 357.4 292.8 357.1 292.9 356.7 293.0 356.4 293.1 356.1 293.2 355.8 293.3 355.4 293.3 355.1 293.3 354.7 293.2 354.4 293.1 354.1 292.9 353.8 292.7 353.5 292.5 353.3 292.3 353.0 292.1 352.9 291.8 352.8 291.5 352.7 291.2 352.5 290.9 352.4 290.6 352.4 290.3 352.5 290.0 352.6 289.7 352.7 289.4 352.8 289.1 353.0 288.9 353.1 288.6 353.3 288.3 353.5 288.0 353.8 287.8 354.1 287.6 354.4 287.5 354.7 287.3 355.1 287.2 355.4 287.2 355.8 287.3 356.1 287.3 356.5 287.4 356.8 287.5 357.1 287.7 357.4 287.8 357.7 287.9 358.0 288.0 358.3 288.3 358.5 288.5 358.7 288.8 358.8 289.1 358.9 289.4 359.0 289.7 359.1 290.0Z" fill="none" stroke="#2a2a2a" stroke-width="0.65" stroke-linejoin="round"/>
<path d="M358.2 290.3 358.2 290.6 358.2 290.8 358.2 291.1 358.1 291.3 358.0 291.5 357.8 291.7 357.6 291.9 357.5 292.1 357.2 292.2 357.0 292.3 356.7 292.4 356.5 292.5 356.2 292.5 356.0 292.5 355.7 292.5 355.4 292.6 355.2 292.6 354.9 292.5 354.7 292.4 354.4 292.2 354.2 292.1 354.0 292.0 353.8 291.8 353.6 291.7 353.4 291.5 353.3 291.3 353.1 291.1 353.1 290.8 353.1 290.6 353.1 290.3 353.1 290.1 353.1 289.9 353.3 289.6 353.4 289.5 353.5 289.3 353.7 289.1 353.9 288.9 354.0 288.7 354.2 288.5 354.4 288.4 354.6 288.2 354.9 288.2 355.2 288.2 355.4 288.1 355.7 288.1 356.0 288.1 356.2 288.1 356.5 288.2 356.8 288.2 357.0 288.3 357.2 288.5 357.4 288.7 357.6 288.8 357.8 289.0 357.9 289.2 358.0 289.4 358.0 289.7 358.1 289.9 358.1 290.1Z" fill="none" stroke="#2a2a2a" stroke-width="0.65" stroke-linejoin="round"/>
<path d="M357.4 290.4 357.4 290.6 357.4 290.7 357.4 290.9 357.3 291.0 357.2 291.2 357.0 291.3 356.9 291.4 356.7 291.5 356.6 291.5 356.5 291.6 356.3 291.7 356.2 291.8 356.0 291.9 355.8 291.9 355.6 291.9 355.4 291.9 355.2 291.9 355.0 291.9 354.9 291.8 354.7 291.7 354.5 291.6 354.4 291.5 354.3 291.4 354.2 291.3 354.0 291.2 353.9 291.0 353.9 290.9 353.9 290.7 353.8 290.6 353.8 290.4 353.9 290.2 353.9 290.1 353.9 290.0 354.0 289.8 354.0 289.6 354.1 289.5 354.2 289.4 354.4 289.3 354.5 289.1 354.7 289.0 354.8 289.0 355.0 288.9 355.2 288.9 355.4 288.9 355.6 288.9 355.8 289.0 356.0 289.0 356.2 289.0 356.3 289.0 356.5 289.1 356.6 289.2 356.8 289.3 356.9 289.4 357.0 289.5 357.1 289.7 357.2 289.8 357.3 289.9 357.4 290.1 357.4 290.2Z" fill="none" stroke="#2a2a2a" stroke-width="0.65" stroke-linejoin="round"/>
<ellipse cx="355.6" cy="290.4" rx="1.3" ry="1.0" fill="#fff" fill-opacity="0.9" transform="rotate(0 355.6 290.4)"/>
<path d="M464.5 260.3 464.0 262.5 462.9 264.5 461.2 266.2 459.1 267.4 456.8 268.3 454.7 268.8 452.9 269.2 451.2 269.4 449.8 269.6 448.4 269.7 447.2 269.8 446.1 269.8 445.0 269.8 444.0 269.8 443.0 269.8 442.0 269.8 441.0 269.7 440.0 269.7 438.9 269.6 437.7 269.5 436.4 269.4 435.0 269.2 433.3 269.1 431.3 268.8 428.8 268.5 425.9 267.9 423.2 266.7 421.2 264.9 420.0 262.7 419.6 260.3 420.0 257.9 421.3 255.7 423.4 253.9 426.2 252.8 429.3 252.4 431.9 252.2 433.9 252.1 435.6 252.0 436.9 252.0 438.1 251.9 439.2 251.8 440.2 251.8 441.2 251.7 442.1 251.7 443.0 251.7 443.9 251.6 444.9 251.6 445.9 251.5 446.9 251.5 448.1 251.4 449.5 251.4 451.1 251.4 452.9 251.4 454.9 251.6 457.2 252.1 459.6 252.9 461.7 254.2 463.3 256.0 464.2 258.1Z" fill="none" stroke="#666" stroke-width="0.8" stroke-linejoin="round"/>
<path d="M462.9 260.3 462.5 262.3 461.4 264.2 459.5 265.7 457.3 266.7 455.1 267.3 453.2 267.7 451.5 267.9 450.0 268.1 448.8 268.2 447.6 268.3 446.6 268.3 445.6 268.4 444.7 268.4 443.8 268.4 443.0 268.4 442.2 268.3 441.3 268.3 440.4 268.3 439.5 268.2 438.5 268.2 437.3 268.1 436.1 268.0 434.6 267.9 432.8 267.7 430.5 267.5 427.8 267.1 425.1 266.1 422.9 264.6 421.5 262.6 421.2 260.3 421.7 258.1 423.2 256.1 425.6 254.7 428.5 253.8 431.2 253.5 433.5 253.4 435.2 253.3 436.6 253.2 437.8 253.2 438.9 253.1 439.8 253.1 440.7 253.1 441.5 253.0 442.2 253.0 443.0 253.0 443.8 253.0 444.6 252.9 445.4 252.9 446.3 252.9 447.3 252.8 448.4 252.8 449.7 252.8 451.2 252.9 453.0 253.0 455.0 253.4 457.2 254.0 459.4 255.0 461.3 256.4 462.5 258.2Z" fill="none" stroke="#666" stroke-width="0.8" stroke-linejoin="round"/>
<path d="M461.6 260.3 461.3 262.2 460.2 263.9 458.2 265.2 455.9 266.0 453.8 266.5 451.9 266.8 450.4 267.0 449.1 267.1 448.0 267.1 447.0 267.2 446.1 267.2 445.2 267.2 444.5 267.2 443.7 267.2 443.0 267.2 442.3 267.2 441.5 267.2 440.8 267.2 440.0 267.1 439.1 267.1 438.1 267.1 436.9 267.0 435.6 267.0 433.9 266.9 431.9 266.7 429.4 266.4 426.6 265.6 424.2 264.3 422.8 262.4 422.4 260.3 423.0 258.2 424.8 256.4 427.4 255.2 430.3 254.6 432.7 254.4 434.7 254.3 436.2 254.2 437.5 254.2 438.5 254.1 439.4 254.1 440.2 254.1 441.0 254.1 441.7 254.1 442.3 254.1 443.0 254.1 443.7 254.0 444.3 254.0 445.0 254.0 445.8 254.0 446.6 254.0 447.6 254.0 448.7 254.0 449.9 254.0 451.5 254.2 453.3 254.4 455.4 254.8 457.7 255.5 459.8 256.7 461.2 258.4Z" fill="none" stroke="#666" stroke-width="0.8" stroke-linejoin="round"/>
<path d="M460.5 260.3 460.2 262.1 459.1 263.7 457.0 264.9 454.7 265.5 452.6 265.8 450.9 266.0 449.4 266.1 448.3 266.1 447.3 266.2 446.4 266.2 445.6 266.2 444.9 266.2 444.3 266.2 443.6 266.2 443.0 266.2 442.4 266.2 441.7 266.2 441.1 266.2 440.4 266.2 439.6 266.2 438.7 266.2 437.7 266.2 436.5 266.2 435.0 266.1 433.1 266.0 430.8 265.7 428.0 265.2 425.3 264.1 423.8 262.3 423.5 260.3 424.1 258.3 426.1 256.7 429.0 255.8 431.8 255.3 434.0 255.1 435.8 255.1 437.1 255.0 438.2 255.0 439.1 255.0 439.9 255.0 440.6 255.0 441.3 255.0 441.9 255.0 442.4 255.0 443.0 255.0 443.6 255.0 444.1 255.0 444.7 255.0 445.4 255.0 446.1 255.0 446.8 255.0 447.7 255.0 448.8 255.1 450.1 255.1 451.7 255.3 453.7 255.5 456.1 256.0 458.5 257.0 460.0 258.5Z" fill="none" stroke="#666" stroke-width="0.8" stroke-linejoin="round"/>
<ellipse cx="473.5" cy="291.8" rx="9.5" ry="9" fill="#333" fill-opacity="0.25" transform="rotate(0 473.5 291.8)"/>
<path d="M488.6 291.0 488.6 292.7 488.3 294.5 487.7 296.1 487.0 297.7 486.1 299.2 485.1 300.5 483.9 301.7 482.5 302.6 481.0 303.3 479.4 303.9 477.9 304.2 476.3 304.3 474.8 304.3 473.4 304.4 472.0 304.4 470.6 304.1 469.3 303.7 468.0 303.3 466.7 302.9 465.4 302.5 464.0 302.0 462.5 301.6 460.8 301.1 458.8 300.6 456.7 299.9 454.4 298.9 452.0 297.5 449.8 295.7 448.0 293.5 447.1 291.0 447.0 288.4 447.8 285.9 449.3 283.6 451.4 281.8 453.9 280.5 456.4 279.6 458.7 279.0 460.8 278.5 462.8 278.3 464.6 278.2 466.3 278.2 467.8 278.0 469.2 277.8 470.6 277.7 472.0 277.6 473.4 277.5 474.9 277.3 476.4 277.4 478.0 277.6 479.6 277.9 481.2 278.3 482.8 279.0 484.3 279.9 485.5 281.2 486.4 282.7 487.2 284.2 487.8 285.9 488.2 287.6 488.4 289.3Z" fill="none" stroke="#333" stroke-width="0.65" stroke-linejoin="round"/>
<path d="M488.5 291.0 488.3 292.7 488.0 294.3 487.6 296.0 486.9 297.5 485.9 298.8 484.8 300.1 483.6 301.2 482.4 302.2 481.1 303.0 479.6 303.5 478.0 303.8 476.5 304.0 475.1 304.0 473.7 303.8 472.3 303.6 471.0 303.5 469.7 303.5 468.3 303.3 467.0 302.9 465.7 302.5 464.3 302.0 462.8 301.6 461.2 301.0 459.6 300.3 457.6 299.5 455.5 298.5 453.4 297.1 451.7 295.4 450.4 293.3 449.4 291.0 449.1 288.6 449.7 286.2 451.0 284.1 452.9 282.4 455.1 281.1 457.4 280.2 459.6 279.6 461.7 279.3 463.5 278.9 465.1 278.6 466.6 278.3 468.1 278.2 469.6 278.1 470.9 277.9 472.3 277.7 473.7 277.6 475.2 277.7 476.6 277.8 478.1 278.0 479.6 278.5 481.0 279.1 482.4 279.9 483.8 280.7 485.1 281.7 486.3 283.0 487.1 284.5 487.7 286.0 488.2 287.7 488.4 289.3Z" fill="none" stroke="#333" stroke-width="0.65" stroke-linejoin="round"/>
<path d="M487.9 291.0 487.8 292.6 487.6 294.2 487.3 295.8 486.6 297.2 485.7 298.5 484.6 299.7 483.6 300.8 482.3 301.8 481.0 302.5 479.6 303.1 478.2 303.5 476.8 303.9 475.4 303.9 474.0 303.8 472.6 303.7 471.3 303.5 470.0 303.3 468.7 303.0 467.5 302.5 466.2 302.0 464.9 301.5 463.6 301.0 462.2 300.4 460.5 299.7 458.6 299.1 456.6 298.1 454.7 296.8 453.1 295.2 451.9 293.2 451.2 291.0 451.0 288.8 451.7 286.6 452.9 284.7 454.5 283.0 456.4 281.7 458.5 280.8 460.5 280.2 462.4 279.8 464.1 279.4 465.6 279.0 467.1 278.8 468.6 278.7 469.9 278.6 471.3 278.5 472.6 278.3 474.0 278.3 475.4 278.2 476.9 278.1 478.4 278.2 479.9 278.6 481.2 279.3 482.6 280.1 483.9 281.0 485.1 282.1 486.0 283.4 486.7 284.8 487.2 286.3 487.6 287.9 487.8 289.5Z" fill="none" stroke="#333" stroke-width="0.65" stroke-linejoin="round"/>
<path d="M487.8 291.1 487.6 292.6 487.3 294.1 486.9 295.6 486.4 297.0 485.6 298.3 484.6 299.5 483.6 300.5 482.4 301.4 481.0 302.1 479.6 302.5 478.2 302.8 476.9 303.1 475.6 303.4 474.3 303.5 472.9 303.4 471.6 303.4 470.3 303.2 469.1 302.9 467.8 302.4 466.6 302.0 465.3 301.5 463.9 300.9 462.7 300.2 461.3 299.4 459.8 298.6 458.1 297.6 456.3 296.4 454.9 294.9 453.8 293.1 453.1 291.1 453.0 289.0 453.7 287.0 454.8 285.3 456.3 283.7 457.9 282.5 459.6 281.5 461.4 280.8 463.1 280.3 464.6 279.8 466.1 279.4 467.5 279.1 468.9 278.9 470.3 278.7 471.6 278.5 472.9 278.4 474.3 278.5 475.6 278.7 476.9 278.9 478.3 279.1 479.8 279.4 481.2 279.9 482.5 280.6 483.8 281.5 484.9 282.5 485.8 283.8 486.4 285.2 486.9 286.6 487.4 288.0 487.7 289.5Z" fill="none" stroke="#333" stroke-width="0.65" stroke-linejoin="round"/>
<path d="M487.6 291.1 487.5 292.6 487.1 294.0 486.6 295.4 486.1 296.7 485.4 298.0 484.5 299.1 483.5 300.2 482.4 301.1 481.2 301.8 479.9 302.3 478.4 302.6 477.1 302.8 475.8 303.0 474.5 303.1 473.2 303.0 472.0 302.8 470.7 302.6 469.5 302.4 468.2 302.1 467.0 301.7 465.7 301.3 464.4 300.8 463.0 300.2 461.8 299.3 460.5 298.3 459.2 297.3 457.8 296.0 456.6 294.6 455.8 292.9 455.3 291.1 455.2 289.2 455.6 287.4 456.5 285.7 457.8 284.3 459.3 283.2 460.8 282.2 462.3 281.4 463.8 280.8 465.3 280.4 466.7 280.0 468.0 279.6 469.3 279.3 470.6 279.0 471.9 278.7 473.3 278.5 474.6 278.5 476.0 278.7 477.2 279.1 478.5 279.5 479.8 279.9 481.1 280.5 482.3 281.2 483.4 282.1 484.4 283.1 485.3 284.2 486.1 285.5 486.6 286.8 487.1 288.2 487.5 289.6Z" fill="none" stroke="#333" stroke-width="0.65" stroke-linejoin="round"/>
<path d="M486.9 291.1 486.9 292.5 486.6 293.8 486.1 295.1 485.7 296.4 485.1 297.6 484.4 298.8 483.4 299.8 482.3 300.6 481.2 301.4 480.1 302.1 478.8 302.6 477.5 302.9 476.2 303.0 474.9 303.0 473.6 302.9 472.3 302.6 471.1 302.2 469.9 302.0 468.7 301.7 467.5 301.4 466.3 300.8 465.2 300.2 464.0 299.5 462.8 298.8 461.5 297.9 460.3 296.9 459.1 295.7 458.0 294.4 457.3 292.8 457.0 291.1 457.1 289.4 457.5 287.8 458.1 286.2 459.1 284.8 460.4 283.7 461.8 282.8 463.2 282.0 464.6 281.5 466.0 281.0 467.4 280.7 468.6 280.3 469.8 279.8 471.0 279.5 472.3 279.3 473.6 279.2 474.9 279.1 476.2 279.1 477.5 279.3 478.8 279.6 480.1 280.1 481.4 280.7 482.5 281.5 483.4 282.5 484.2 283.6 485.0 284.7 485.8 285.8 486.4 287.1 486.7 288.4 486.9 289.8Z" fill="none" stroke="#333" stroke-width="0.65" stroke-linejoin="round"/>
<path d="M486.6 291.1 486.4 292.4 486.2 293.7 486.1 295.0 485.8 296.3 485.2 297.5 484.4 298.5 483.4 299.5 482.4 300.3 481.3 301.0 480.0 301.5 478.8 301.9 477.6 302.2 476.3 302.5 475.1 302.6 473.8 302.5 472.6 302.3 471.4 302.2 470.2 302.1 469.0 301.8 467.9 301.3 466.8 300.7 465.7 300.0 464.6 299.2 463.6 298.4 462.6 297.5 461.5 296.5 460.4 295.4 459.6 294.1 459.2 292.7 459.0 291.2 459.0 289.6 459.4 288.2 460.1 286.8 461.0 285.6 462.0 284.5 463.1 283.6 464.3 282.8 465.5 282.1 466.6 281.5 467.8 280.9 468.9 280.2 470.1 279.8 471.4 279.5 472.6 279.4 473.9 279.3 475.2 279.4 476.4 279.6 477.6 279.9 478.9 280.3 480.1 280.7 481.3 281.3 482.3 282.1 483.2 283.0 484.1 283.9 484.9 285.0 485.5 286.1 485.9 287.3 486.3 288.6 486.5 289.9Z" fill="none" stroke="#333" stroke-width="0.65" stroke-linejoin="round"/>
<path d="M486.5 291.2 486.4 292.4 486.2 293.6 485.9 294.8 485.5 296.0 484.9 297.1 484.1 298.1 483.1 298.9 482.1 299.6 481.1 300.3 480.0 300.9 478.9 301.4 477.8 301.8 476.6 302.2 475.4 302.5 474.2 302.5 473.0 302.3 471.8 302.1 470.6 301.9 469.4 301.6 468.3 301.1 467.2 300.4 466.2 299.7 465.2 298.9 464.3 298.1 463.5 297.1 462.7 296.1 462.0 295.0 461.4 293.8 461.1 292.5 461.2 291.2 461.4 289.9 461.6 288.6 462.0 287.4 462.6 286.2 463.3 285.1 464.1 284.1 465.0 283.2 466.0 282.4 467.1 281.7 468.2 281.1 469.3 280.6 470.5 280.1 471.7 279.9 473.0 279.9 474.2 279.9 475.4 280.0 476.6 280.1 477.8 280.4 479.0 280.8 480.2 281.2 481.3 281.8 482.3 282.5 483.1 283.5 483.8 284.4 484.5 285.4 485.2 286.4 485.7 287.6 486.0 288.7 486.3 289.9Z" fill="none" stroke="#333" stroke-width="0.65" stroke-linejoin="round"/>
<path d="M485.7 291.2 485.7 292.3 485.6 293.5 485.3 294.6 484.9 295.7 484.5 296.7 483.9 297.7 483.1 298.6 482.2 299.3 481.2 300.1 480.3 300.8 479.3 301.4 478.1 301.8 476.9 302.0 475.7 302.2 474.5 302.3 473.3 302.2 472.1 302.0 470.9 301.7 469.8 301.3 468.7 300.8 467.8 300.0 467.0 299.1 466.2 298.3 465.4 297.5 464.7 296.6 464.1 295.6 463.6 294.6 463.1 293.5 462.8 292.4 462.8 291.2 463.0 290.0 463.2 288.9 463.4 287.7 463.8 286.6 464.5 285.7 465.2 284.8 466.0 283.9 466.8 283.1 467.8 282.4 468.8 281.8 469.8 281.2 470.9 280.7 472.1 280.4 473.3 280.3 474.4 280.4 475.6 280.5 476.8 280.6 478.0 280.8 479.2 281.1 480.3 281.6 481.4 282.2 482.4 282.9 483.2 283.7 483.9 284.7 484.6 285.7 485.2 286.7 485.6 287.8 485.7 288.9 485.7 290.1Z" fill="none" stroke="#333" stroke-width="0.65" stroke-linejoin="round"/>
<path d="M484.9 291.3 484.8 292.3 484.6 293.4 484.3 294.4 484.0 295.4 483.6 296.4 483.1 297.3 482.3 298.1 481.4 298.8 480.6 299.4 479.6 300.0 478.6 300.4 477.5 300.7 476.5 300.9 475.4 301.1 474.3 301.1 473.2 301.0 472.2 300.8 471.1 300.7 470.1 300.5 469.0 300.2 468.1 299.6 467.2 298.9 466.4 298.1 465.8 297.3 465.2 296.3 464.8 295.3 464.4 294.4 464.0 293.4 463.8 292.3 463.9 291.3 464.0 290.2 464.2 289.2 464.4 288.2 464.8 287.2 465.3 286.3 465.9 285.5 466.6 284.6 467.4 283.9 468.3 283.3 469.2 282.8 470.1 282.1 471.1 281.5 472.2 281.2 473.3 281.0 474.4 281.0 475.5 281.1 476.6 281.4 477.6 281.7 478.6 282.2 479.5 282.7 480.5 283.2 481.3 283.9 482.0 284.7 482.6 285.5 483.3 286.3 483.9 287.2 484.4 288.2 484.7 289.2 484.8 290.2Z" fill="none" stroke="#333" stroke-width="0.65" stroke-linejoin="round"/>
<path d="M483.5 291.4 483.4 292.3 483.3 293.2 483.1 294.1 483.0 295.1 482.6 295.9 481.9 296.7 481.2 297.4 480.5 298.1 479.8 298.7 479.0 299.2 478.1 299.6 477.2 300.1 476.3 300.4 475.3 300.6 474.2 300.5 473.2 300.4 472.2 300.3 471.3 300.1 470.3 299.7 469.5 299.1 468.7 298.5 468.0 297.9 467.3 297.2 466.7 296.5 466.1 295.7 465.5 295.0 465.0 294.2 464.6 293.3 464.5 292.3 464.6 291.4 464.6 290.4 464.8 289.4 465.0 288.5 465.5 287.7 465.9 286.8 466.5 286.0 467.1 285.3 467.9 284.7 468.7 284.2 469.5 283.6 470.3 283.0 471.3 282.7 472.2 282.6 473.2 282.5 474.2 282.5 475.1 282.5 476.1 282.6 477.1 282.8 478.1 283.0 479.1 283.3 480.0 283.8 480.7 284.5 481.4 285.2 482.0 286.0 482.6 286.8 483.0 287.6 483.2 288.6 483.4 289.5 483.5 290.4Z" fill="none" stroke="#333" stroke-width="0.65" stroke-linejoin="round"/>
<path d="M482.4 291.4 482.3 292.3 482.2 293.1 482.0 293.9 481.8 294.7 481.5 295.5 481.1 296.3 480.6 297.0 479.9 297.6 479.1 298.1 478.4 298.5 477.6 299.0 476.8 299.3 475.8 299.4 474.9 299.4 474.0 299.3 473.1 299.3 472.3 299.1 471.4 298.9 470.6 298.7 469.8 298.5 469.0 298.1 468.3 297.5 467.7 296.8 467.2 296.2 466.7 295.5 466.2 294.8 465.9 294.0 465.6 293.1 465.4 292.3 465.3 291.5 465.5 290.6 465.7 289.8 465.9 288.9 466.2 288.1 466.6 287.3 467.2 286.7 467.9 286.2 468.5 285.7 469.2 285.1 469.9 284.7 470.6 284.2 471.4 283.8 472.3 283.4 473.2 283.2 474.1 283.2 475.0 283.3 475.9 283.4 476.8 283.6 477.6 283.9 478.4 284.4 479.1 284.9 479.8 285.4 480.4 286.0 480.9 286.7 481.3 287.4 481.8 288.2 482.2 288.9 482.5 289.8 482.5 290.6Z" fill="none" stroke="#333" stroke-width="0.65" stroke-linejoin="round"/>
<path d="M481.3 291.5 481.4 292.3 481.4 293.0 481.3 293.8 481.0 294.5 480.6 295.2 480.2 295.8 479.6 296.3 478.9 296.7 478.2 297.1 477.5 297.5 476.9 297.9 476.2 298.2 475.4 298.3 474.6 298.4 473.9 298.5 473.1 298.6 472.3 298.6 471.6 298.4 470.8 298.2 470.1 297.9 469.4 297.4 468.9 296.8 468.4 296.2 467.8 295.7 467.3 295.1 466.9 294.5 466.7 293.8 466.5 293.0 466.4 292.3 466.4 291.5 466.5 290.8 466.7 290.1 466.9 289.4 467.1 288.7 467.4 288.0 467.9 287.4 468.4 286.9 468.9 286.3 469.4 285.6 470.1 285.1 470.8 284.8 471.6 284.5 472.3 284.3 473.1 284.3 473.9 284.4 474.6 284.6 475.4 284.7 476.2 284.8 476.9 285.0 477.6 285.4 478.2 285.8 478.9 286.3 479.5 286.8 479.9 287.4 480.4 288.0 480.8 288.6 481.1 289.3 481.3 290.0 481.3 290.8Z" fill="none" stroke="#333" stroke-width="0.65" stroke-linejoin="round"/>
<path d="M480.4 291.6 480.5 292.3 480.3 292.9 480.0 293.5 479.8 294.1 479.6 294.7 479.2 295.3 478.7 295.7 478.1 296.1 477.5 296.5 476.9 296.8 476.2 297.0 475.6 297.1 475.0 297.4 474.4 297.7 473.8 297.8 473.1 297.8 472.4 297.7 471.7 297.6 471.1 297.4 470.4 297.1 469.9 296.6 469.3 296.2 468.8 295.8 468.4 295.3 468.1 294.7 467.9 294.0 467.6 293.5 467.3 292.9 467.2 292.3 467.2 291.6 467.3 291.0 467.4 290.3 467.6 289.7 467.9 289.2 468.3 288.6 468.5 288.1 468.9 287.5 469.3 286.9 469.8 286.5 470.4 286.2 471.1 285.8 471.7 285.6 472.4 285.4 473.1 285.4 473.8 285.4 474.4 285.5 475.1 285.6 475.6 285.9 476.2 286.2 476.8 286.4 477.5 286.7 478.2 287.0 478.6 287.5 479.0 288.0 479.4 288.5 479.7 289.1 479.9 289.7 480.1 290.3 480.3 291.0Z" fill="none" stroke="#333" stroke-width="0.65" stroke-linejoin="round"/>
<path d="M478.9 291.7 479.0 292.2 479.0 292.8 479.1 293.3 478.9 293.9 478.6 294.3 478.2 294.8 477.8 295.2 477.4 295.6 477.0 296.0 476.4 296.2 475.9 296.4 475.3 296.6 474.7 296.7 474.1 296.7 473.6 296.7 473.0 296.8 472.4 296.8 471.9 296.7 471.3 296.3 470.9 296.0 470.4 295.7 469.9 295.4 469.5 295.1 469.1 294.7 468.7 294.3 468.4 293.9 468.1 293.4 468.0 292.8 468.0 292.2 468.0 291.7 468.0 291.1 468.1 290.6 468.3 290.1 468.6 289.6 468.9 289.2 469.2 288.7 469.6 288.3 470.0 287.9 470.4 287.5 470.8 287.1 471.3 286.9 471.9 286.7 472.4 286.7 473.0 286.6 473.6 286.5 474.2 286.5 474.8 286.6 475.4 286.7 476.0 286.8 476.5 287.1 476.9 287.4 477.3 287.8 477.8 288.2 478.2 288.6 478.5 289.1 478.6 289.6 478.6 290.1 478.8 290.6 478.9 291.1Z" fill="none" stroke="#333" stroke-width="0.65" stroke-linejoin="round"/>
<path d="M478.1 291.8 478.1 292.2 478.1 292.7 478.0 293.1 477.8 293.5 477.4 293.9 477.1 294.2 476.7 294.5 476.3 294.7 475.9 294.9 475.6 295.2 475.3 295.5 474.9 295.8 474.4 295.9 473.9 295.9 473.5 296.0 473.0 296.1 472.5 296.0 472.0 295.9 471.6 295.7 471.1 295.5 470.7 295.2 470.4 294.9 470.1 294.5 469.8 294.2 469.5 293.9 469.2 293.5 469.1 293.1 469.0 292.6 469.0 292.2 469.0 291.7 469.0 291.3 469.1 290.9 469.2 290.5 469.3 290.0 469.5 289.6 469.7 289.3 470.0 288.9 470.4 288.6 470.7 288.2 471.1 288.0 471.6 287.8 472.0 287.7 472.5 287.6 473.0 287.6 473.4 287.7 473.8 287.7 474.3 287.8 474.8 287.8 475.3 287.9 475.7 288.1 476.1 288.4 476.5 288.7 476.8 289.0 477.1 289.3 477.3 289.7 477.6 290.1 477.9 290.4 478.1 290.9 478.1 291.3Z" fill="none" stroke="#333" stroke-width="0.65" stroke-linejoin="round"/>
<path d="M476.9 291.8 476.9 292.2 476.8 292.5 476.7 292.8 476.5 293.1 476.3 293.4 476.2 293.7 476.1 294.1 475.8 294.4 475.5 294.6 475.2 294.7 474.8 294.9 474.5 295.0 474.1 295.1 473.7 295.1 473.3 295.0 472.9 295.0 472.5 294.9 472.2 294.7 471.9 294.6 471.5 294.5 471.2 294.5 470.9 294.3 470.6 294.1 470.4 293.8 470.2 293.5 470.0 293.2 469.9 292.9 469.8 292.5 469.7 292.2 469.7 291.9 469.7 291.5 469.8 291.2 469.9 290.8 470.0 290.5 470.2 290.2 470.4 289.9 470.7 289.7 470.9 289.5 471.2 289.2 471.5 289.1 471.9 289.0 472.2 288.9 472.5 288.7 472.9 288.6 473.3 288.5 473.7 288.5 474.1 288.6 474.5 288.7 474.9 288.8 475.2 289.0 475.4 289.2 475.7 289.4 476.0 289.7 476.2 289.9 476.3 290.2 476.4 290.5 476.6 290.8 476.8 291.2 476.9 291.5Z" fill="none" stroke="#333" stroke-width="0.65" stroke-linejoin="round"/>
<path d="M475.7 291.9 475.7 292.1 475.7 292.4 475.7 292.6 475.6 292.9 475.4 293.1 475.3 293.3 475.1 293.5 475.0 293.7 474.7 293.8 474.4 293.9 474.2 294.0 474.0 294.1 473.7 294.2 473.4 294.2 473.2 294.2 472.9 294.2 472.6 294.2 472.3 294.0 472.1 293.9 471.9 293.7 471.6 293.7 471.4 293.6 471.2 293.4 471.1 293.2 470.9 293.1 470.8 292.9 470.6 292.7 470.6 292.4 470.5 292.2 470.5 292.0 470.5 291.7 470.6 291.5 470.7 291.2 470.8 291.0 470.9 290.8 471.1 290.6 471.2 290.4 471.4 290.2 471.6 290.1 471.9 290.0 472.1 289.9 472.3 289.8 472.6 289.7 472.9 289.7 473.2 289.6 473.4 289.6 473.7 289.7 474.0 289.7 474.3 289.8 474.5 289.9 474.8 290.1 475.0 290.2 475.2 290.4 475.3 290.6 475.4 290.8 475.4 291.0 475.4 291.2 475.5 291.4 475.6 291.7Z" fill="none" stroke="#333" stroke-width="0.65" stroke-linejoin="round"/>
<path d="M474.6 292.0 474.6 292.1 474.5 292.2 474.5 292.4 474.5 292.5 474.4 292.7 474.4 292.8 474.2 292.9 474.1 293.0 474.0 293.1 473.9 293.2 473.7 293.3 473.5 293.3 473.3 293.3 473.1 293.3 473.0 293.2 472.8 293.2 472.6 293.1 472.5 293.2 472.3 293.2 472.2 293.2 472.1 293.1 471.9 293.0 471.8 292.9 471.7 292.8 471.6 292.7 471.5 292.5 471.5 292.4 471.4 292.3 471.4 292.2 471.4 292.0 471.4 291.9 471.4 291.7 471.5 291.6 471.5 291.5 471.6 291.4 471.7 291.2 471.8 291.1 471.9 291.0 472.1 291.0 472.2 290.9 472.3 290.8 472.5 290.8 472.7 290.7 472.9 290.7 473.0 290.7 473.2 290.7 473.4 290.7 473.5 290.8 473.7 290.8 473.8 290.9 474.0 290.9 474.1 291.0 474.1 291.1 474.2 291.2 474.3 291.3 474.5 291.5 474.5 291.6 474.6 291.7 474.6 291.9Z" fill="none" stroke="#333" stroke-width="0.65" stroke-linejoin="round"/>
<ellipse cx="473" cy="292" rx="1.3" ry="1.0" fill="#fff" fill-opacity="0.9" transform="rotate(0 473 292)"/>
<path d="M434.6 257.9 H427.7 Q425.3 257.9 425.3 260.3 Q425.3 262.7 427.7 262.7 H434.6" fill="none" stroke="#6a6a6a" stroke-width="0.8"/>
<path d="M440.6 257.5 Q436.4 257.8 436.4 260.4 Q436.4 263 440.6 263.2" fill="none" stroke="#6a6a6a" stroke-width="0.8"/>
<path d="M445.2 258.2 Q441.4 258.5 441.4 260.4 Q441.4 262.3 445.2 262.6" fill="none" stroke="#6a6a6a" stroke-width="0.8"/>
<path d="M445 260.3 Q445 258.6 450.8 258.6 Q456.8 258.6 456.8 260.3 Q456.8 262 450.8 262 Q445 262 445 260.3 Z" fill="none" stroke="#6a6a6a" stroke-width="0.8"/>
</svg></body></html>
